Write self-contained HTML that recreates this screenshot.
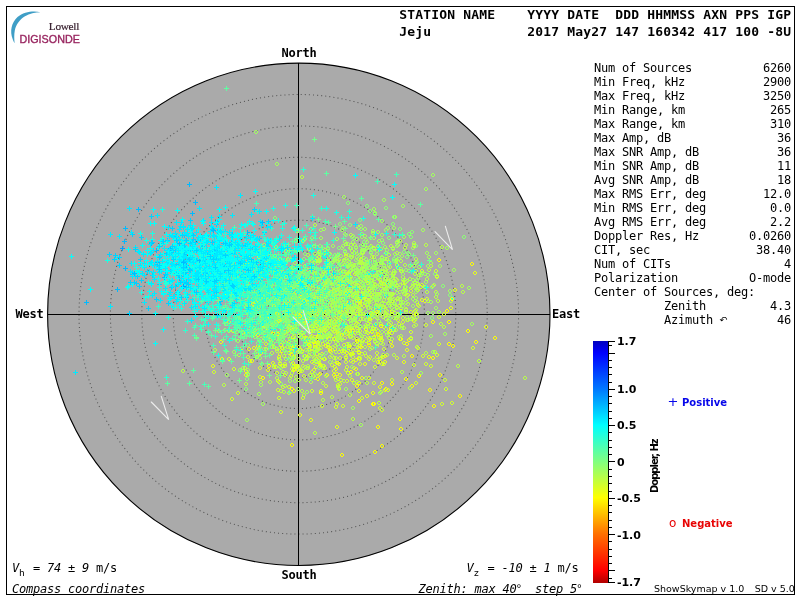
<!DOCTYPE html>
<html lang="en"><head><meta charset="utf-8"><title>Skymap - Jeju 2017 May27 160342</title>
<style>
html,body{margin:0;padding:0;background:#fff;}
body{width:800px;height:600px;position:relative;overflow:hidden;color:#000;
 font-family:"DejaVu Sans Mono","Liberation Mono",monospace;}
#g{position:absolute;left:0;top:0;}
.t{position:absolute;white-space:pre;margin:0;}
.hd{font-weight:bold;font-size:13px;letter-spacing:0.173px;line-height:16px;left:399.3px;}
.cp{font-weight:bold;font-size:12px;letter-spacing:-0.224px;line-height:14px;}
.m{font-size:12px;letter-spacing:-0.224px;line-height:14px;}
.m i,.m em{font-style:italic;}
.m sub{font-size:9.5px;vertical-align:baseline;position:relative;top:4px;display:inline-block;width:7px;letter-spacing:0;line-height:10px;}
.dg{font-family:"Liberation Sans",sans-serif;letter-spacing:0;display:inline-block;width:4.5px;font-style:normal;}
#tb{position:absolute;left:594px;top:61px;width:197px;font-size:12px;letter-spacing:-0.224px;line-height:14px;white-space:pre;}
#tb .r{position:relative;height:14px;}
#tb .v{position:absolute;right:0;top:0;}
#tb .az{font-style:normal;font-size:9.5px;position:absolute;top:-0.5px;left:125.6px;letter-spacing:0;line-height:14px;font-family:"DejaVu Sans",sans-serif;}
.sb{font-family:"DejaVu Sans","Liberation Sans",sans-serif;font-weight:bold;}
.sy{position:absolute;font-weight:normal;font-size:12px;line-height:14px;}
.lowell{font-family:"Liberation Serif",serif;font-size:11.3px;color:#38202f;left:48.8px;top:20.4px;line-height:13px;letter-spacing:-0.3px;-webkit-text-stroke:0.2px #38202f;}
.digi{font-family:"Liberation Sans",sans-serif;font-size:10.75px;color:#98245f;left:19.5px;top:33.2px;line-height:12px;-webkit-text-stroke:0.35px #98245f;}
</style></head><body>
<svg id="g" width="800" height="600" viewBox="0 0 800 600">
<defs><linearGradient id="cb" x1="0" y1="0" x2="0" y2="1"><stop offset="0.0000" stop-color="#0000be"/><stop offset="0.0486" stop-color="#0000ff"/><stop offset="0.1983" stop-color="#0078ff"/><stop offset="0.3481" stop-color="#00ffff"/><stop offset="0.4979" stop-color="#80ff80"/><stop offset="0.6477" stop-color="#ffff00"/><stop offset="0.7975" stop-color="#ff7000"/><stop offset="0.9473" stop-color="#ff0000"/><stop offset="1.0000" stop-color="#b00000"/></linearGradient></defs>
<rect x="6.5" y="6.5" width="788" height="588" fill="none" stroke="#000" stroke-width="1" shape-rendering="crispEdges"/>
<path d="M40.5 12.3C34 10.6 24 11.5 17.5 17C11.5 22.5 9.5 31 12.8 39.5C13.3 41 13.9 42.2 14.6 43.2C14.2 39 14 35 14.8 30.5C16 24.5 19.5 19.5 25 16.2C29.5 13.6 35 12.4 40.5 12.3Z" fill="#3f9ec6"/>
<circle cx="298.8" cy="314.3" r="251.2" fill="#aaaaaa" stroke="#000" stroke-width="1.1"/>
<g fill="none" stroke="#565656" stroke-width="1.05" stroke-dasharray="1.05 3.05">
<circle cx="298.8" cy="314.3" r="31.40"/>
<circle cx="298.8" cy="314.3" r="62.80"/>
<circle cx="298.8" cy="314.3" r="94.20"/>
<circle cx="298.8" cy="314.3" r="125.60"/>
<circle cx="298.8" cy="314.3" r="157.00"/>
<circle cx="298.8" cy="314.3" r="188.40"/>
<circle cx="298.8" cy="314.3" r="219.80"/>
</g>
<g stroke="#000" stroke-width="1" shape-rendering="crispEdges">
<path d="M298.5 63v502M48 314.5h502"/>
</g>
<g fill="none" stroke-width="1" stroke-linecap="square" shape-rendering="crispEdges" transform="translate(.5 .5)">
<path stroke="#fcff03" d="M418 374h1m1 1v1m-1 1h-1m-1-1v-1M439 373h1m1 1v1m-1 1h-1m-1-1v-1M438 258h1m1 1v1m-1 1h-1m-1-1v-1M459 394h1m1 1v1m-1 1h-1m-1-1v-1M360 345h1m1 1v1m-1 1h-1m-1-1v-1M350 370h1m1 1v1m-1 1h-1m-1-1v-1M380 324h1m1 1v1m-1 1h-1m-1-1v-1M283 330h1m1 1v1m-1 1h-1m-1-1v-1M257 344h1m1 1v1m-1 1h-1m-1-1v-1M406 342h1m1 1v1m-1 1h-1m-1-1v-1"/>
<path stroke="#e6ff1a" d="M363 295h1m1 1v1m-1 1h-1m-1-1v-1M428 355h1m1 1v1m-1 1h-1m-1-1v-1M310 418h1m1 1v1m-1 1h-1m-1-1v-1M258 347h1m1 1v1m-1 1h-1m-1-1v-1M311 315h1m1 1v1m-1 1h-1m-1-1v-1M294 338h1m1 1v1m-1 1h-1m-1-1v-1M317 334h1m1 1v1m-1 1h-1m-1-1v-1M313 311h1m1 1v1m-1 1h-1m-1-1v-1M302 308h1m1 1v1m-1 1h-1m-1-1v-1M353 366h1m1 1v1m-1 1h-1m-1-1v-1M358 381h1m1 1v1m-1 1h-1m-1-1v-1M291 347h1m1 1v1m-1 1h-1m-1-1v-1M432 284h1m1 1v1m-1 1h-1m-1-1v-1M341 349h1m1 1v1m-1 1h-1m-1-1v-1M268 336h1m1 1v1m-1 1h-1m-1-1v-1M321 352h1m1 1v1m-1 1h-1m-1-1v-1M355 358h1m1 1v1m-1 1h-1m-1-1v-1M406 348h1m1 1v1m-1 1h-1m-1-1v-1M245 369h1m1 1v1m-1 1h-1m-1-1v-1M399 337h1m1 1v1m-1 1h-1m-1-1v-1M326 335h1m1 1v1m-1 1h-1m-1-1v-1M212 364h1m1 1v1m-1 1h-1m-1-1v-1M281 349h1m1 1v1m-1 1h-1m-1-1v-1M272 332h1m1 1v1m-1 1h-1m-1-1v-1M220 340h1m1 1v1m-1 1h-1m-1-1v-1M318 356h1m1 1v1m-1 1h-1m-1-1v-1M251 359h1m1 1v1m-1 1h-1m-1-1v-1"/>
<path stroke="#cfff30" d="M359 357h1m1 1v1m-1 1h-1m-1-1v-1M310 276h1m1 1v1m-1 1h-1m-1-1v-1M281 327h1m1 1v1m-1 1h-1m-1-1v-1M347 371h1m1 1v1m-1 1h-1m-1-1v-1M355 291h1m1 1v1m-1 1h-1m-1-1v-1M313 339h1m1 1v1m-1 1h-1m-1-1v-1M309 348h1m1 1v1m-1 1h-1m-1-1v-1M342 404h1m1 1v1m-1 1h-1m-1-1v-1M326 326h1m1 1v1m-1 1h-1m-1-1v-1M379 406h1m1 1v1m-1 1h-1m-1-1v-1M327 343h1m1 1v1m-1 1h-1m-1-1v-1M289 345h1m1 1v1m-1 1h-1m-1-1v-1M237 391h1m1 1v1m-1 1h-1m-1-1v-1M318 361h1m1 1v1m-1 1h-1m-1-1v-1M372 307h1m1 1v1m-1 1h-1m-1-1v-1M289 346h1m1 1v1m-1 1h-1m-1-1v-1M303 334h1m1 1v1m-1 1h-1m-1-1v-1M350 335h1m1 1v1m-1 1h-1m-1-1v-1M345 355h1m1 1v1m-1 1h-1m-1-1v-1M339 382h1m1 1v1m-1 1h-1m-1-1v-1M232 329h1m1 1v1m-1 1h-1m-1-1v-1M359 312h1m1 1v1m-1 1h-1m-1-1v-1M350 327h1m1 1v1m-1 1h-1m-1-1v-1M288 385h1m1 1v1m-1 1h-1m-1-1v-1M241 346h1m1 1v1m-1 1h-1m-1-1v-1M280 410h1m1 1v1m-1 1h-1m-1-1v-1M337 377h1m1 1v1m-1 1h-1m-1-1v-1M259 366h1m1 1v1m-1 1h-1m-1-1v-1M291 347h1m1 1v1m-1 1h-1m-1-1v-1M317 322h1m1 1v1m-1 1h-1m-1-1v-1M347 327h1m1 1v1m-1 1h-1m-1-1v-1M300 368h1m1 1v1m-1 1h-1m-1-1v-1M345 326h1m1 1v1m-1 1h-1m-1-1v-1M377 333h1m1 1v1m-1 1h-1m-1-1v-1M259 325h1m1 1v1m-1 1h-1m-1-1v-1M357 372h1m1 1v1m-1 1h-1m-1-1v-1M290 374h1m1 1v1m-1 1h-1m-1-1v-1M400 269h1m1 1v1m-1 1h-1m-1-1v-1M354 272h1m1 1v1m-1 1h-1m-1-1v-1M340 378h1m1 1v1m-1 1h-1m-1-1v-1M315 365h1m1 1v1m-1 1h-1m-1-1v-1M309 345h1m1 1v1m-1 1h-1m-1-1v-1M366 272h1m1 1v1m-1 1h-1m-1-1v-1M260 351h1m1 1v1m-1 1h-1m-1-1v-1M352 295h1m1 1v1m-1 1h-1m-1-1v-1M317 341h1m1 1v1m-1 1h-1m-1-1v-1M314 335h1m1 1v1m-1 1h-1m-1-1v-1M373 381h1m1 1v1m-1 1h-1m-1-1v-1M333 330h1m1 1v1m-1 1h-1m-1-1v-1M354 318h1m1 1v1m-1 1h-1m-1-1v-1M345 356h1m1 1v1m-1 1h-1m-1-1v-1M297 302h1m1 1v1m-1 1h-1m-1-1v-1M318 290h1m1 1v1m-1 1h-1m-1-1v-1M358 344h1m1 1v1m-1 1h-1m-1-1v-1M295 310h1m1 1v1m-1 1h-1m-1-1v-1M279 352h1m1 1v1m-1 1h-1m-1-1v-1M298 370h1m1 1v1m-1 1h-1m-1-1v-1M284 364h1m1 1v1m-1 1h-1m-1-1v-1M293 354h1m1 1v1m-1 1h-1m-1-1v-1M402 316h1m1 1v1m-1 1h-1m-1-1v-1M355 280h1m1 1v1m-1 1h-1m-1-1v-1M375 327h1m1 1v1m-1 1h-1m-1-1v-1M355 348h1m1 1v1m-1 1h-1m-1-1v-1M314 376h1m1 1v1m-1 1h-1m-1-1v-1"/>
<path stroke="#b8ff47" d="M291 371h1m1 1v1m-1 1h-1m-1-1v-1M384 270h1m1 1v1m-1 1h-1m-1-1v-1M356 289h1m1 1v1m-1 1h-1m-1-1v-1M326 273h1m1 1v1m-1 1h-1m-1-1v-1M372 310h1m1 1v1m-1 1h-1m-1-1v-1M425 351h1m1 1v1m-1 1h-1m-1-1v-1M302 281h1m1 1v1m-1 1h-1m-1-1v-1M366 303h1m1 1v1m-1 1h-1m-1-1v-1M322 381h1m1 1v1m-1 1h-1m-1-1v-1M417 288h1m1 1v1m-1 1h-1m-1-1v-1M450 299h1m1 1v1m-1 1h-1m-1-1v-1M393 269h1m1 1v1m-1 1h-1m-1-1v-1M400 334h1m1 1v1m-1 1h-1m-1-1v-1M359 325h1m1 1v1m-1 1h-1m-1-1v-1M378 311h1m1 1v1m-1 1h-1m-1-1v-1M336 287h1m1 1v1m-1 1h-1m-1-1v-1M387 283h1m1 1v1m-1 1h-1m-1-1v-1M338 319h1m1 1v1m-1 1h-1m-1-1v-1M368 299h1m1 1v1m-1 1h-1m-1-1v-1M278 294h1m1 1v1m-1 1h-1m-1-1v-1M417 284h1m1 1v1m-1 1h-1m-1-1v-1M323 325h1m1 1v1m-1 1h-1m-1-1v-1M372 310h1m1 1v1m-1 1h-1m-1-1v-1M290 286h1m1 1v1m-1 1h-1m-1-1v-1M315 271h1m1 1v1m-1 1h-1m-1-1v-1M182 369h1m1 1v1m-1 1h-1m-1-1v-1M354 243h1m1 1v1m-1 1h-1m-1-1v-1M309 373h1m1 1v1m-1 1h-1m-1-1v-1M359 282h1m1 1v1m-1 1h-1m-1-1v-1M365 328h1m1 1v1m-1 1h-1m-1-1v-1M254 335h1m1 1v1m-1 1h-1m-1-1v-1M349 335h1m1 1v1m-1 1h-1m-1-1v-1M338 297h1m1 1v1m-1 1h-1m-1-1v-1M333 298h1m1 1v1m-1 1h-1m-1-1v-1M260 337h1m1 1v1m-1 1h-1m-1-1v-1M331 274h1m1 1v1m-1 1h-1m-1-1v-1M337 334h1m1 1v1m-1 1h-1m-1-1v-1M363 279h1m1 1v1m-1 1h-1m-1-1v-1M269 380h1m1 1v1m-1 1h-1m-1-1v-1M349 290h1m1 1v1m-1 1h-1m-1-1v-1M382 281h1m1 1v1m-1 1h-1m-1-1v-1M389 280h1m1 1v1m-1 1h-1m-1-1v-1M332 282h1m1 1v1m-1 1h-1m-1-1v-1M351 249h1m1 1v1m-1 1h-1m-1-1v-1M335 311h1m1 1v1m-1 1h-1m-1-1v-1M323 302h1m1 1v1m-1 1h-1m-1-1v-1M330 350h1m1 1v1m-1 1h-1m-1-1v-1M329 289h1m1 1v1m-1 1h-1m-1-1v-1M349 276h1m1 1v1m-1 1h-1m-1-1v-1M416 312h1m1 1v1m-1 1h-1m-1-1v-1M218 329h1m1 1v1m-1 1h-1m-1-1v-1M371 273h1m1 1v1m-1 1h-1m-1-1v-1M415 323h1m1 1v1m-1 1h-1m-1-1v-1M377 329h1m1 1v1m-1 1h-1m-1-1v-1M349 318h1m1 1v1m-1 1h-1m-1-1v-1M390 244h1m1 1v1m-1 1h-1m-1-1v-1M308 340h1m1 1v1m-1 1h-1m-1-1v-1M247 329h1m1 1v1m-1 1h-1m-1-1v-1M324 268h1m1 1v1m-1 1h-1m-1-1v-1M311 259h1m1 1v1m-1 1h-1m-1-1v-1M293 329h1m1 1v1m-1 1h-1m-1-1v-1M375 303h1m1 1v1m-1 1h-1m-1-1v-1M343 294h1m1 1v1m-1 1h-1m-1-1v-1M360 312h1m1 1v1m-1 1h-1m-1-1v-1M279 319h1m1 1v1m-1 1h-1m-1-1v-1M318 291h1m1 1v1m-1 1h-1m-1-1v-1M307 253h1m1 1v1m-1 1h-1m-1-1v-1M382 342h1m1 1v1m-1 1h-1m-1-1v-1M359 259h1m1 1v1m-1 1h-1m-1-1v-1M339 322h1m1 1v1m-1 1h-1m-1-1v-1M311 317h1m1 1v1m-1 1h-1m-1-1v-1M282 315h1m1 1v1m-1 1h-1m-1-1v-1M407 318h1m1 1v1m-1 1h-1m-1-1v-1M299 329h1m1 1v1m-1 1h-1m-1-1v-1M367 306h1m1 1v1m-1 1h-1m-1-1v-1M390 284h1m1 1v1m-1 1h-1m-1-1v-1M386 353h1m1 1v1m-1 1h-1m-1-1v-1M359 289h1m1 1v1m-1 1h-1m-1-1v-1M350 255h1m1 1v1m-1 1h-1m-1-1v-1M425 243h1m1 1v1m-1 1h-1m-1-1v-1M280 389h1m1 1v1m-1 1h-1m-1-1v-1M323 309h1m1 1v1m-1 1h-1m-1-1v-1M364 262h1m1 1v1m-1 1h-1m-1-1v-1M329 323h1m1 1v1m-1 1h-1m-1-1v-1M373 336h1m1 1v1m-1 1h-1m-1-1v-1M347 317h1m1 1v1m-1 1h-1m-1-1v-1M379 313h1m1 1v1m-1 1h-1m-1-1v-1M324 285h1m1 1v1m-1 1h-1m-1-1v-1M334 344h1m1 1v1m-1 1h-1m-1-1v-1M413 241h1m1 1v1m-1 1h-1m-1-1v-1M376 344h1m1 1v1m-1 1h-1m-1-1v-1M295 316h1m1 1v1m-1 1h-1m-1-1v-1M365 301h1m1 1v1m-1 1h-1m-1-1v-1M353 342h1m1 1v1m-1 1h-1m-1-1v-1M339 309h1m1 1v1m-1 1h-1m-1-1v-1M345 257h1m1 1v1m-1 1h-1m-1-1v-1M443 325h1m1 1v1m-1 1h-1m-1-1v-1M360 317h1m1 1v1m-1 1h-1m-1-1v-1M373 327h1m1 1v1m-1 1h-1m-1-1v-1M319 258h1m1 1v1m-1 1h-1m-1-1v-1M374 340h1m1 1v1m-1 1h-1m-1-1v-1M340 347h1m1 1v1m-1 1h-1m-1-1v-1M298 279h1m1 1v1m-1 1h-1m-1-1v-1M385 330h1m1 1v1m-1 1h-1m-1-1v-1M402 300h1m1 1v1m-1 1h-1m-1-1v-1M364 345h1m1 1v1m-1 1h-1m-1-1v-1M392 285h1m1 1v1m-1 1h-1m-1-1v-1M426 277h1m1 1v1m-1 1h-1m-1-1v-1M369 347h1m1 1v1m-1 1h-1m-1-1v-1M391 310h1m1 1v1m-1 1h-1m-1-1v-1M416 345h1m1 1v1m-1 1h-1m-1-1v-1M341 278h1m1 1v1m-1 1h-1m-1-1v-1M375 283h1m1 1v1m-1 1h-1m-1-1v-1M336 306h1m1 1v1m-1 1h-1m-1-1v-1M396 278h1m1 1v1m-1 1h-1m-1-1v-1M263 302h1m1 1v1m-1 1h-1m-1-1v-1M322 364h1m1 1v1m-1 1h-1m-1-1v-1M379 305h1m1 1v1m-1 1h-1m-1-1v-1M350 275h1m1 1v1m-1 1h-1m-1-1v-1M415 269h1m1 1v1m-1 1h-1m-1-1v-1M308 337h1m1 1v1m-1 1h-1m-1-1v-1M418 273h1m1 1v1m-1 1h-1m-1-1v-1M318 285h1m1 1v1m-1 1h-1m-1-1v-1M290 299h1m1 1v1m-1 1h-1m-1-1v-1M357 284h1m1 1v1m-1 1h-1m-1-1v-1M440 322h1m1 1v1m-1 1h-1m-1-1v-1M360 258h1m1 1v1m-1 1h-1m-1-1v-1M331 395h1m1 1v1m-1 1h-1m-1-1v-1"/>
<path stroke="#a2ff5e" d="M317 312h1m1 1v1m-1 1h-1m-1-1v-1M312 292h1m1 1v1m-1 1h-1m-1-1v-1M364 290h1m1 1v1m-1 1h-1m-1-1v-1M400 301h1m1 1v1m-1 1h-1m-1-1v-1M356 286h1m1 1v1m-1 1h-1m-1-1v-1M307 310h1m1 1v1m-1 1h-1m-1-1v-1M282 346h1m1 1v1m-1 1h-1m-1-1v-1M323 325h1m1 1v1m-1 1h-1m-1-1v-1M342 261h1m1 1v1m-1 1h-1m-1-1v-1M261 285h1m1 1v1m-1 1h-1m-1-1v-1M353 318h1m1 1v1m-1 1h-1m-1-1v-1M296 229h1m1 1v1m-1 1h-1m-1-1v-1M430 334h1m1 1v1m-1 1h-1m-1-1v-1M345 289h1m1 1v1m-1 1h-1m-1-1v-1M328 299h1m1 1v1m-1 1h-1m-1-1v-1M294 329h1m1 1v1m-1 1h-1m-1-1v-1M344 258h1m1 1v1m-1 1h-1m-1-1v-1M320 236h1m1 1v1m-1 1h-1m-1-1v-1M311 283h1m1 1v1m-1 1h-1m-1-1v-1M396 316h1m1 1v1m-1 1h-1m-1-1v-1M322 335h1m1 1v1m-1 1h-1m-1-1v-1M329 319h1m1 1v1m-1 1h-1m-1-1v-1M394 282h1m1 1v1m-1 1h-1m-1-1v-1M379 300h1m1 1v1m-1 1h-1m-1-1v-1M380 247h1m1 1v1m-1 1h-1m-1-1v-1M259 356h1m1 1v1m-1 1h-1m-1-1v-1M425 285h1m1 1v1m-1 1h-1m-1-1v-1M323 291h1m1 1v1m-1 1h-1m-1-1v-1M366 240h1m1 1v1m-1 1h-1m-1-1v-1M392 272h1m1 1v1m-1 1h-1m-1-1v-1M329 263h1m1 1v1m-1 1h-1m-1-1v-1M381 260h1m1 1v1m-1 1h-1m-1-1v-1M314 269h1m1 1v1m-1 1h-1m-1-1v-1M306 328h1m1 1v1m-1 1h-1m-1-1v-1M406 315h1m1 1v1m-1 1h-1m-1-1v-1M293 319h1m1 1v1m-1 1h-1m-1-1v-1M315 317h1m1 1v1m-1 1h-1m-1-1v-1M427 273h1m1 1v1m-1 1h-1m-1-1v-1M345 387h1m1 1v1m-1 1h-1m-1-1v-1M344 277h1m1 1v1m-1 1h-1m-1-1v-1M385 228h1m1 1v1m-1 1h-1m-1-1v-1M351 253h1m1 1v1m-1 1h-1m-1-1v-1M333 258h1m1 1v1m-1 1h-1m-1-1v-1M300 292h1m1 1v1m-1 1h-1m-1-1v-1M313 293h1m1 1v1m-1 1h-1m-1-1v-1M395 316h1m1 1v1m-1 1h-1m-1-1v-1M358 304h1m1 1v1m-1 1h-1m-1-1v-1M415 287h1m1 1v1m-1 1h-1m-1-1v-1M430 261h1m1 1v1m-1 1h-1m-1-1v-1M335 274h1m1 1v1m-1 1h-1m-1-1v-1M390 284h1m1 1v1m-1 1h-1m-1-1v-1M298 333h1m1 1v1m-1 1h-1m-1-1v-1M370 285h1m1 1v1m-1 1h-1m-1-1v-1M395 287h1m1 1v1m-1 1h-1m-1-1v-1M369 259h1m1 1v1m-1 1h-1m-1-1v-1M278 263h1m1 1v1m-1 1h-1m-1-1v-1M312 308h1m1 1v1m-1 1h-1m-1-1v-1M317 311h1m1 1v1m-1 1h-1m-1-1v-1M278 338h1m1 1v1m-1 1h-1m-1-1v-1M371 329h1m1 1v1m-1 1h-1m-1-1v-1M364 227h1m1 1v1m-1 1h-1m-1-1v-1M389 304h1m1 1v1m-1 1h-1m-1-1v-1M412 246h1m1 1v1m-1 1h-1m-1-1v-1M354 318h1m1 1v1m-1 1h-1m-1-1v-1M359 308h1m1 1v1m-1 1h-1m-1-1v-1M332 314h1m1 1v1m-1 1h-1m-1-1v-1M294 306h1m1 1v1m-1 1h-1m-1-1v-1M365 376h1m1 1v1m-1 1h-1m-1-1v-1M283 274h1m1 1v1m-1 1h-1m-1-1v-1M297 331h1m1 1v1m-1 1h-1m-1-1v-1M385 313h1m1 1v1m-1 1h-1m-1-1v-1M364 267h1m1 1v1m-1 1h-1m-1-1v-1M282 370h1m1 1v1m-1 1h-1m-1-1v-1M354 295h1m1 1v1m-1 1h-1m-1-1v-1M420 273h1m1 1v1m-1 1h-1m-1-1v-1M354 285h1m1 1v1m-1 1h-1m-1-1v-1M362 281h1m1 1v1m-1 1h-1m-1-1v-1M300 276h1m1 1v1m-1 1h-1m-1-1v-1M332 260h1m1 1v1m-1 1h-1m-1-1v-1M319 274h1m1 1v1m-1 1h-1m-1-1v-1M388 260h1m1 1v1m-1 1h-1m-1-1v-1M348 342h1m1 1v1m-1 1h-1m-1-1v-1M318 258h1m1 1v1m-1 1h-1m-1-1v-1M397 313h1m1 1v1m-1 1h-1m-1-1v-1M279 321h1m1 1v1m-1 1h-1m-1-1v-1M319 259h1m1 1v1m-1 1h-1m-1-1v-1M315 281h1m1 1v1m-1 1h-1m-1-1v-1M363 325h1m1 1v1m-1 1h-1m-1-1v-1M381 256h1m1 1v1m-1 1h-1m-1-1v-1M371 312h1m1 1v1m-1 1h-1m-1-1v-1M417 276h1m1 1v1m-1 1h-1m-1-1v-1M285 333h1m1 1v1m-1 1h-1m-1-1v-1M347 253h1m1 1v1m-1 1h-1m-1-1v-1M305 323h1m1 1v1m-1 1h-1m-1-1v-1M397 266h1m1 1v1m-1 1h-1m-1-1v-1M367 289h1m1 1v1m-1 1h-1m-1-1v-1M293 364h1m1 1v1m-1 1h-1m-1-1v-1M362 276h1m1 1v1m-1 1h-1m-1-1v-1M345 307h1m1 1v1m-1 1h-1m-1-1v-1M392 274h1m1 1v1m-1 1h-1m-1-1v-1M270 296h1m1 1v1m-1 1h-1m-1-1v-1M345 270h1m1 1v1m-1 1h-1m-1-1v-1M394 215h1m1 1v1m-1 1h-1m-1-1v-1M301 301h1m1 1v1m-1 1h-1m-1-1v-1M328 272h1m1 1v1m-1 1h-1m-1-1v-1M446 246h1m1 1v1m-1 1h-1m-1-1v-1M357 257h1m1 1v1m-1 1h-1m-1-1v-1M286 313h1m1 1v1m-1 1h-1m-1-1v-1M347 349h1m1 1v1m-1 1h-1m-1-1v-1M357 257h1m1 1v1m-1 1h-1m-1-1v-1M285 261h1m1 1v1m-1 1h-1m-1-1v-1M331 337h1m1 1v1m-1 1h-1m-1-1v-1M337 260h1m1 1v1m-1 1h-1m-1-1v-1M331 292h1m1 1v1m-1 1h-1m-1-1v-1M342 284h1m1 1v1m-1 1h-1m-1-1v-1M345 311h1m1 1v1m-1 1h-1m-1-1v-1M332 325h1m1 1v1m-1 1h-1m-1-1v-1M308 310h1m1 1v1m-1 1h-1m-1-1v-1M383 272h1m1 1v1m-1 1h-1m-1-1v-1M308 275h1m1 1v1m-1 1h-1m-1-1v-1M226 373h1m1 1v1m-1 1h-1m-1-1v-1M398 285h1m1 1v1m-1 1h-1m-1-1v-1M397 243h1m1 1v1m-1 1h-1m-1-1v-1M378 276h1m1 1v1m-1 1h-1m-1-1v-1M375 273h1m1 1v1m-1 1h-1m-1-1v-1M335 288h1m1 1v1m-1 1h-1m-1-1v-1M349 246h1m1 1v1m-1 1h-1m-1-1v-1M391 282h1m1 1v1m-1 1h-1m-1-1v-1M312 277h1m1 1v1m-1 1h-1m-1-1v-1M332 322h1m1 1v1m-1 1h-1m-1-1v-1M348 273h1m1 1v1m-1 1h-1m-1-1v-1M305 307h1m1 1v1m-1 1h-1m-1-1v-1M403 235h1m1 1v1m-1 1h-1m-1-1v-1M279 365h1m1 1v1m-1 1h-1m-1-1v-1M314 372h1m1 1v1m-1 1h-1m-1-1v-1M366 318h1m1 1v1m-1 1h-1m-1-1v-1M378 310h1m1 1v1m-1 1h-1m-1-1v-1M374 314h1m1 1v1m-1 1h-1m-1-1v-1M357 329h1m1 1v1m-1 1h-1m-1-1v-1M351 311h1m1 1v1m-1 1h-1m-1-1v-1M343 270h1m1 1v1m-1 1h-1m-1-1v-1"/>
<path stroke="#8bff75" d="M368 317h1m1 1v1m-1 1h-1m-1-1v-1M266 314h1m1 1v1m-1 1h-1m-1-1v-1M317 299h1m1 1v1m-1 1h-1m-1-1v-1M368 290h1m1 1v1m-1 1h-1m-1-1v-1M247 320h1m1 1v1m-1 1h-1m-1-1v-1M306 316h1m1 1v1m-1 1h-1m-1-1v-1M324 307h1m1 1v1m-1 1h-1m-1-1v-1M301 288h1m1 1v1m-1 1h-1m-1-1v-1M381 291h1m1 1v1m-1 1h-1m-1-1v-1M333 269h1m1 1v1m-1 1h-1m-1-1v-1M268 334h1m1 1v1m-1 1h-1m-1-1v-1M260 296h1m1 1v1m-1 1h-1m-1-1v-1M379 282h1m1 1v1m-1 1h-1m-1-1v-1M249 324h1m1 1v1m-1 1h-1m-1-1v-1M301 260h1m1 1v1m-1 1h-1m-1-1v-1M321 279h1m1 1v1m-1 1h-1m-1-1v-1M284 289h1m1 1v1m-1 1h-1m-1-1v-1M317 316h1m1 1v1m-1 1h-1m-1-1v-1M280 324h1m1 1v1m-1 1h-1m-1-1v-1M280 382h1m1 1v1m-1 1h-1m-1-1v-1M268 290h1m1 1v1m-1 1h-1m-1-1v-1M327 322h1m1 1v1m-1 1h-1m-1-1v-1M291 302h1m1 1v1m-1 1h-1m-1-1v-1M360 227h1m1 1v1m-1 1h-1m-1-1v-1M421 271h1m1 1v1m-1 1h-1m-1-1v-1M369 262h1m1 1v1m-1 1h-1m-1-1v-1M260 321h1m1 1v1m-1 1h-1m-1-1v-1M321 312h1m1 1v1m-1 1h-1m-1-1v-1M331 295h1m1 1v1m-1 1h-1m-1-1v-1M270 341h1m1 1v1m-1 1h-1m-1-1v-1M339 278h1m1 1v1m-1 1h-1m-1-1v-1M257 341h1m1 1v1m-1 1h-1m-1-1v-1M245 296h1m1 1v1m-1 1h-1m-1-1v-1M393 259h1m1 1v1m-1 1h-1m-1-1v-1M318 308h1m1 1v1m-1 1h-1m-1-1v-1M364 274h1m1 1v1m-1 1h-1m-1-1v-1M291 350h1m1 1v1m-1 1h-1m-1-1v-1M307 299h1m1 1v1m-1 1h-1m-1-1v-1M259 339h1m1 1v1m-1 1h-1m-1-1v-1M359 218h1m1 1v1m-1 1h-1m-1-1v-1M338 246h1m1 1v1m-1 1h-1m-1-1v-1M349 279h1m1 1v1m-1 1h-1m-1-1v-1M345 301h1m1 1v1m-1 1h-1m-1-1v-1M326 336h1m1 1v1m-1 1h-1m-1-1v-1M275 273h1m1 1v1m-1 1h-1m-1-1v-1M281 288h1m1 1v1m-1 1h-1m-1-1v-1M260 306h1m1 1v1m-1 1h-1m-1-1v-1M324 282h1m1 1v1m-1 1h-1m-1-1v-1M326 249h1m1 1v1m-1 1h-1m-1-1v-1M288 301h1m1 1v1m-1 1h-1m-1-1v-1M322 296h1m1 1v1m-1 1h-1m-1-1v-1M326 279h1m1 1v1m-1 1h-1m-1-1v-1M344 321h1m1 1v1m-1 1h-1m-1-1v-1M281 293h1m1 1v1m-1 1h-1m-1-1v-1M361 270h1m1 1v1m-1 1h-1m-1-1v-1M287 313h1m1 1v1m-1 1h-1m-1-1v-1M407 251h1m1 1v1m-1 1h-1m-1-1v-1M405 289h1m1 1v1m-1 1h-1m-1-1v-1M416 260h1m1 1v1m-1 1h-1m-1-1v-1M353 236h1m1 1v1m-1 1h-1m-1-1v-1M288 296h1m1 1v1m-1 1h-1m-1-1v-1M279 331h1m1 1v1m-1 1h-1m-1-1v-1M326 333h1m1 1v1m-1 1h-1m-1-1v-1M295 338h1m1 1v1m-1 1h-1m-1-1v-1M304 315h1m1 1v1m-1 1h-1m-1-1v-1M368 283h1m1 1v1m-1 1h-1m-1-1v-1M308 342h1m1 1v1m-1 1h-1m-1-1v-1M335 298h1m1 1v1m-1 1h-1m-1-1v-1M337 322h1m1 1v1m-1 1h-1m-1-1v-1M230 299h1m1 1v1m-1 1h-1m-1-1v-1M322 310h1m1 1v1m-1 1h-1m-1-1v-1M281 329h1m1 1v1m-1 1h-1m-1-1v-1M316 291h1m1 1v1m-1 1h-1m-1-1v-1M294 314h1m1 1v1m-1 1h-1m-1-1v-1M331 319h1m1 1v1m-1 1h-1m-1-1v-1M324 319h1m1 1v1m-1 1h-1m-1-1v-1M374 286h1m1 1v1m-1 1h-1m-1-1v-1M358 261h1m1 1v1m-1 1h-1m-1-1v-1M319 308h1m1 1v1m-1 1h-1m-1-1v-1M309 289h1m1 1v1m-1 1h-1m-1-1v-1M304 302h1m1 1v1m-1 1h-1m-1-1v-1M340 331h1m1 1v1m-1 1h-1m-1-1v-1M323 295h1m1 1v1m-1 1h-1m-1-1v-1M316 274h1m1 1v1m-1 1h-1m-1-1v-1M376 274h1m1 1v1m-1 1h-1m-1-1v-1M343 273h1m1 1v1m-1 1h-1m-1-1v-1M278 336h1m1 1v1m-1 1h-1m-1-1v-1M334 323h1m1 1v1m-1 1h-1m-1-1v-1M364 292h1m1 1v1m-1 1h-1m-1-1v-1"/>
<path stroke="#75ff8b" d="M245 274h4m-2-2v4M292 329h4m-2-2v4M238 337h4m-2-2v4M271 320h4m-2-2v4M224 351h4m-2-2v4M281 343h4m-2-2v4M328 264h4m-2-2v4M278 300h4m-2-2v4M308 319h4m-2-2v4M281 301h4m-2-2v4M270 325h4m-2-2v4M289 329h4m-2-2v4M273 312h4m-2-2v4M314 301h4m-2-2v4M312 306h4m-2-2v4M315 273h4m-2-2v4M303 331h4m-2-2v4M314 269h4m-2-2v4M296 230h4m-2-2v4M327 282h4m-2-2v4M273 311h4m-2-2v4M291 358h4m-2-2v4M237 316h4m-2-2v4M233 339h4m-2-2v4M268 335h4m-2-2v4M289 271h4m-2-2v4M271 339h4m-2-2v4M298 336h4m-2-2v4M252 303h4m-2-2v4M302 301h4m-2-2v4M288 331h4m-2-2v4M285 297h4m-2-2v4M261 334h4m-2-2v4M257 313h4m-2-2v4M292 329h4m-2-2v4M333 226h4m-2-2v4M274 309h4m-2-2v4M312 315h4m-2-2v4M267 281h4m-2-2v4M290 298h4m-2-2v4M256 300h4m-2-2v4M310 282h4m-2-2v4M332 298h4m-2-2v4M316 312h4m-2-2v4M309 315h4m-2-2v4M312 310h4m-2-2v4M270 324h4m-2-2v4M307 295h4m-2-2v4M220 361h4m-2-2v4M276 312h4m-2-2v4M248 268h4m-2-2v4M296 296h4m-2-2v4M321 298h4m-2-2v4M301 345h4m-2-2v4M286 290h4m-2-2v4M265 331h4m-2-2v4M255 296h4m-2-2v4M343 347h4m-2-2v4M293 317h4m-2-2v4M298 289h4m-2-2v4M237 380h4m-2-2v4M344 316h4m-2-2v4M290 345h4m-2-2v4M311 305h4m-2-2v4M273 308h4m-2-2v4M326 289h4m-2-2v4M271 264h4m-2-2v4M280 298h4m-2-2v4M312 279h4m-2-2v4M310 339h4m-2-2v4M316 270h4m-2-2v4"/>
<path stroke="#5effa2" d="M295 276h4m-2-2v4M324 173h4m-2-2v4M272 277h4m-2-2v4M297 297h4m-2-2v4M291 310h4m-2-2v4M272 336h4m-2-2v4M267 300h4m-2-2v4M316 301h4m-2-2v4M260 310h4m-2-2v4M278 288h4m-2-2v4M281 321h4m-2-2v4M273 308h4m-2-2v4M303 307h4m-2-2v4M298 323h4m-2-2v4M286 311h4m-2-2v4M274 289h4m-2-2v4M285 296h4m-2-2v4M275 272h4m-2-2v4M221 293h4m-2-2v4M282 304h4m-2-2v4M296 300h4m-2-2v4M246 309h4m-2-2v4M266 271h4m-2-2v4M307 272h4m-2-2v4M292 329h4m-2-2v4M335 274h4m-2-2v4M272 269h4m-2-2v4M276 318h4m-2-2v4M234 299h4m-2-2v4M308 298h4m-2-2v4M269 304h4m-2-2v4M226 295h4m-2-2v4M242 234h4m-2-2v4M256 332h4m-2-2v4M324 300h4m-2-2v4M338 265h4m-2-2v4M293 308h4m-2-2v4M278 289h4m-2-2v4M217 330h4m-2-2v4M267 303h4m-2-2v4M279 326h4m-2-2v4M263 353h4m-2-2v4M293 296h4m-2-2v4M311 313h4m-2-2v4M298 323h4m-2-2v4M284 291h4m-2-2v4M265 298h4m-2-2v4M251 313h4m-2-2v4M298 299h4m-2-2v4M275 308h4m-2-2v4M233 324h4m-2-2v4M234 307h4m-2-2v4M320 307h4m-2-2v4M269 315h4m-2-2v4M265 322h4m-2-2v4M263 304h4m-2-2v4M287 287h4m-2-2v4M284 283h4m-2-2v4M282 278h4m-2-2v4M222 323h4m-2-2v4M367 262h4m-2-2v4M281 330h4m-2-2v4M370 311h4m-2-2v4M298 308h4m-2-2v4M259 271h4m-2-2v4M272 346h4m-2-2v4M297 271h4m-2-2v4M271 269h4m-2-2v4M250 321h4m-2-2v4"/>
<path stroke="#47ffb8" d="M233 292h4m-2-2v4M240 278h4m-2-2v4M230 246h4m-2-2v4M299 293h4m-2-2v4M221 307h4m-2-2v4M252 305h4m-2-2v4M288 301h4m-2-2v4M251 299h4m-2-2v4M248 261h4m-2-2v4M236 315h4m-2-2v4M216 325h4m-2-2v4M285 293h4m-2-2v4M275 290h4m-2-2v4M297 307h4m-2-2v4M255 305h4m-2-2v4M273 275h4m-2-2v4M269 328h4m-2-2v4M238 310h4m-2-2v4M309 265h4m-2-2v4M283 300h4m-2-2v4M281 267h4m-2-2v4M301 318h4m-2-2v4M263 309h4m-2-2v4M226 316h4m-2-2v4M193 325h4m-2-2v4M295 290h4m-2-2v4M247 273h4m-2-2v4M261 289h4m-2-2v4M238 266h4m-2-2v4M304 225h4m-2-2v4M245 326h4m-2-2v4M254 334h4m-2-2v4M266 331h4m-2-2v4M233 311h4m-2-2v4M296 297h4m-2-2v4M252 297h4m-2-2v4M279 328h4m-2-2v4M235 306h4m-2-2v4M192 335h4m-2-2v4M338 295h4m-2-2v4M285 276h4m-2-2v4M270 256h4m-2-2v4M272 300h4m-2-2v4M282 260h4m-2-2v4M304 294h4m-2-2v4M256 303h4m-2-2v4M369 316h4m-2-2v4M252 278h4m-2-2v4M249 317h4m-2-2v4M247 306h4m-2-2v4M245 302h4m-2-2v4M223 291h4m-2-2v4M241 357h4m-2-2v4"/>
<path stroke="#30ffcf" d="M202 320h4m-2-2v4M209 271h4m-2-2v4M284 307h4m-2-2v4M246 296h4m-2-2v4M301 169h4m-2-2v4M263 269h4m-2-2v4M211 308h4m-2-2v4M310 256h4m-2-2v4M230 278h4m-2-2v4M211 300h4m-2-2v4M251 267h4m-2-2v4M224 275h4m-2-2v4M164 377h4m-2-2v4M216 289h4m-2-2v4M263 291h4m-2-2v4M156 306h4m-2-2v4M319 285h4m-2-2v4M321 286h4m-2-2v4M243 285h4m-2-2v4M386 283h4m-2-2v4M192 277h4m-2-2v4M191 292h4m-2-2v4M244 253h4m-2-2v4M208 258h4m-2-2v4M293 277h4m-2-2v4M262 318h4m-2-2v4M295 250h4m-2-2v4M267 252h4m-2-2v4M264 277h4m-2-2v4M254 302h4m-2-2v4M387 263h4m-2-2v4M338 323h4m-2-2v4M231 303h4m-2-2v4M222 268h4m-2-2v4M232 316h4m-2-2v4M301 239h4m-2-2v4M246 312h4m-2-2v4M260 249h4m-2-2v4M263 239h4m-2-2v4M197 284h4m-2-2v4M259 258h4m-2-2v4M230 312h4m-2-2v4M211 317h4m-2-2v4M242 254h4m-2-2v4M214 328h4m-2-2v4M216 269h4m-2-2v4M259 276h4m-2-2v4M242 274h4m-2-2v4M280 309h4m-2-2v4M207 285h4m-2-2v4M225 277h4m-2-2v4M269 302h4m-2-2v4M272 254h4m-2-2v4M366 278h4m-2-2v4M228 256h4m-2-2v4M249 335h4m-2-2v4M283 299h4m-2-2v4M290 281h4m-2-2v4M266 269h4m-2-2v4M263 267h4m-2-2v4M218 316h4m-2-2v4"/>
<path stroke="#1affe6" d="M224 288h4m-2-2v4M214 324h4m-2-2v4M261 314h4m-2-2v4M290 273h4m-2-2v4M244 331h4m-2-2v4M269 265h4m-2-2v4M209 264h4m-2-2v4M210 277h4m-2-2v4M204 305h4m-2-2v4M250 282h4m-2-2v4M232 278h4m-2-2v4M224 297h4m-2-2v4M201 251h4m-2-2v4M243 263h4m-2-2v4M214 252h4m-2-2v4M218 316h4m-2-2v4M216 275h4m-2-2v4M210 237h4m-2-2v4M266 284h4m-2-2v4M223 249h4m-2-2v4M235 251h4m-2-2v4M282 267h4m-2-2v4M214 255h4m-2-2v4M292 274h4m-2-2v4M318 333h4m-2-2v4M193 278h4m-2-2v4M299 280h4m-2-2v4M203 324h4m-2-2v4M245 284h4m-2-2v4M257 296h4m-2-2v4M230 264h4m-2-2v4M243 241h4m-2-2v4M310 250h4m-2-2v4M134 270h4m-2-2v4M253 322h4m-2-2v4M212 270h4m-2-2v4M247 263h4m-2-2v4M194 261h4m-2-2v4M217 271h4m-2-2v4M186 262h4m-2-2v4M204 290h4m-2-2v4M373 324h4m-2-2v4M229 302h4m-2-2v4M150 239h4m-2-2v4M253 303h4m-2-2v4M341 278h4m-2-2v4M274 273h4m-2-2v4M282 261h4m-2-2v4M219 284h4m-2-2v4M276 271h4m-2-2v4M289 260h4m-2-2v4M189 293h4m-2-2v4M252 291h4m-2-2v4M240 316h4m-2-2v4M208 278h4m-2-2v4M238 296h4m-2-2v4M256 293h4m-2-2v4M210 299h4m-2-2v4M254 276h4m-2-2v4M229 264h4m-2-2v4M247 266h4m-2-2v4M152 275h4m-2-2v4M379 272h4m-2-2v4M284 252h4m-2-2v4M300 241h4m-2-2v4M209 287h4m-2-2v4M222 269h4m-2-2v4M216 248h4m-2-2v4M274 248h4m-2-2v4M203 249h4m-2-2v4M250 254h4m-2-2v4M266 258h4m-2-2v4M282 223h4m-2-2v4M283 205h4m-2-2v4M253 293h4m-2-2v4M227 256h4m-2-2v4M272 261h4m-2-2v4M272 254h4m-2-2v4M226 286h4m-2-2v4M271 269h4m-2-2v4M146 296h4m-2-2v4M204 296h4m-2-2v4M193 257h4m-2-2v4M218 296h4m-2-2v4"/>
<path stroke="#03fffc" d="M195 274h4m-2-2v4M260 263h4m-2-2v4M193 248h4m-2-2v4M276 271h4m-2-2v4M161 329h4m-2-2v4M226 299h4m-2-2v4M208 297h4m-2-2v4M281 273h4m-2-2v4M178 234h4m-2-2v4M138 262h4m-2-2v4M189 241h4m-2-2v4M140 245h4m-2-2v4M206 274h4m-2-2v4M246 287h4m-2-2v4M193 305h4m-2-2v4M187 243h4m-2-2v4M238 244h4m-2-2v4M226 267h4m-2-2v4M213 241h4m-2-2v4M255 279h4m-2-2v4M232 260h4m-2-2v4M253 239h4m-2-2v4M253 253h4m-2-2v4M234 261h4m-2-2v4M251 293h4m-2-2v4M200 281h4m-2-2v4M189 281h4m-2-2v4M210 271h4m-2-2v4M130 284h4m-2-2v4M297 238h4m-2-2v4M204 281h4m-2-2v4M183 256h4m-2-2v4M192 269h4m-2-2v4M222 270h4m-2-2v4M245 270h4m-2-2v4M164 260h4m-2-2v4M215 257h4m-2-2v4M198 252h4m-2-2v4M221 255h4m-2-2v4M203 282h4m-2-2v4M203 235h4m-2-2v4M225 296h4m-2-2v4M198 273h4m-2-2v4M186 251h4m-2-2v4M183 252h4m-2-2v4M198 268h4m-2-2v4M192 255h4m-2-2v4M248 291h4m-2-2v4M205 275h4m-2-2v4M191 243h4m-2-2v4M176 268h4m-2-2v4M223 250h4m-2-2v4M291 260h4m-2-2v4M273 256h4m-2-2v4M179 256h4m-2-2v4M190 280h4m-2-2v4M216 279h4m-2-2v4M205 288h4m-2-2v4M229 296h4m-2-2v4M308 268h4m-2-2v4M267 254h4m-2-2v4M162 281h4m-2-2v4M220 312h4m-2-2v4M312 279h4m-2-2v4M219 250h4m-2-2v4M208 296h4m-2-2v4M200 307h4m-2-2v4M145 250h4m-2-2v4M220 254h4m-2-2v4M173 275h4m-2-2v4M373 234h4m-2-2v4M227 257h4m-2-2v4M246 292h4m-2-2v4M256 278h4m-2-2v4M214 249h4m-2-2v4M169 304h4m-2-2v4M231 293h4m-2-2v4M259 299h4m-2-2v4M222 270h4m-2-2v4M208 279h4m-2-2v4M265 271h4m-2-2v4M154 268h4m-2-2v4M298 260h4m-2-2v4M220 284h4m-2-2v4M241 259h4m-2-2v4M233 289h4m-2-2v4M255 278h4m-2-2v4M194 264h4m-2-2v4M261 287h4m-2-2v4M191 244h4m-2-2v4M184 251h4m-2-2v4M224 264h4m-2-2v4M182 250h4m-2-2v4M187 256h4m-2-2v4M245 278h4m-2-2v4M241 275h4m-2-2v4M233 289h4m-2-2v4M253 265h4m-2-2v4M182 246h4m-2-2v4M305 316h4m-2-2v4M208 281h4m-2-2v4M323 257h4m-2-2v4M244 281h4m-2-2v4M293 249h4m-2-2v4M249 320h4m-2-2v4M177 250h4m-2-2v4M266 242h4m-2-2v4M145 254h4m-2-2v4M192 302h4m-2-2v4M221 273h4m-2-2v4M210 285h4m-2-2v4M253 263h4m-2-2v4M218 279h4m-2-2v4M212 261h4m-2-2v4M213 266h4m-2-2v4M198 276h4m-2-2v4M205 255h4m-2-2v4M174 252h4m-2-2v4M153 343h4m-2-2v4M141 253h4m-2-2v4M184 250h4m-2-2v4M231 261h4m-2-2v4M182 262h4m-2-2v4M191 269h4m-2-2v4M137 274h4m-2-2v4M215 255h4m-2-2v4M179 282h4m-2-2v4"/>
<path stroke="#00eaff" d="M216 265h4m-2-2v4M215 259h4m-2-2v4M257 253h4m-2-2v4M230 243h4m-2-2v4M175 244h4m-2-2v4M209 226h4m-2-2v4M234 287h4m-2-2v4M216 275h4m-2-2v4M208 251h4m-2-2v4M163 264h4m-2-2v4M259 288h4m-2-2v4M213 281h4m-2-2v4M240 290h4m-2-2v4M201 254h4m-2-2v4M172 267h4m-2-2v4M155 215h4m-2-2v4M267 253h4m-2-2v4M206 282h4m-2-2v4M299 270h4m-2-2v4M232 303h4m-2-2v4M202 258h4m-2-2v4M208 244h4m-2-2v4M230 246h4m-2-2v4M212 241h4m-2-2v4M213 268h4m-2-2v4M214 187h4m-2-2v4M200 243h4m-2-2v4M238 195h4m-2-2v4M250 303h4m-2-2v4M216 262h4m-2-2v4M148 263h4m-2-2v4M165 270h4m-2-2v4M171 296h4m-2-2v4M230 250h4m-2-2v4M229 235h4m-2-2v4M240 259h4m-2-2v4M249 266h4m-2-2v4M150 295h4m-2-2v4M248 280h4m-2-2v4M213 272h4m-2-2v4M189 229h4m-2-2v4M234 288h4m-2-2v4M203 285h4m-2-2v4M215 248h4m-2-2v4M201 245h4m-2-2v4M197 208h4m-2-2v4M164 276h4m-2-2v4M130 272h4m-2-2v4M183 240h4m-2-2v4M209 268h4m-2-2v4M174 243h4m-2-2v4M182 234h4m-2-2v4M258 221h4m-2-2v4M254 276h4m-2-2v4M191 250h4m-2-2v4M209 278h4m-2-2v4M199 287h4m-2-2v4M224 288h4m-2-2v4M233 277h4m-2-2v4M171 250h4m-2-2v4M171 269h4m-2-2v4M169 254h4m-2-2v4M215 254h4m-2-2v4M238 250h4m-2-2v4M182 263h4m-2-2v4M190 258h4m-2-2v4M196 265h4m-2-2v4M157 272h4m-2-2v4M168 298h4m-2-2v4M223 239h4m-2-2v4M226 287h4m-2-2v4M203 287h4m-2-2v4M204 247h4m-2-2v4M280 282h4m-2-2v4M208 231h4m-2-2v4M160 241h4m-2-2v4M223 247h4m-2-2v4M214 253h4m-2-2v4M268 261h4m-2-2v4"/>
<path stroke="#00d2ff" d="M177 274h4m-2-2v4M168 271h4m-2-2v4M262 256h4m-2-2v4M230 303h4m-2-2v4M170 247h4m-2-2v4M258 276h4m-2-2v4M187 269h4m-2-2v4M185 260h4m-2-2v4M212 259h4m-2-2v4M182 235h4m-2-2v4M246 254h4m-2-2v4M221 277h4m-2-2v4M217 304h4m-2-2v4M184 297h4m-2-2v4M288 267h4m-2-2v4M233 291h4m-2-2v4M175 292h4m-2-2v4M180 259h4m-2-2v4M150 275h4m-2-2v4M247 278h4m-2-2v4M198 238h4m-2-2v4M242 267h4m-2-2v4M227 282h4m-2-2v4M250 247h4m-2-2v4M258 260h4m-2-2v4M216 272h4m-2-2v4M221 268h4m-2-2v4M172 255h4m-2-2v4"/>
<path stroke="#00baff" d="M171 237h4m-2-2v4M190 213h4m-2-2v4M286 276h4m-2-2v4"/>
<path stroke="#fcff03" d="M384 354h1m1 1v1m-1 1h-1m-1-1v-1M373 402h1m1 1v1m-1 1h-1m-1-1v-1M358 399h1m1 1v1m-1 1h-1m-1-1v-1M345 300h1m1 1v1m-1 1h-1m-1-1v-1M291 443h1m1 1v1m-1 1h-1m-1-1v-1M405 377h1m1 1v1m-1 1h-1m-1-1v-1M432 320h1m1 1v1m-1 1h-1m-1-1v-1M391 382h1m1 1v1m-1 1h-1m-1-1v-1"/>
<path stroke="#e6ff1a" d="M297 308h1m1 1v1m-1 1h-1m-1-1v-1M346 351h1m1 1v1m-1 1h-1m-1-1v-1M364 362h1m1 1v1m-1 1h-1m-1-1v-1M318 329h1m1 1v1m-1 1h-1m-1-1v-1M379 385h1m1 1v1m-1 1h-1m-1-1v-1M301 349h1m1 1v1m-1 1h-1m-1-1v-1M321 335h1m1 1v1m-1 1h-1m-1-1v-1M264 312h1m1 1v1m-1 1h-1m-1-1v-1M400 306h1m1 1v1m-1 1h-1m-1-1v-1M382 355h1m1 1v1m-1 1h-1m-1-1v-1M357 339h1m1 1v1m-1 1h-1m-1-1v-1M252 333h1m1 1v1m-1 1h-1m-1-1v-1M304 298h1m1 1v1m-1 1h-1m-1-1v-1M297 368h1m1 1v1m-1 1h-1m-1-1v-1M265 326h1m1 1v1m-1 1h-1m-1-1v-1M485 325h1m1 1v1m-1 1h-1m-1-1v-1M390 326h1m1 1v1m-1 1h-1m-1-1v-1M351 365h1m1 1v1m-1 1h-1m-1-1v-1M348 344h1m1 1v1m-1 1h-1m-1-1v-1M293 367h1m1 1v1m-1 1h-1m-1-1v-1M272 331h1m1 1v1m-1 1h-1m-1-1v-1M319 363h1m1 1v1m-1 1h-1m-1-1v-1M299 413h1m1 1v1m-1 1h-1m-1-1v-1M403 360h1m1 1v1m-1 1h-1m-1-1v-1M339 373h1m1 1v1m-1 1h-1m-1-1v-1M338 362h1m1 1v1m-1 1h-1m-1-1v-1"/>
<path stroke="#cfff30" d="M322 336h1m1 1v1m-1 1h-1m-1-1v-1M313 361h1m1 1v1m-1 1h-1m-1-1v-1M438 342h1m1 1v1m-1 1h-1m-1-1v-1M352 360h1m1 1v1m-1 1h-1m-1-1v-1M355 322h1m1 1v1m-1 1h-1m-1-1v-1M357 339h1m1 1v1m-1 1h-1m-1-1v-1M385 277h1m1 1v1m-1 1h-1m-1-1v-1M329 317h1m1 1v1m-1 1h-1m-1-1v-1M288 340h1m1 1v1m-1 1h-1m-1-1v-1M326 308h1m1 1v1m-1 1h-1m-1-1v-1M344 336h1m1 1v1m-1 1h-1m-1-1v-1M339 356h1m1 1v1m-1 1h-1m-1-1v-1M370 279h1m1 1v1m-1 1h-1m-1-1v-1M346 332h1m1 1v1m-1 1h-1m-1-1v-1M293 356h1m1 1v1m-1 1h-1m-1-1v-1M305 337h1m1 1v1m-1 1h-1m-1-1v-1M335 405h1m1 1v1m-1 1h-1m-1-1v-1M302 396h1m1 1v1m-1 1h-1m-1-1v-1M334 365h1m1 1v1m-1 1h-1m-1-1v-1M329 334h1m1 1v1m-1 1h-1m-1-1v-1M348 346h1m1 1v1m-1 1h-1m-1-1v-1M345 360h1m1 1v1m-1 1h-1m-1-1v-1M313 348h1m1 1v1m-1 1h-1m-1-1v-1M356 324h1m1 1v1m-1 1h-1m-1-1v-1M346 365h1m1 1v1m-1 1h-1m-1-1v-1M316 312h1m1 1v1m-1 1h-1m-1-1v-1M348 272h1m1 1v1m-1 1h-1m-1-1v-1M368 376h1m1 1v1m-1 1h-1m-1-1v-1M374 365h1m1 1v1m-1 1h-1m-1-1v-1M376 351h1m1 1v1m-1 1h-1m-1-1v-1M317 344h1m1 1v1m-1 1h-1m-1-1v-1M347 311h1m1 1v1m-1 1h-1m-1-1v-1M278 380h1m1 1v1m-1 1h-1m-1-1v-1M336 318h1m1 1v1m-1 1h-1m-1-1v-1M403 279h1m1 1v1m-1 1h-1m-1-1v-1M353 326h1m1 1v1m-1 1h-1m-1-1v-1M314 303h1m1 1v1m-1 1h-1m-1-1v-1M297 364h1m1 1v1m-1 1h-1m-1-1v-1M380 334h1m1 1v1m-1 1h-1m-1-1v-1M259 375h1m1 1v1m-1 1h-1m-1-1v-1M308 348h1m1 1v1m-1 1h-1m-1-1v-1M342 308h1m1 1v1m-1 1h-1m-1-1v-1M323 364h1m1 1v1m-1 1h-1m-1-1v-1M282 385h1m1 1v1m-1 1h-1m-1-1v-1M352 355h1m1 1v1m-1 1h-1m-1-1v-1M349 288h1m1 1v1m-1 1h-1m-1-1v-1M369 355h1m1 1v1m-1 1h-1m-1-1v-1M368 357h1m1 1v1m-1 1h-1m-1-1v-1M359 362h1m1 1v1m-1 1h-1m-1-1v-1M312 304h1m1 1v1m-1 1h-1m-1-1v-1M358 351h1m1 1v1m-1 1h-1m-1-1v-1M318 328h1m1 1v1m-1 1h-1m-1-1v-1M316 320h1m1 1v1m-1 1h-1m-1-1v-1M361 396h1m1 1v1m-1 1h-1m-1-1v-1M339 313h1m1 1v1m-1 1h-1m-1-1v-1M321 329h1m1 1v1m-1 1h-1m-1-1v-1M388 322h1m1 1v1m-1 1h-1m-1-1v-1M298 345h1m1 1v1m-1 1h-1m-1-1v-1M365 354h1m1 1v1m-1 1h-1m-1-1v-1M302 364h1m1 1v1m-1 1h-1m-1-1v-1M380 356h1m1 1v1m-1 1h-1m-1-1v-1"/>
<path stroke="#b8ff47" d="M388 279h1m1 1v1m-1 1h-1m-1-1v-1M362 291h1m1 1v1m-1 1h-1m-1-1v-1M296 328h1m1 1v1m-1 1h-1m-1-1v-1M325 281h1m1 1v1m-1 1h-1m-1-1v-1M404 278h1m1 1v1m-1 1h-1m-1-1v-1M350 243h1m1 1v1m-1 1h-1m-1-1v-1M335 334h1m1 1v1m-1 1h-1m-1-1v-1M276 376h1m1 1v1m-1 1h-1m-1-1v-1M331 282h1m1 1v1m-1 1h-1m-1-1v-1M343 379h1m1 1v1m-1 1h-1m-1-1v-1M396 305h1m1 1v1m-1 1h-1m-1-1v-1M370 244h1m1 1v1m-1 1h-1m-1-1v-1M389 271h1m1 1v1m-1 1h-1m-1-1v-1M311 325h1m1 1v1m-1 1h-1m-1-1v-1M360 254h1m1 1v1m-1 1h-1m-1-1v-1M387 277h1m1 1v1m-1 1h-1m-1-1v-1M352 417h1m1 1v1m-1 1h-1m-1-1v-1M305 320h1m1 1v1m-1 1h-1m-1-1v-1M356 295h1m1 1v1m-1 1h-1m-1-1v-1M353 381h1m1 1v1m-1 1h-1m-1-1v-1M347 295h1m1 1v1m-1 1h-1m-1-1v-1M298 334h1m1 1v1m-1 1h-1m-1-1v-1M357 331h1m1 1v1m-1 1h-1m-1-1v-1M287 257h1m1 1v1m-1 1h-1m-1-1v-1M324 279h1m1 1v1m-1 1h-1m-1-1v-1M312 308h1m1 1v1m-1 1h-1m-1-1v-1M392 279h1m1 1v1m-1 1h-1m-1-1v-1M381 301h1m1 1v1m-1 1h-1m-1-1v-1M350 286h1m1 1v1m-1 1h-1m-1-1v-1M369 314h1m1 1v1m-1 1h-1m-1-1v-1M368 300h1m1 1v1m-1 1h-1m-1-1v-1M393 328h1m1 1v1m-1 1h-1m-1-1v-1M319 357h1m1 1v1m-1 1h-1m-1-1v-1M390 321h1m1 1v1m-1 1h-1m-1-1v-1M389 300h1m1 1v1m-1 1h-1m-1-1v-1M319 353h1m1 1v1m-1 1h-1m-1-1v-1M304 315h1m1 1v1m-1 1h-1m-1-1v-1M302 337h1m1 1v1m-1 1h-1m-1-1v-1M365 272h1m1 1v1m-1 1h-1m-1-1v-1M321 339h1m1 1v1m-1 1h-1m-1-1v-1M409 277h1m1 1v1m-1 1h-1m-1-1v-1M358 278h1m1 1v1m-1 1h-1m-1-1v-1M365 275h1m1 1v1m-1 1h-1m-1-1v-1M322 275h1m1 1v1m-1 1h-1m-1-1v-1M273 345h1m1 1v1m-1 1h-1m-1-1v-1M359 356h1m1 1v1m-1 1h-1m-1-1v-1M434 350h1m1 1v1m-1 1h-1m-1-1v-1M305 378h1m1 1v1m-1 1h-1m-1-1v-1M320 286h1m1 1v1m-1 1h-1m-1-1v-1M361 334h1m1 1v1m-1 1h-1m-1-1v-1M354 303h1m1 1v1m-1 1h-1m-1-1v-1M349 275h1m1 1v1m-1 1h-1m-1-1v-1M322 314h1m1 1v1m-1 1h-1m-1-1v-1M405 243h1m1 1v1m-1 1h-1m-1-1v-1M307 366h1m1 1v1m-1 1h-1m-1-1v-1M349 280h1m1 1v1m-1 1h-1m-1-1v-1M295 375h1m1 1v1m-1 1h-1m-1-1v-1M371 288h1m1 1v1m-1 1h-1m-1-1v-1M371 255h1m1 1v1m-1 1h-1m-1-1v-1M301 389h1m1 1v1m-1 1h-1m-1-1v-1M405 280h1m1 1v1m-1 1h-1m-1-1v-1M315 305h1m1 1v1m-1 1h-1m-1-1v-1M397 297h1m1 1v1m-1 1h-1m-1-1v-1M351 315h1m1 1v1m-1 1h-1m-1-1v-1M310 309h1m1 1v1m-1 1h-1m-1-1v-1M307 268h1m1 1v1m-1 1h-1m-1-1v-1M321 332h1m1 1v1m-1 1h-1m-1-1v-1M260 299h1m1 1v1m-1 1h-1m-1-1v-1M383 298h1m1 1v1m-1 1h-1m-1-1v-1M357 295h1m1 1v1m-1 1h-1m-1-1v-1M356 224h1m1 1v1m-1 1h-1m-1-1v-1M321 286h1m1 1v1m-1 1h-1m-1-1v-1M260 380h1m1 1v1m-1 1h-1m-1-1v-1M386 257h1m1 1v1m-1 1h-1m-1-1v-1M399 290h1m1 1v1m-1 1h-1m-1-1v-1M314 431h1m1 1v1m-1 1h-1m-1-1v-1M349 306h1m1 1v1m-1 1h-1m-1-1v-1M272 341h1m1 1v1m-1 1h-1m-1-1v-1M335 378h1m1 1v1m-1 1h-1m-1-1v-1M350 353h1m1 1v1m-1 1h-1m-1-1v-1M393 271h1m1 1v1m-1 1h-1m-1-1v-1M329 252h1m1 1v1m-1 1h-1m-1-1v-1M369 290h1m1 1v1m-1 1h-1m-1-1v-1M391 277h1m1 1v1m-1 1h-1m-1-1v-1M315 287h1m1 1v1m-1 1h-1m-1-1v-1M264 334h1m1 1v1m-1 1h-1m-1-1v-1M371 316h1m1 1v1m-1 1h-1m-1-1v-1M375 332h1m1 1v1m-1 1h-1m-1-1v-1M354 316h1m1 1v1m-1 1h-1m-1-1v-1M355 295h1m1 1v1m-1 1h-1m-1-1v-1M334 294h1m1 1v1m-1 1h-1m-1-1v-1M337 294h1m1 1v1m-1 1h-1m-1-1v-1M327 291h1m1 1v1m-1 1h-1m-1-1v-1M318 359h1m1 1v1m-1 1h-1m-1-1v-1M418 304h1m1 1v1m-1 1h-1m-1-1v-1M354 304h1m1 1v1m-1 1h-1m-1-1v-1M362 292h1m1 1v1m-1 1h-1m-1-1v-1M258 302h1m1 1v1m-1 1h-1m-1-1v-1M336 335h1m1 1v1m-1 1h-1m-1-1v-1M426 290h1m1 1v1m-1 1h-1m-1-1v-1M368 315h1m1 1v1m-1 1h-1m-1-1v-1M355 285h1m1 1v1m-1 1h-1m-1-1v-1M342 351h1m1 1v1m-1 1h-1m-1-1v-1M294 308h1m1 1v1m-1 1h-1m-1-1v-1M404 263h1m1 1v1m-1 1h-1m-1-1v-1M311 352h1m1 1v1m-1 1h-1m-1-1v-1M379 357h1m1 1v1m-1 1h-1m-1-1v-1M410 286h1m1 1v1m-1 1h-1m-1-1v-1M307 308h1m1 1v1m-1 1h-1m-1-1v-1M283 339h1m1 1v1m-1 1h-1m-1-1v-1M344 305h1m1 1v1m-1 1h-1m-1-1v-1M314 347h1m1 1v1m-1 1h-1m-1-1v-1M361 376h1m1 1v1m-1 1h-1m-1-1v-1M356 292h1m1 1v1m-1 1h-1m-1-1v-1M349 393h1m1 1v1m-1 1h-1m-1-1v-1M372 282h1m1 1v1m-1 1h-1m-1-1v-1M326 321h1m1 1v1m-1 1h-1m-1-1v-1M376 295h1m1 1v1m-1 1h-1m-1-1v-1M416 300h1m1 1v1m-1 1h-1m-1-1v-1M364 291h1m1 1v1m-1 1h-1m-1-1v-1M385 308h1m1 1v1m-1 1h-1m-1-1v-1M364 296h1m1 1v1m-1 1h-1m-1-1v-1M402 275h1m1 1v1m-1 1h-1m-1-1v-1M393 316h1m1 1v1m-1 1h-1m-1-1v-1M369 277h1m1 1v1m-1 1h-1m-1-1v-1M383 305h1m1 1v1m-1 1h-1m-1-1v-1M394 299h1m1 1v1m-1 1h-1m-1-1v-1M364 351h1m1 1v1m-1 1h-1m-1-1v-1M299 317h1m1 1v1m-1 1h-1m-1-1v-1M337 330h1m1 1v1m-1 1h-1m-1-1v-1M303 308h1m1 1v1m-1 1h-1m-1-1v-1M370 278h1m1 1v1m-1 1h-1m-1-1v-1M374 339h1m1 1v1m-1 1h-1m-1-1v-1M343 258h1m1 1v1m-1 1h-1m-1-1v-1M370 323h1m1 1v1m-1 1h-1m-1-1v-1M385 313h1m1 1v1m-1 1h-1m-1-1v-1M364 330h1m1 1v1m-1 1h-1m-1-1v-1M338 276h1m1 1v1m-1 1h-1m-1-1v-1"/>
<path stroke="#a2ff5e" d="M280 366h1m1 1v1m-1 1h-1m-1-1v-1M262 402h1m1 1v1m-1 1h-1m-1-1v-1M294 379h1m1 1v1m-1 1h-1m-1-1v-1M334 292h1m1 1v1m-1 1h-1m-1-1v-1M342 275h1m1 1v1m-1 1h-1m-1-1v-1M389 292h1m1 1v1m-1 1h-1m-1-1v-1M319 250h1m1 1v1m-1 1h-1m-1-1v-1M328 292h1m1 1v1m-1 1h-1m-1-1v-1M400 307h1m1 1v1m-1 1h-1m-1-1v-1M349 281h1m1 1v1m-1 1h-1m-1-1v-1M365 310h1m1 1v1m-1 1h-1m-1-1v-1M271 345h1m1 1v1m-1 1h-1m-1-1v-1M370 284h1m1 1v1m-1 1h-1m-1-1v-1M364 301h1m1 1v1m-1 1h-1m-1-1v-1M289 379h1m1 1v1m-1 1h-1m-1-1v-1M336 307h1m1 1v1m-1 1h-1m-1-1v-1M399 295h1m1 1v1m-1 1h-1m-1-1v-1M323 252h1m1 1v1m-1 1h-1m-1-1v-1M468 286h1m1 1v1m-1 1h-1m-1-1v-1M394 252h1m1 1v1m-1 1h-1m-1-1v-1M371 282h1m1 1v1m-1 1h-1m-1-1v-1M433 283h1m1 1v1m-1 1h-1m-1-1v-1M306 287h1m1 1v1m-1 1h-1m-1-1v-1M338 386h1m1 1v1m-1 1h-1m-1-1v-1M264 322h1m1 1v1m-1 1h-1m-1-1v-1M275 295h1m1 1v1m-1 1h-1m-1-1v-1M255 247h1m1 1v1m-1 1h-1m-1-1v-1M399 252h1m1 1v1m-1 1h-1m-1-1v-1M319 252h1m1 1v1m-1 1h-1m-1-1v-1M371 295h1m1 1v1m-1 1h-1m-1-1v-1M323 269h1m1 1v1m-1 1h-1m-1-1v-1M343 304h1m1 1v1m-1 1h-1m-1-1v-1M364 293h1m1 1v1m-1 1h-1m-1-1v-1M371 281h1m1 1v1m-1 1h-1m-1-1v-1M293 342h1m1 1v1m-1 1h-1m-1-1v-1M325 283h1m1 1v1m-1 1h-1m-1-1v-1M418 265h1m1 1v1m-1 1h-1m-1-1v-1M381 233h1m1 1v1m-1 1h-1m-1-1v-1M339 318h1m1 1v1m-1 1h-1m-1-1v-1M276 314h1m1 1v1m-1 1h-1m-1-1v-1M350 263h1m1 1v1m-1 1h-1m-1-1v-1M394 281h1m1 1v1m-1 1h-1m-1-1v-1M359 301h1m1 1v1m-1 1h-1m-1-1v-1M338 334h1m1 1v1m-1 1h-1m-1-1v-1M342 315h1m1 1v1m-1 1h-1m-1-1v-1M331 304h1m1 1v1m-1 1h-1m-1-1v-1M375 262h1m1 1v1m-1 1h-1m-1-1v-1M291 338h1m1 1v1m-1 1h-1m-1-1v-1M300 317h1m1 1v1m-1 1h-1m-1-1v-1M368 266h1m1 1v1m-1 1h-1m-1-1v-1M326 330h1m1 1v1m-1 1h-1m-1-1v-1M352 324h1m1 1v1m-1 1h-1m-1-1v-1M375 297h1m1 1v1m-1 1h-1m-1-1v-1M412 282h1m1 1v1m-1 1h-1m-1-1v-1M424 285h1m1 1v1m-1 1h-1m-1-1v-1M338 283h1m1 1v1m-1 1h-1m-1-1v-1M367 288h1m1 1v1m-1 1h-1m-1-1v-1M321 316h1m1 1v1m-1 1h-1m-1-1v-1M327 295h1m1 1v1m-1 1h-1m-1-1v-1M364 290h1m1 1v1m-1 1h-1m-1-1v-1M328 328h1m1 1v1m-1 1h-1m-1-1v-1M322 334h1m1 1v1m-1 1h-1m-1-1v-1M325 325h1m1 1v1m-1 1h-1m-1-1v-1M298 318h1m1 1v1m-1 1h-1m-1-1v-1M371 278h1m1 1v1m-1 1h-1m-1-1v-1M377 338h1m1 1v1m-1 1h-1m-1-1v-1M274 291h1m1 1v1m-1 1h-1m-1-1v-1M340 294h1m1 1v1m-1 1h-1m-1-1v-1M312 318h1m1 1v1m-1 1h-1m-1-1v-1M343 277h1m1 1v1m-1 1h-1m-1-1v-1M362 248h1m1 1v1m-1 1h-1m-1-1v-1M323 227h1m1 1v1m-1 1h-1m-1-1v-1M303 309h1m1 1v1m-1 1h-1m-1-1v-1M377 270h1m1 1v1m-1 1h-1m-1-1v-1M373 236h1m1 1v1m-1 1h-1m-1-1v-1M342 313h1m1 1v1m-1 1h-1m-1-1v-1M310 310h1m1 1v1m-1 1h-1m-1-1v-1M249 253h1m1 1v1m-1 1h-1m-1-1v-1M280 315h1m1 1v1m-1 1h-1m-1-1v-1M381 269h1m1 1v1m-1 1h-1m-1-1v-1M267 336h1m1 1v1m-1 1h-1m-1-1v-1M395 277h1m1 1v1m-1 1h-1m-1-1v-1M399 325h1m1 1v1m-1 1h-1m-1-1v-1M377 268h1m1 1v1m-1 1h-1m-1-1v-1M435 251h1m1 1v1m-1 1h-1m-1-1v-1M355 245h1m1 1v1m-1 1h-1m-1-1v-1M374 277h1m1 1v1m-1 1h-1m-1-1v-1M336 237h1m1 1v1m-1 1h-1m-1-1v-1M402 304h1m1 1v1m-1 1h-1m-1-1v-1M318 307h1m1 1v1m-1 1h-1m-1-1v-1M449 289h1m1 1v1m-1 1h-1m-1-1v-1M292 320h1m1 1v1m-1 1h-1m-1-1v-1M309 326h1m1 1v1m-1 1h-1m-1-1v-1M335 311h1m1 1v1m-1 1h-1m-1-1v-1M322 328h1m1 1v1m-1 1h-1m-1-1v-1M255 130h1m1 1v1m-1 1h-1m-1-1v-1M350 319h1m1 1v1m-1 1h-1m-1-1v-1M372 266h1m1 1v1m-1 1h-1m-1-1v-1M355 268h1m1 1v1m-1 1h-1m-1-1v-1M307 329h1m1 1v1m-1 1h-1m-1-1v-1M304 237h1m1 1v1m-1 1h-1m-1-1v-1M246 418h1m1 1v1m-1 1h-1m-1-1v-1M380 260h1m1 1v1m-1 1h-1m-1-1v-1M314 358h1m1 1v1m-1 1h-1m-1-1v-1M360 423h1m1 1v1m-1 1h-1m-1-1v-1M341 305h1m1 1v1m-1 1h-1m-1-1v-1M320 310h1m1 1v1m-1 1h-1m-1-1v-1M312 283h1m1 1v1m-1 1h-1m-1-1v-1M337 297h1m1 1v1m-1 1h-1m-1-1v-1M312 262h1m1 1v1m-1 1h-1m-1-1v-1M387 266h1m1 1v1m-1 1h-1m-1-1v-1M268 321h1m1 1v1m-1 1h-1m-1-1v-1M404 288h1m1 1v1m-1 1h-1m-1-1v-1M279 336h1m1 1v1m-1 1h-1m-1-1v-1M325 318h1m1 1v1m-1 1h-1m-1-1v-1M306 390h1m1 1v1m-1 1h-1m-1-1v-1M432 173h1m1 1v1m-1 1h-1m-1-1v-1M426 251h1m1 1v1m-1 1h-1m-1-1v-1M422 228h1m1 1v1m-1 1h-1m-1-1v-1M362 299h1m1 1v1m-1 1h-1m-1-1v-1M331 331h1m1 1v1m-1 1h-1m-1-1v-1M324 319h1m1 1v1m-1 1h-1m-1-1v-1M336 307h1m1 1v1m-1 1h-1m-1-1v-1M376 298h1m1 1v1m-1 1h-1m-1-1v-1M289 287h1m1 1v1m-1 1h-1m-1-1v-1M230 298h1m1 1v1m-1 1h-1m-1-1v-1M310 318h1m1 1v1m-1 1h-1m-1-1v-1M383 284h1m1 1v1m-1 1h-1m-1-1v-1M307 291h1m1 1v1m-1 1h-1m-1-1v-1M346 264h1m1 1v1m-1 1h-1m-1-1v-1"/>
<path stroke="#8bff75" d="M354 293h1m1 1v1m-1 1h-1m-1-1v-1M302 239h1m1 1v1m-1 1h-1m-1-1v-1M360 244h1m1 1v1m-1 1h-1m-1-1v-1M301 297h1m1 1v1m-1 1h-1m-1-1v-1M335 340h1m1 1v1m-1 1h-1m-1-1v-1M318 290h1m1 1v1m-1 1h-1m-1-1v-1M287 304h1m1 1v1m-1 1h-1m-1-1v-1M296 299h1m1 1v1m-1 1h-1m-1-1v-1M311 297h1m1 1v1m-1 1h-1m-1-1v-1M298 276h1m1 1v1m-1 1h-1m-1-1v-1M391 296h1m1 1v1m-1 1h-1m-1-1v-1M282 333h1m1 1v1m-1 1h-1m-1-1v-1M325 287h1m1 1v1m-1 1h-1m-1-1v-1M316 256h1m1 1v1m-1 1h-1m-1-1v-1M296 319h1m1 1v1m-1 1h-1m-1-1v-1M329 311h1m1 1v1m-1 1h-1m-1-1v-1M293 301h1m1 1v1m-1 1h-1m-1-1v-1M334 302h1m1 1v1m-1 1h-1m-1-1v-1M303 278h1m1 1v1m-1 1h-1m-1-1v-1M395 260h1m1 1v1m-1 1h-1m-1-1v-1M299 320h1m1 1v1m-1 1h-1m-1-1v-1M282 306h1m1 1v1m-1 1h-1m-1-1v-1M370 247h1m1 1v1m-1 1h-1m-1-1v-1M283 348h1m1 1v1m-1 1h-1m-1-1v-1M408 269h1m1 1v1m-1 1h-1m-1-1v-1M364 260h1m1 1v1m-1 1h-1m-1-1v-1M247 343h1m1 1v1m-1 1h-1m-1-1v-1M371 275h1m1 1v1m-1 1h-1m-1-1v-1M327 332h1m1 1v1m-1 1h-1m-1-1v-1M268 326h1m1 1v1m-1 1h-1m-1-1v-1M340 281h1m1 1v1m-1 1h-1m-1-1v-1M371 311h1m1 1v1m-1 1h-1m-1-1v-1M411 230h1m1 1v1m-1 1h-1m-1-1v-1M338 350h1m1 1v1m-1 1h-1m-1-1v-1M340 321h1m1 1v1m-1 1h-1m-1-1v-1M308 290h1m1 1v1m-1 1h-1m-1-1v-1M293 282h1m1 1v1m-1 1h-1m-1-1v-1M278 311h1m1 1v1m-1 1h-1m-1-1v-1M321 300h1m1 1v1m-1 1h-1m-1-1v-1M264 310h1m1 1v1m-1 1h-1m-1-1v-1M272 335h1m1 1v1m-1 1h-1m-1-1v-1M331 320h1m1 1v1m-1 1h-1m-1-1v-1M281 335h1m1 1v1m-1 1h-1m-1-1v-1M296 310h1m1 1v1m-1 1h-1m-1-1v-1M287 326h1m1 1v1m-1 1h-1m-1-1v-1M313 272h1m1 1v1m-1 1h-1m-1-1v-1M277 310h1m1 1v1m-1 1h-1m-1-1v-1M281 331h1m1 1v1m-1 1h-1m-1-1v-1M294 337h1m1 1v1m-1 1h-1m-1-1v-1M308 306h1m1 1v1m-1 1h-1m-1-1v-1M321 310h1m1 1v1m-1 1h-1m-1-1v-1M283 309h1m1 1v1m-1 1h-1m-1-1v-1M310 326h1m1 1v1m-1 1h-1m-1-1v-1M313 292h1m1 1v1m-1 1h-1m-1-1v-1M345 274h1m1 1v1m-1 1h-1m-1-1v-1M307 319h1m1 1v1m-1 1h-1m-1-1v-1M270 280h1m1 1v1m-1 1h-1m-1-1v-1M434 272h1m1 1v1m-1 1h-1m-1-1v-1M265 310h1m1 1v1m-1 1h-1m-1-1v-1M367 271h1m1 1v1m-1 1h-1m-1-1v-1M289 314h1m1 1v1m-1 1h-1m-1-1v-1M250 333h1m1 1v1m-1 1h-1m-1-1v-1M350 296h1m1 1v1m-1 1h-1m-1-1v-1M245 322h1m1 1v1m-1 1h-1m-1-1v-1M347 292h1m1 1v1m-1 1h-1m-1-1v-1M301 322h1m1 1v1m-1 1h-1m-1-1v-1M288 316h1m1 1v1m-1 1h-1m-1-1v-1M365 247h1m1 1v1m-1 1h-1m-1-1v-1M288 319h1m1 1v1m-1 1h-1m-1-1v-1M304 293h1m1 1v1m-1 1h-1m-1-1v-1M293 316h1m1 1v1m-1 1h-1m-1-1v-1M319 306h1m1 1v1m-1 1h-1m-1-1v-1M284 302h1m1 1v1m-1 1h-1m-1-1v-1M316 253h1m1 1v1m-1 1h-1m-1-1v-1M326 288h1m1 1v1m-1 1h-1m-1-1v-1M397 239h1m1 1v1m-1 1h-1m-1-1v-1M325 318h1m1 1v1m-1 1h-1m-1-1v-1M321 319h1m1 1v1m-1 1h-1m-1-1v-1M333 309h1m1 1v1m-1 1h-1m-1-1v-1M290 267h1m1 1v1m-1 1h-1m-1-1v-1M295 316h1m1 1v1m-1 1h-1m-1-1v-1M315 300h1m1 1v1m-1 1h-1m-1-1v-1M341 313h1m1 1v1m-1 1h-1m-1-1v-1M336 256h1m1 1v1m-1 1h-1m-1-1v-1M242 330h1m1 1v1m-1 1h-1m-1-1v-1M319 320h1m1 1v1m-1 1h-1m-1-1v-1M351 235h1m1 1v1m-1 1h-1m-1-1v-1"/>
<path stroke="#75ff8b" d="M285 305h4m-2-2v4M238 336h4m-2-2v4M252 310h4m-2-2v4M265 363h4m-2-2v4M274 322h4m-2-2v4M306 308h4m-2-2v4M241 291h4m-2-2v4M267 337h4m-2-2v4M276 296h4m-2-2v4M307 301h4m-2-2v4M427 260h4m-2-2v4M318 268h4m-2-2v4M266 279h4m-2-2v4M246 321h4m-2-2v4M268 343h4m-2-2v4M296 313h4m-2-2v4M329 265h4m-2-2v4M335 254h4m-2-2v4M253 357h4m-2-2v4M324 261h4m-2-2v4M326 294h4m-2-2v4M350 295h4m-2-2v4M255 307h4m-2-2v4M288 344h4m-2-2v4M411 255h4m-2-2v4M268 309h4m-2-2v4M288 298h4m-2-2v4M320 298h4m-2-2v4M306 321h4m-2-2v4M247 288h4m-2-2v4M250 319h4m-2-2v4M293 304h4m-2-2v4M309 294h4m-2-2v4M285 330h4m-2-2v4M256 356h4m-2-2v4M227 329h4m-2-2v4M255 338h4m-2-2v4M283 275h4m-2-2v4M281 286h4m-2-2v4M295 248h4m-2-2v4M291 316h4m-2-2v4M292 314h4m-2-2v4M283 320h4m-2-2v4M263 356h4m-2-2v4M316 298h4m-2-2v4M345 280h4m-2-2v4M300 319h4m-2-2v4M293 327h4m-2-2v4M256 328h4m-2-2v4M297 305h4m-2-2v4M332 303h4m-2-2v4M235 327h4m-2-2v4M317 306h4m-2-2v4M275 291h4m-2-2v4M310 324h4m-2-2v4M368 237h4m-2-2v4M278 293h4m-2-2v4M258 304h4m-2-2v4M304 283h4m-2-2v4M270 305h4m-2-2v4M302 304h4m-2-2v4M286 274h4m-2-2v4"/>
<path stroke="#5effa2" d="M329 327h4m-2-2v4M280 310h4m-2-2v4M264 297h4m-2-2v4M229 361h4m-2-2v4M301 273h4m-2-2v4M289 286h4m-2-2v4M296 290h4m-2-2v4M238 371h4m-2-2v4M280 326h4m-2-2v4M297 272h4m-2-2v4M326 308h4m-2-2v4M293 322h4m-2-2v4M260 269h4m-2-2v4M211 316h4m-2-2v4M276 254h4m-2-2v4M278 334h4m-2-2v4M232 331h4m-2-2v4M274 288h4m-2-2v4M233 327h4m-2-2v4M283 292h4m-2-2v4M252 332h4m-2-2v4M202 288h4m-2-2v4M274 305h4m-2-2v4M297 309h4m-2-2v4M269 258h4m-2-2v4M315 293h4m-2-2v4M290 327h4m-2-2v4M276 342h4m-2-2v4M286 254h4m-2-2v4M249 325h4m-2-2v4M274 298h4m-2-2v4M284 283h4m-2-2v4M305 281h4m-2-2v4M303 340h4m-2-2v4M267 355h4m-2-2v4M295 308h4m-2-2v4M243 279h4m-2-2v4M302 306h4m-2-2v4M223 322h4m-2-2v4M307 304h4m-2-2v4M246 295h4m-2-2v4M313 359h4m-2-2v4M254 313h4m-2-2v4M245 322h4m-2-2v4M303 343h4m-2-2v4M262 312h4m-2-2v4M282 299h4m-2-2v4M278 276h4m-2-2v4M263 322h4m-2-2v4M288 305h4m-2-2v4M276 335h4m-2-2v4M268 303h4m-2-2v4M300 285h4m-2-2v4M291 308h4m-2-2v4M278 310h4m-2-2v4M296 286h4m-2-2v4M282 262h4m-2-2v4M246 292h4m-2-2v4M301 275h4m-2-2v4M288 327h4m-2-2v4M278 326h4m-2-2v4M259 285h4m-2-2v4M284 293h4m-2-2v4M210 318h4m-2-2v4M261 326h4m-2-2v4M256 297h4m-2-2v4M233 307h4m-2-2v4M282 305h4m-2-2v4M297 250h4m-2-2v4M301 311h4m-2-2v4M276 278h4m-2-2v4M237 309h4m-2-2v4M300 302h4m-2-2v4M307 263h4m-2-2v4M246 305h4m-2-2v4M268 321h4m-2-2v4M294 324h4m-2-2v4M269 340h4m-2-2v4M282 277h4m-2-2v4M252 314h4m-2-2v4M292 287h4m-2-2v4"/>
<path stroke="#47ffb8" d="M282 280h4m-2-2v4M242 302h4m-2-2v4M408 264h4m-2-2v4M295 270h4m-2-2v4M301 303h4m-2-2v4M273 299h4m-2-2v4M301 312h4m-2-2v4M282 254h4m-2-2v4M314 271h4m-2-2v4M262 307h4m-2-2v4M217 275h4m-2-2v4M253 299h4m-2-2v4M246 271h4m-2-2v4M230 338h4m-2-2v4M299 301h4m-2-2v4M271 274h4m-2-2v4M261 315h4m-2-2v4M244 319h4m-2-2v4M300 309h4m-2-2v4M336 321h4m-2-2v4M243 312h4m-2-2v4M256 268h4m-2-2v4M373 347h4m-2-2v4M296 280h4m-2-2v4M288 316h4m-2-2v4M313 273h4m-2-2v4M289 267h4m-2-2v4M235 321h4m-2-2v4M287 310h4m-2-2v4M292 315h4m-2-2v4M270 313h4m-2-2v4M247 259h4m-2-2v4M250 264h4m-2-2v4M227 325h4m-2-2v4M266 279h4m-2-2v4M233 307h4m-2-2v4M215 304h4m-2-2v4M283 318h4m-2-2v4M308 292h4m-2-2v4M292 352h4m-2-2v4M277 286h4m-2-2v4M209 310h4m-2-2v4M225 277h4m-2-2v4M271 256h4m-2-2v4M400 234h4m-2-2v4M248 313h4m-2-2v4M181 303h4m-2-2v4M266 334h4m-2-2v4M273 302h4m-2-2v4M253 278h4m-2-2v4M362 276h4m-2-2v4M242 263h4m-2-2v4M254 307h4m-2-2v4"/>
<path stroke="#30ffcf" d="M253 270h4m-2-2v4M280 224h4m-2-2v4M292 289h4m-2-2v4M292 241h4m-2-2v4M419 264h4m-2-2v4M265 288h4m-2-2v4M267 299h4m-2-2v4M242 288h4m-2-2v4M252 328h4m-2-2v4M247 293h4m-2-2v4M216 294h4m-2-2v4M286 305h4m-2-2v4M276 288h4m-2-2v4M275 286h4m-2-2v4M273 265h4m-2-2v4M243 306h4m-2-2v4M263 305h4m-2-2v4M185 321h4m-2-2v4M200 311h4m-2-2v4M201 277h4m-2-2v4M319 208h4m-2-2v4M270 288h4m-2-2v4M254 266h4m-2-2v4M312 235h4m-2-2v4M294 312h4m-2-2v4M223 287h4m-2-2v4M255 248h4m-2-2v4M232 286h4m-2-2v4M288 249h4m-2-2v4M314 285h4m-2-2v4M245 284h4m-2-2v4M277 281h4m-2-2v4M347 211h4m-2-2v4M240 282h4m-2-2v4M258 313h4m-2-2v4M213 336h4m-2-2v4M251 307h4m-2-2v4M163 281h4m-2-2v4M272 240h4m-2-2v4M298 289h4m-2-2v4M257 280h4m-2-2v4M358 234h4m-2-2v4M227 314h4m-2-2v4M293 230h4m-2-2v4M264 247h4m-2-2v4M279 296h4m-2-2v4M266 309h4m-2-2v4M343 294h4m-2-2v4"/>
<path stroke="#1affe6" d="M246 253h4m-2-2v4M266 281h4m-2-2v4M164 284h4m-2-2v4M295 281h4m-2-2v4M251 253h4m-2-2v4M196 264h4m-2-2v4M262 284h4m-2-2v4M214 298h4m-2-2v4M266 316h4m-2-2v4M266 240h4m-2-2v4M182 272h4m-2-2v4M179 269h4m-2-2v4M280 228h4m-2-2v4M280 287h4m-2-2v4M215 291h4m-2-2v4M246 291h4m-2-2v4M334 212h4m-2-2v4M231 282h4m-2-2v4M245 224h4m-2-2v4M206 272h4m-2-2v4M253 265h4m-2-2v4M321 256h4m-2-2v4M277 261h4m-2-2v4M216 268h4m-2-2v4M250 239h4m-2-2v4M266 313h4m-2-2v4M269 273h4m-2-2v4M202 243h4m-2-2v4M225 315h4m-2-2v4M260 251h4m-2-2v4M236 271h4m-2-2v4M244 278h4m-2-2v4M268 288h4m-2-2v4M227 340h4m-2-2v4M161 253h4m-2-2v4M166 278h4m-2-2v4M293 348h4m-2-2v4M185 266h4m-2-2v4M287 237h4m-2-2v4M125 287h4m-2-2v4M289 253h4m-2-2v4M161 259h4m-2-2v4M210 249h4m-2-2v4M194 293h4m-2-2v4M269 263h4m-2-2v4M196 263h4m-2-2v4M293 279h4m-2-2v4M241 268h4m-2-2v4M247 291h4m-2-2v4M233 282h4m-2-2v4M153 262h4m-2-2v4M206 270h4m-2-2v4M192 311h4m-2-2v4M243 282h4m-2-2v4M175 272h4m-2-2v4M223 307h4m-2-2v4M178 265h4m-2-2v4M224 239h4m-2-2v4M308 246h4m-2-2v4M205 273h4m-2-2v4M220 286h4m-2-2v4M191 278h4m-2-2v4M203 318h4m-2-2v4M212 247h4m-2-2v4M212 267h4m-2-2v4M185 267h4m-2-2v4M233 267h4m-2-2v4M191 278h4m-2-2v4M227 263h4m-2-2v4M329 303h4m-2-2v4M261 235h4m-2-2v4M233 317h4m-2-2v4M162 265h4m-2-2v4M261 249h4m-2-2v4M244 277h4m-2-2v4M395 266h4m-2-2v4M207 261h4m-2-2v4M219 228h4m-2-2v4M202 265h4m-2-2v4M350 293h4m-2-2v4M261 291h4m-2-2v4M283 300h4m-2-2v4M175 266h4m-2-2v4M207 262h4m-2-2v4M346 217h4m-2-2v4M232 278h4m-2-2v4M303 236h4m-2-2v4M356 300h4m-2-2v4M298 305h4m-2-2v4M217 287h4m-2-2v4M223 245h4m-2-2v4M208 309h4m-2-2v4M150 265h4m-2-2v4M272 278h4m-2-2v4"/>
<path stroke="#03fffc" d="M246 254h4m-2-2v4M172 269h4m-2-2v4M278 275h4m-2-2v4M219 249h4m-2-2v4M193 282h4m-2-2v4M209 271h4m-2-2v4M189 267h4m-2-2v4M248 285h4m-2-2v4M268 249h4m-2-2v4M168 282h4m-2-2v4M218 262h4m-2-2v4M265 239h4m-2-2v4M179 254h4m-2-2v4M203 289h4m-2-2v4M163 283h4m-2-2v4M272 247h4m-2-2v4M168 234h4m-2-2v4M195 309h4m-2-2v4M248 251h4m-2-2v4M88 289h4m-2-2v4M236 262h4m-2-2v4M207 269h4m-2-2v4M244 267h4m-2-2v4M156 247h4m-2-2v4M217 266h4m-2-2v4M216 251h4m-2-2v4M227 271h4m-2-2v4M208 292h4m-2-2v4M236 247h4m-2-2v4M180 251h4m-2-2v4M210 279h4m-2-2v4M215 305h4m-2-2v4M225 242h4m-2-2v4M209 276h4m-2-2v4M252 238h4m-2-2v4M185 248h4m-2-2v4M221 296h4m-2-2v4M390 197h4m-2-2v4M126 286h4m-2-2v4M353 175h4m-2-2v4M249 237h4m-2-2v4M163 255h4m-2-2v4M212 297h4m-2-2v4M162 226h4m-2-2v4M332 232h4m-2-2v4M268 284h4m-2-2v4M217 209h4m-2-2v4M232 285h4m-2-2v4M176 273h4m-2-2v4M186 228h4m-2-2v4M225 268h4m-2-2v4M200 244h4m-2-2v4M225 248h4m-2-2v4M238 273h4m-2-2v4M201 241h4m-2-2v4M183 282h4m-2-2v4M184 275h4m-2-2v4M180 219h4m-2-2v4M274 287h4m-2-2v4M278 300h4m-2-2v4M273 260h4m-2-2v4M195 259h4m-2-2v4M207 264h4m-2-2v4M188 266h4m-2-2v4M246 258h4m-2-2v4M225 260h4m-2-2v4M172 255h4m-2-2v4M222 260h4m-2-2v4M197 267h4m-2-2v4M175 210h4m-2-2v4M246 289h4m-2-2v4M223 320h4m-2-2v4M283 304h4m-2-2v4M229 265h4m-2-2v4M219 239h4m-2-2v4M192 250h4m-2-2v4M259 283h4m-2-2v4M176 273h4m-2-2v4M197 303h4m-2-2v4M257 291h4m-2-2v4M193 245h4m-2-2v4M200 282h4m-2-2v4M250 302h4m-2-2v4M250 267h4m-2-2v4M159 291h4m-2-2v4M158 240h4m-2-2v4M247 275h4m-2-2v4M165 271h4m-2-2v4M215 295h4m-2-2v4M297 283h4m-2-2v4M126 249h4m-2-2v4M178 253h4m-2-2v4M192 292h4m-2-2v4M181 243h4m-2-2v4M218 276h4m-2-2v4M210 296h4m-2-2v4M259 265h4m-2-2v4M259 302h4m-2-2v4M146 264h4m-2-2v4M180 242h4m-2-2v4M246 257h4m-2-2v4M214 281h4m-2-2v4M204 239h4m-2-2v4M232 270h4m-2-2v4M230 286h4m-2-2v4M156 278h4m-2-2v4M213 311h4m-2-2v4M220 282h4m-2-2v4M171 258h4m-2-2v4M257 289h4m-2-2v4M251 253h4m-2-2v4M233 242h4m-2-2v4M216 240h4m-2-2v4M221 225h4m-2-2v4M218 272h4m-2-2v4M236 291h4m-2-2v4M208 254h4m-2-2v4M215 277h4m-2-2v4M198 254h4m-2-2v4M233 294h4m-2-2v4M255 260h4m-2-2v4M178 251h4m-2-2v4M187 253h4m-2-2v4M247 274h4m-2-2v4M206 287h4m-2-2v4M169 281h4m-2-2v4M242 245h4m-2-2v4M229 283h4m-2-2v4M197 300h4m-2-2v4M272 272h4m-2-2v4M254 262h4m-2-2v4M257 270h4m-2-2v4M214 267h4m-2-2v4M230 259h4m-2-2v4M209 263h4m-2-2v4M259 286h4m-2-2v4M212 249h4m-2-2v4M306 297h4m-2-2v4M198 290h4m-2-2v4"/>
<path stroke="#00eaff" d="M199 264h4m-2-2v4M141 254h4m-2-2v4M209 298h4m-2-2v4M201 220h4m-2-2v4M157 256h4m-2-2v4M198 268h4m-2-2v4M214 256h4m-2-2v4M194 232h4m-2-2v4M215 258h4m-2-2v4M200 252h4m-2-2v4M156 266h4m-2-2v4M185 258h4m-2-2v4M198 243h4m-2-2v4M224 244h4m-2-2v4M188 288h4m-2-2v4M214 249h4m-2-2v4M148 253h4m-2-2v4M227 247h4m-2-2v4M290 288h4m-2-2v4M178 226h4m-2-2v4M282 264h4m-2-2v4M266 269h4m-2-2v4M244 290h4m-2-2v4M222 245h4m-2-2v4M233 268h4m-2-2v4M167 236h4m-2-2v4M217 245h4m-2-2v4M165 250h4m-2-2v4M287 249h4m-2-2v4M190 234h4m-2-2v4M214 236h4m-2-2v4M175 299h4m-2-2v4M190 270h4m-2-2v4M151 275h4m-2-2v4M208 269h4m-2-2v4M176 264h4m-2-2v4M208 235h4m-2-2v4M209 222h4m-2-2v4M194 274h4m-2-2v4M192 249h4m-2-2v4M255 288h4m-2-2v4M277 278h4m-2-2v4M196 276h4m-2-2v4M158 300h4m-2-2v4M225 249h4m-2-2v4M189 260h4m-2-2v4M219 266h4m-2-2v4M217 279h4m-2-2v4M182 245h4m-2-2v4M181 248h4m-2-2v4M169 248h4m-2-2v4M268 240h4m-2-2v4M210 259h4m-2-2v4M222 271h4m-2-2v4M241 281h4m-2-2v4M222 279h4m-2-2v4M211 289h4m-2-2v4M216 245h4m-2-2v4M184 267h4m-2-2v4M241 263h4m-2-2v4M228 267h4m-2-2v4M214 265h4m-2-2v4M194 264h4m-2-2v4M181 268h4m-2-2v4M165 274h4m-2-2v4M150 265h4m-2-2v4M190 276h4m-2-2v4M251 280h4m-2-2v4M187 272h4m-2-2v4M296 246h4m-2-2v4M186 287h4m-2-2v4M304 287h4m-2-2v4M171 237h4m-2-2v4M194 251h4m-2-2v4"/>
<path stroke="#00d2ff" d="M194 260h4m-2-2v4M207 280h4m-2-2v4M174 236h4m-2-2v4M174 264h4m-2-2v4M257 238h4m-2-2v4M215 231h4m-2-2v4M165 240h4m-2-2v4M257 256h4m-2-2v4M174 258h4m-2-2v4M173 286h4m-2-2v4M230 275h4m-2-2v4M134 283h4m-2-2v4M139 237h4m-2-2v4M155 264h4m-2-2v4M241 255h4m-2-2v4M166 263h4m-2-2v4M178 282h4m-2-2v4M130 274h4m-2-2v4M231 250h4m-2-2v4M157 284h4m-2-2v4M214 224h4m-2-2v4M204 236h4m-2-2v4M218 301h4m-2-2v4M172 264h4m-2-2v4M235 293h4m-2-2v4M215 221h4m-2-2v4M204 261h4m-2-2v4M221 243h4m-2-2v4"/>
<path stroke="#00baff" d="M186 257h4m-2-2v4M260 222h4m-2-2v4M115 289h4m-2-2v4M84 302h4m-2-2v4M154 250h4m-2-2v4"/>
<path stroke="#ffe900" d="M377 332h1m1 1v1m-1 1h-1m-1-1v-1"/>
<path stroke="#fcff03" d="M341 453h1m1 1v1m-1 1h-1m-1-1v-1M381 444h1m1 1v1m-1 1h-1m-1-1v-1M452 344h1m1 1v1m-1 1h-1m-1-1v-1M356 384h1m1 1v1m-1 1h-1m-1-1v-1M446 309h1m1 1v1m-1 1h-1m-1-1v-1M408 338h1m1 1v1m-1 1h-1m-1-1v-1"/>
<path stroke="#e6ff1a" d="M333 373h1m1 1v1m-1 1h-1m-1-1v-1M317 377h1m1 1v1m-1 1h-1m-1-1v-1M336 361h1m1 1v1m-1 1h-1m-1-1v-1M415 312h1m1 1v1m-1 1h-1m-1-1v-1M283 330h1m1 1v1m-1 1h-1m-1-1v-1M221 357h1m1 1v1m-1 1h-1m-1-1v-1M336 330h1m1 1v1m-1 1h-1m-1-1v-1M366 394h1m1 1v1m-1 1h-1m-1-1v-1M349 329h1m1 1v1m-1 1h-1m-1-1v-1M421 298h1m1 1v1m-1 1h-1m-1-1v-1M293 389h1m1 1v1m-1 1h-1m-1-1v-1M245 373h1m1 1v1m-1 1h-1m-1-1v-1M296 324h1m1 1v1m-1 1h-1m-1-1v-1M313 368h1m1 1v1m-1 1h-1m-1-1v-1M278 355h1m1 1v1m-1 1h-1m-1-1v-1M454 288h1m1 1v1m-1 1h-1m-1-1v-1M400 337h1m1 1v1m-1 1h-1m-1-1v-1M318 336h1m1 1v1m-1 1h-1m-1-1v-1M390 340h1m1 1v1m-1 1h-1m-1-1v-1M413 319h1m1 1v1m-1 1h-1m-1-1v-1M379 360h1m1 1v1m-1 1h-1m-1-1v-1M352 328h1m1 1v1m-1 1h-1m-1-1v-1M336 372h1m1 1v1m-1 1h-1m-1-1v-1M260 313h1m1 1v1m-1 1h-1m-1-1v-1M367 331h1m1 1v1m-1 1h-1m-1-1v-1M361 376h1m1 1v1m-1 1h-1m-1-1v-1M359 299h1m1 1v1m-1 1h-1m-1-1v-1"/>
<path stroke="#cfff30" d="M260 327h1m1 1v1m-1 1h-1m-1-1v-1M345 368h1m1 1v1m-1 1h-1m-1-1v-1M291 349h1m1 1v1m-1 1h-1m-1-1v-1M284 373h1m1 1v1m-1 1h-1m-1-1v-1M278 311h1m1 1v1m-1 1h-1m-1-1v-1M314 320h1m1 1v1m-1 1h-1m-1-1v-1M304 339h1m1 1v1m-1 1h-1m-1-1v-1M414 309h1m1 1v1m-1 1h-1m-1-1v-1M333 369h1m1 1v1m-1 1h-1m-1-1v-1M384 388h1m1 1v1m-1 1h-1m-1-1v-1M311 370h1m1 1v1m-1 1h-1m-1-1v-1M356 321h1m1 1v1m-1 1h-1m-1-1v-1M410 310h1m1 1v1m-1 1h-1m-1-1v-1M376 355h1m1 1v1m-1 1h-1m-1-1v-1M388 332h1m1 1v1m-1 1h-1m-1-1v-1M425 362h1m1 1v1m-1 1h-1m-1-1v-1M322 342h1m1 1v1m-1 1h-1m-1-1v-1M213 370h1m1 1v1m-1 1h-1m-1-1v-1M228 357h1m1 1v1m-1 1h-1m-1-1v-1M277 388h1m1 1v1m-1 1h-1m-1-1v-1M415 381h1m1 1v1m-1 1h-1m-1-1v-1M383 347h1m1 1v1m-1 1h-1m-1-1v-1M305 357h1m1 1v1m-1 1h-1m-1-1v-1M380 336h1m1 1v1m-1 1h-1m-1-1v-1M327 315h1m1 1v1m-1 1h-1m-1-1v-1M300 282h1m1 1v1m-1 1h-1m-1-1v-1M391 331h1m1 1v1m-1 1h-1m-1-1v-1M403 341h1m1 1v1m-1 1h-1m-1-1v-1M413 363h1m1 1v1m-1 1h-1m-1-1v-1M443 312h1m1 1v1m-1 1h-1m-1-1v-1M321 404h1m1 1v1m-1 1h-1m-1-1v-1M323 331h1m1 1v1m-1 1h-1m-1-1v-1M421 283h1m1 1v1m-1 1h-1m-1-1v-1M349 344h1m1 1v1m-1 1h-1m-1-1v-1M316 348h1m1 1v1m-1 1h-1m-1-1v-1M337 327h1m1 1v1m-1 1h-1m-1-1v-1M364 295h1m1 1v1m-1 1h-1m-1-1v-1M396 356h1m1 1v1m-1 1h-1m-1-1v-1M331 363h1m1 1v1m-1 1h-1m-1-1v-1M430 364h1m1 1v1m-1 1h-1m-1-1v-1M451 401h1m1 1v1m-1 1h-1m-1-1v-1M325 384h1m1 1v1m-1 1h-1m-1-1v-1M305 299h1m1 1v1m-1 1h-1m-1-1v-1M298 321h1m1 1v1m-1 1h-1m-1-1v-1M367 299h1m1 1v1m-1 1h-1m-1-1v-1M308 353h1m1 1v1m-1 1h-1m-1-1v-1M311 338h1m1 1v1m-1 1h-1m-1-1v-1M367 281h1m1 1v1m-1 1h-1m-1-1v-1M318 344h1m1 1v1m-1 1h-1m-1-1v-1M346 365h1m1 1v1m-1 1h-1m-1-1v-1M379 278h1m1 1v1m-1 1h-1m-1-1v-1M336 325h1m1 1v1m-1 1h-1m-1-1v-1M410 289h1m1 1v1m-1 1h-1m-1-1v-1M360 257h1m1 1v1m-1 1h-1m-1-1v-1M332 306h1m1 1v1m-1 1h-1m-1-1v-1M398 304h1m1 1v1m-1 1h-1m-1-1v-1M391 325h1m1 1v1m-1 1h-1m-1-1v-1M340 312h1m1 1v1m-1 1h-1m-1-1v-1M370 293h1m1 1v1m-1 1h-1m-1-1v-1"/>
<path stroke="#b8ff47" d="M377 292h1m1 1v1m-1 1h-1m-1-1v-1M333 287h1m1 1v1m-1 1h-1m-1-1v-1M358 274h1m1 1v1m-1 1h-1m-1-1v-1M294 331h1m1 1v1m-1 1h-1m-1-1v-1M379 274h1m1 1v1m-1 1h-1m-1-1v-1M321 273h1m1 1v1m-1 1h-1m-1-1v-1M382 315h1m1 1v1m-1 1h-1m-1-1v-1M357 309h1m1 1v1m-1 1h-1m-1-1v-1M299 285h1m1 1v1m-1 1h-1m-1-1v-1M279 358h1m1 1v1m-1 1h-1m-1-1v-1M330 295h1m1 1v1m-1 1h-1m-1-1v-1M368 291h1m1 1v1m-1 1h-1m-1-1v-1M391 296h1m1 1v1m-1 1h-1m-1-1v-1M441 245h1m1 1v1m-1 1h-1m-1-1v-1M314 355h1m1 1v1m-1 1h-1m-1-1v-1M386 275h1m1 1v1m-1 1h-1m-1-1v-1M374 260h1m1 1v1m-1 1h-1m-1-1v-1M347 276h1m1 1v1m-1 1h-1m-1-1v-1M304 298h1m1 1v1m-1 1h-1m-1-1v-1M308 307h1m1 1v1m-1 1h-1m-1-1v-1M360 269h1m1 1v1m-1 1h-1m-1-1v-1M332 300h1m1 1v1m-1 1h-1m-1-1v-1M404 285h1m1 1v1m-1 1h-1m-1-1v-1M310 339h1m1 1v1m-1 1h-1m-1-1v-1M410 337h1m1 1v1m-1 1h-1m-1-1v-1M256 355h1m1 1v1m-1 1h-1m-1-1v-1M270 307h1m1 1v1m-1 1h-1m-1-1v-1M300 316h1m1 1v1m-1 1h-1m-1-1v-1M328 323h1m1 1v1m-1 1h-1m-1-1v-1M372 266h1m1 1v1m-1 1h-1m-1-1v-1M380 322h1m1 1v1m-1 1h-1m-1-1v-1M292 317h1m1 1v1m-1 1h-1m-1-1v-1M304 365h1m1 1v1m-1 1h-1m-1-1v-1M244 366h1m1 1v1m-1 1h-1m-1-1v-1M329 355h1m1 1v1m-1 1h-1m-1-1v-1M284 331h1m1 1v1m-1 1h-1m-1-1v-1M262 325h1m1 1v1m-1 1h-1m-1-1v-1M388 253h1m1 1v1m-1 1h-1m-1-1v-1M400 259h1m1 1v1m-1 1h-1m-1-1v-1M354 291h1m1 1v1m-1 1h-1m-1-1v-1M435 295h1m1 1v1m-1 1h-1m-1-1v-1M348 303h1m1 1v1m-1 1h-1m-1-1v-1M412 293h1m1 1v1m-1 1h-1m-1-1v-1M366 302h1m1 1v1m-1 1h-1m-1-1v-1M298 357h1m1 1v1m-1 1h-1m-1-1v-1M393 297h1m1 1v1m-1 1h-1m-1-1v-1M416 315h1m1 1v1m-1 1h-1m-1-1v-1M312 340h1m1 1v1m-1 1h-1m-1-1v-1M366 330h1m1 1v1m-1 1h-1m-1-1v-1M356 270h1m1 1v1m-1 1h-1m-1-1v-1M364 268h1m1 1v1m-1 1h-1m-1-1v-1M386 289h1m1 1v1m-1 1h-1m-1-1v-1M288 286h1m1 1v1m-1 1h-1m-1-1v-1M324 322h1m1 1v1m-1 1h-1m-1-1v-1M283 390h1m1 1v1m-1 1h-1m-1-1v-1M339 291h1m1 1v1m-1 1h-1m-1-1v-1M337 383h1m1 1v1m-1 1h-1m-1-1v-1M391 292h1m1 1v1m-1 1h-1m-1-1v-1M328 310h1m1 1v1m-1 1h-1m-1-1v-1M414 318h1m1 1v1m-1 1h-1m-1-1v-1M397 296h1m1 1v1m-1 1h-1m-1-1v-1M349 334h1m1 1v1m-1 1h-1m-1-1v-1M369 273h1m1 1v1m-1 1h-1m-1-1v-1M339 317h1m1 1v1m-1 1h-1m-1-1v-1M356 324h1m1 1v1m-1 1h-1m-1-1v-1M368 298h1m1 1v1m-1 1h-1m-1-1v-1M340 333h1m1 1v1m-1 1h-1m-1-1v-1M385 311h1m1 1v1m-1 1h-1m-1-1v-1M351 264h1m1 1v1m-1 1h-1m-1-1v-1M307 314h1m1 1v1m-1 1h-1m-1-1v-1M338 338h1m1 1v1m-1 1h-1m-1-1v-1M342 319h1m1 1v1m-1 1h-1m-1-1v-1M285 357h1m1 1v1m-1 1h-1m-1-1v-1M371 297h1m1 1v1m-1 1h-1m-1-1v-1M256 349h1m1 1v1m-1 1h-1m-1-1v-1M301 175h1m1 1v1m-1 1h-1m-1-1v-1M348 325h1m1 1v1m-1 1h-1m-1-1v-1M349 374h1m1 1v1m-1 1h-1m-1-1v-1M378 401h1m1 1v1m-1 1h-1m-1-1v-1M436 274h1m1 1v1m-1 1h-1m-1-1v-1M286 345h1m1 1v1m-1 1h-1m-1-1v-1M348 273h1m1 1v1m-1 1h-1m-1-1v-1M292 291h1m1 1v1m-1 1h-1m-1-1v-1M338 335h1m1 1v1m-1 1h-1m-1-1v-1M524 376h1m1 1v1m-1 1h-1m-1-1v-1M353 267h1m1 1v1m-1 1h-1m-1-1v-1M358 313h1m1 1v1m-1 1h-1m-1-1v-1M377 312h1m1 1v1m-1 1h-1m-1-1v-1M338 280h1m1 1v1m-1 1h-1m-1-1v-1M380 341h1m1 1v1m-1 1h-1m-1-1v-1M416 282h1m1 1v1m-1 1h-1m-1-1v-1M462 290h1m1 1v1m-1 1h-1m-1-1v-1M351 303h1m1 1v1m-1 1h-1m-1-1v-1M349 313h1m1 1v1m-1 1h-1m-1-1v-1M391 312h1m1 1v1m-1 1h-1m-1-1v-1M271 306h1m1 1v1m-1 1h-1m-1-1v-1M323 307h1m1 1v1m-1 1h-1m-1-1v-1M343 294h1m1 1v1m-1 1h-1m-1-1v-1M396 263h1m1 1v1m-1 1h-1m-1-1v-1M394 311h1m1 1v1m-1 1h-1m-1-1v-1M283 354h1m1 1v1m-1 1h-1m-1-1v-1M358 306h1m1 1v1m-1 1h-1m-1-1v-1M374 282h1m1 1v1m-1 1h-1m-1-1v-1M359 307h1m1 1v1m-1 1h-1m-1-1v-1M361 251h1m1 1v1m-1 1h-1m-1-1v-1M294 320h1m1 1v1m-1 1h-1m-1-1v-1M303 393h1m1 1v1m-1 1h-1m-1-1v-1M403 326h1m1 1v1m-1 1h-1m-1-1v-1M417 282h1m1 1v1m-1 1h-1m-1-1v-1M399 283h1m1 1v1m-1 1h-1m-1-1v-1M381 304h1m1 1v1m-1 1h-1m-1-1v-1M320 324h1m1 1v1m-1 1h-1m-1-1v-1M333 277h1m1 1v1m-1 1h-1m-1-1v-1M353 306h1m1 1v1m-1 1h-1m-1-1v-1M371 313h1m1 1v1m-1 1h-1m-1-1v-1M338 331h1m1 1v1m-1 1h-1m-1-1v-1M328 265h1m1 1v1m-1 1h-1m-1-1v-1M309 285h1m1 1v1m-1 1h-1m-1-1v-1M317 342h1m1 1v1m-1 1h-1m-1-1v-1M333 299h1m1 1v1m-1 1h-1m-1-1v-1M328 262h1m1 1v1m-1 1h-1m-1-1v-1M320 319h1m1 1v1m-1 1h-1m-1-1v-1M347 286h1m1 1v1m-1 1h-1m-1-1v-1M341 301h1m1 1v1m-1 1h-1m-1-1v-1M374 311h1m1 1v1m-1 1h-1m-1-1v-1M314 223h1m1 1v1m-1 1h-1m-1-1v-1M330 281h1m1 1v1m-1 1h-1m-1-1v-1M333 312h1m1 1v1m-1 1h-1m-1-1v-1M324 335h1m1 1v1m-1 1h-1m-1-1v-1M299 367h1m1 1v1m-1 1h-1m-1-1v-1M344 263h1m1 1v1m-1 1h-1m-1-1v-1"/>
<path stroke="#a2ff5e" d="M386 248h1m1 1v1m-1 1h-1m-1-1v-1M453 268h1m1 1v1m-1 1h-1m-1-1v-1M337 303h1m1 1v1m-1 1h-1m-1-1v-1M381 255h1m1 1v1m-1 1h-1m-1-1v-1M361 273h1m1 1v1m-1 1h-1m-1-1v-1M324 313h1m1 1v1m-1 1h-1m-1-1v-1M332 325h1m1 1v1m-1 1h-1m-1-1v-1M337 295h1m1 1v1m-1 1h-1m-1-1v-1M335 292h1m1 1v1m-1 1h-1m-1-1v-1M377 273h1m1 1v1m-1 1h-1m-1-1v-1M288 305h1m1 1v1m-1 1h-1m-1-1v-1M315 308h1m1 1v1m-1 1h-1m-1-1v-1M304 340h1m1 1v1m-1 1h-1m-1-1v-1M304 264h1m1 1v1m-1 1h-1m-1-1v-1M410 317h1m1 1v1m-1 1h-1m-1-1v-1M342 300h1m1 1v1m-1 1h-1m-1-1v-1M376 307h1m1 1v1m-1 1h-1m-1-1v-1M375 315h1m1 1v1m-1 1h-1m-1-1v-1M415 261h1m1 1v1m-1 1h-1m-1-1v-1M325 294h1m1 1v1m-1 1h-1m-1-1v-1M352 311h1m1 1v1m-1 1h-1m-1-1v-1M359 341h1m1 1v1m-1 1h-1m-1-1v-1M336 306h1m1 1v1m-1 1h-1m-1-1v-1M382 292h1m1 1v1m-1 1h-1m-1-1v-1M400 267h1m1 1v1m-1 1h-1m-1-1v-1M296 315h1m1 1v1m-1 1h-1m-1-1v-1M312 316h1m1 1v1m-1 1h-1m-1-1v-1M338 299h1m1 1v1m-1 1h-1m-1-1v-1M322 283h1m1 1v1m-1 1h-1m-1-1v-1M352 293h1m1 1v1m-1 1h-1m-1-1v-1M364 263h1m1 1v1m-1 1h-1m-1-1v-1M405 268h1m1 1v1m-1 1h-1m-1-1v-1M344 313h1m1 1v1m-1 1h-1m-1-1v-1M270 312h1m1 1v1m-1 1h-1m-1-1v-1M373 207h1m1 1v1m-1 1h-1m-1-1v-1M341 275h1m1 1v1m-1 1h-1m-1-1v-1M309 343h1m1 1v1m-1 1h-1m-1-1v-1M325 268h1m1 1v1m-1 1h-1m-1-1v-1M369 287h1m1 1v1m-1 1h-1m-1-1v-1M309 332h1m1 1v1m-1 1h-1m-1-1v-1M305 302h1m1 1v1m-1 1h-1m-1-1v-1M325 292h1m1 1v1m-1 1h-1m-1-1v-1M345 260h1m1 1v1m-1 1h-1m-1-1v-1M316 296h1m1 1v1m-1 1h-1m-1-1v-1M324 327h1m1 1v1m-1 1h-1m-1-1v-1M303 298h1m1 1v1m-1 1h-1m-1-1v-1M425 280h1m1 1v1m-1 1h-1m-1-1v-1M413 264h1m1 1v1m-1 1h-1m-1-1v-1M369 281h1m1 1v1m-1 1h-1m-1-1v-1M318 299h1m1 1v1m-1 1h-1m-1-1v-1M295 354h1m1 1v1m-1 1h-1m-1-1v-1M314 313h1m1 1v1m-1 1h-1m-1-1v-1M292 331h1m1 1v1m-1 1h-1m-1-1v-1M337 259h1m1 1v1m-1 1h-1m-1-1v-1M355 263h1m1 1v1m-1 1h-1m-1-1v-1M314 269h1m1 1v1m-1 1h-1m-1-1v-1M336 302h1m1 1v1m-1 1h-1m-1-1v-1M341 282h1m1 1v1m-1 1h-1m-1-1v-1M319 323h1m1 1v1m-1 1h-1m-1-1v-1M402 290h1m1 1v1m-1 1h-1m-1-1v-1M307 276h1m1 1v1m-1 1h-1m-1-1v-1M304 313h1m1 1v1m-1 1h-1m-1-1v-1M346 275h1m1 1v1m-1 1h-1m-1-1v-1M432 350h1m1 1v1m-1 1h-1m-1-1v-1M344 250h1m1 1v1m-1 1h-1m-1-1v-1M254 307h1m1 1v1m-1 1h-1m-1-1v-1M368 306h1m1 1v1m-1 1h-1m-1-1v-1M333 259h1m1 1v1m-1 1h-1m-1-1v-1M322 272h1m1 1v1m-1 1h-1m-1-1v-1M302 323h1m1 1v1m-1 1h-1m-1-1v-1M375 304h1m1 1v1m-1 1h-1m-1-1v-1M374 265h1m1 1v1m-1 1h-1m-1-1v-1M341 301h1m1 1v1m-1 1h-1m-1-1v-1M379 296h1m1 1v1m-1 1h-1m-1-1v-1M301 270h1m1 1v1m-1 1h-1m-1-1v-1M271 283h1m1 1v1m-1 1h-1m-1-1v-1M384 276h1m1 1v1m-1 1h-1m-1-1v-1M361 266h1m1 1v1m-1 1h-1m-1-1v-1M323 322h1m1 1v1m-1 1h-1m-1-1v-1M350 334h1m1 1v1m-1 1h-1m-1-1v-1M350 321h1m1 1v1m-1 1h-1m-1-1v-1M286 288h1m1 1v1m-1 1h-1m-1-1v-1M350 269h1m1 1v1m-1 1h-1m-1-1v-1M286 304h1m1 1v1m-1 1h-1m-1-1v-1M321 306h1m1 1v1m-1 1h-1m-1-1v-1M325 280h1m1 1v1m-1 1h-1m-1-1v-1M314 252h1m1 1v1m-1 1h-1m-1-1v-1M355 286h1m1 1v1m-1 1h-1m-1-1v-1M387 292h1m1 1v1m-1 1h-1m-1-1v-1M414 299h1m1 1v1m-1 1h-1m-1-1v-1M296 297h1m1 1v1m-1 1h-1m-1-1v-1M341 228h1m1 1v1m-1 1h-1m-1-1v-1M337 342h1m1 1v1m-1 1h-1m-1-1v-1M363 248h1m1 1v1m-1 1h-1m-1-1v-1M373 310h1m1 1v1m-1 1h-1m-1-1v-1M383 280h1m1 1v1m-1 1h-1m-1-1v-1M280 318h1m1 1v1m-1 1h-1m-1-1v-1M350 287h1m1 1v1m-1 1h-1m-1-1v-1M383 263h1m1 1v1m-1 1h-1m-1-1v-1M359 308h1m1 1v1m-1 1h-1m-1-1v-1M362 266h1m1 1v1m-1 1h-1m-1-1v-1M412 297h1m1 1v1m-1 1h-1m-1-1v-1M325 289h1m1 1v1m-1 1h-1m-1-1v-1M334 281h1m1 1v1m-1 1h-1m-1-1v-1M349 280h1m1 1v1m-1 1h-1m-1-1v-1M378 296h1m1 1v1m-1 1h-1m-1-1v-1M379 295h1m1 1v1m-1 1h-1m-1-1v-1M373 265h1m1 1v1m-1 1h-1m-1-1v-1M326 283h1m1 1v1m-1 1h-1m-1-1v-1M296 300h1m1 1v1m-1 1h-1m-1-1v-1M327 342h1m1 1v1m-1 1h-1m-1-1v-1M384 267h1m1 1v1m-1 1h-1m-1-1v-1M350 289h1m1 1v1m-1 1h-1m-1-1v-1M356 294h1m1 1v1m-1 1h-1m-1-1v-1M348 280h1m1 1v1m-1 1h-1m-1-1v-1M362 286h1m1 1v1m-1 1h-1m-1-1v-1M336 254h1m1 1v1m-1 1h-1m-1-1v-1M334 303h1m1 1v1m-1 1h-1m-1-1v-1M376 252h1m1 1v1m-1 1h-1m-1-1v-1M308 288h1m1 1v1m-1 1h-1m-1-1v-1M386 274h1m1 1v1m-1 1h-1m-1-1v-1M395 259h1m1 1v1m-1 1h-1m-1-1v-1M405 301h1m1 1v1m-1 1h-1m-1-1v-1M263 328h1m1 1v1m-1 1h-1m-1-1v-1M293 323h1m1 1v1m-1 1h-1m-1-1v-1"/>
<path stroke="#8bff75" d="M316 328h1m1 1v1m-1 1h-1m-1-1v-1M274 339h1m1 1v1m-1 1h-1m-1-1v-1M365 286h1m1 1v1m-1 1h-1m-1-1v-1M381 259h1m1 1v1m-1 1h-1m-1-1v-1M280 277h1m1 1v1m-1 1h-1m-1-1v-1M278 325h1m1 1v1m-1 1h-1m-1-1v-1M326 298h1m1 1v1m-1 1h-1m-1-1v-1M315 324h1m1 1v1m-1 1h-1m-1-1v-1M296 309h1m1 1v1m-1 1h-1m-1-1v-1M302 289h1m1 1v1m-1 1h-1m-1-1v-1M301 303h1m1 1v1m-1 1h-1m-1-1v-1M288 309h1m1 1v1m-1 1h-1m-1-1v-1M257 320h1m1 1v1m-1 1h-1m-1-1v-1M333 306h1m1 1v1m-1 1h-1m-1-1v-1M394 284h1m1 1v1m-1 1h-1m-1-1v-1M312 316h1m1 1v1m-1 1h-1m-1-1v-1M381 260h1m1 1v1m-1 1h-1m-1-1v-1M302 331h1m1 1v1m-1 1h-1m-1-1v-1M323 303h1m1 1v1m-1 1h-1m-1-1v-1M288 331h1m1 1v1m-1 1h-1m-1-1v-1M308 284h1m1 1v1m-1 1h-1m-1-1v-1M304 279h1m1 1v1m-1 1h-1m-1-1v-1M273 315h1m1 1v1m-1 1h-1m-1-1v-1M286 319h1m1 1v1m-1 1h-1m-1-1v-1M301 314h1m1 1v1m-1 1h-1m-1-1v-1M310 227h1m1 1v1m-1 1h-1m-1-1v-1M266 302h1m1 1v1m-1 1h-1m-1-1v-1M268 329h1m1 1v1m-1 1h-1m-1-1v-1M399 227h1m1 1v1m-1 1h-1m-1-1v-1M296 303h1m1 1v1m-1 1h-1m-1-1v-1M319 295h1m1 1v1m-1 1h-1m-1-1v-1M278 298h1m1 1v1m-1 1h-1m-1-1v-1M375 295h1m1 1v1m-1 1h-1m-1-1v-1M295 313h1m1 1v1m-1 1h-1m-1-1v-1M305 299h1m1 1v1m-1 1h-1m-1-1v-1M289 304h1m1 1v1m-1 1h-1m-1-1v-1M320 288h1m1 1v1m-1 1h-1m-1-1v-1M339 303h1m1 1v1m-1 1h-1m-1-1v-1M395 255h1m1 1v1m-1 1h-1m-1-1v-1M345 295h1m1 1v1m-1 1h-1m-1-1v-1M261 316h1m1 1v1m-1 1h-1m-1-1v-1M294 291h1m1 1v1m-1 1h-1m-1-1v-1M290 270h1m1 1v1m-1 1h-1m-1-1v-1M303 278h1m1 1v1m-1 1h-1m-1-1v-1M306 290h1m1 1v1m-1 1h-1m-1-1v-1M284 305h1m1 1v1m-1 1h-1m-1-1v-1M269 337h1m1 1v1m-1 1h-1m-1-1v-1M345 281h1m1 1v1m-1 1h-1m-1-1v-1M343 317h1m1 1v1m-1 1h-1m-1-1v-1M279 339h1m1 1v1m-1 1h-1m-1-1v-1M293 284h1m1 1v1m-1 1h-1m-1-1v-1M330 292h1m1 1v1m-1 1h-1m-1-1v-1M339 222h1m1 1v1m-1 1h-1m-1-1v-1M403 250h1m1 1v1m-1 1h-1m-1-1v-1M376 273h1m1 1v1m-1 1h-1m-1-1v-1M307 313h1m1 1v1m-1 1h-1m-1-1v-1M415 244h1m1 1v1m-1 1h-1m-1-1v-1M259 318h1m1 1v1m-1 1h-1m-1-1v-1M311 328h1m1 1v1m-1 1h-1m-1-1v-1M288 342h1m1 1v1m-1 1h-1m-1-1v-1M245 387h1m1 1v1m-1 1h-1m-1-1v-1M267 272h1m1 1v1m-1 1h-1m-1-1v-1M328 280h1m1 1v1m-1 1h-1m-1-1v-1M287 334h1m1 1v1m-1 1h-1m-1-1v-1M287 310h1m1 1v1m-1 1h-1m-1-1v-1M308 295h1m1 1v1m-1 1h-1m-1-1v-1M312 290h1m1 1v1m-1 1h-1m-1-1v-1M347 300h1m1 1v1m-1 1h-1m-1-1v-1M313 280h1m1 1v1m-1 1h-1m-1-1v-1M365 301h1m1 1v1m-1 1h-1m-1-1v-1M225 322h1m1 1v1m-1 1h-1m-1-1v-1M288 316h1m1 1v1m-1 1h-1m-1-1v-1M311 304h1m1 1v1m-1 1h-1m-1-1v-1M408 252h1m1 1v1m-1 1h-1m-1-1v-1M276 289h1m1 1v1m-1 1h-1m-1-1v-1M312 327h1m1 1v1m-1 1h-1m-1-1v-1M289 267h1m1 1v1m-1 1h-1m-1-1v-1M311 270h1m1 1v1m-1 1h-1m-1-1v-1M273 363h1m1 1v1m-1 1h-1m-1-1v-1M300 322h1m1 1v1m-1 1h-1m-1-1v-1"/>
<path stroke="#75ff8b" d="M302 269h4m-2-2v4M290 322h4m-2-2v4M325 259h4m-2-2v4M318 339h4m-2-2v4M256 347h4m-2-2v4M295 307h4m-2-2v4M314 299h4m-2-2v4M312 310h4m-2-2v4M312 139h4m-2-2v4M287 351h4m-2-2v4M305 245h4m-2-2v4M285 293h4m-2-2v4M309 321h4m-2-2v4M300 271h4m-2-2v4M257 331h4m-2-2v4M293 314h4m-2-2v4M260 332h4m-2-2v4M238 325h4m-2-2v4M325 296h4m-2-2v4M290 306h4m-2-2v4M258 311h4m-2-2v4M269 299h4m-2-2v4M295 319h4m-2-2v4M329 299h4m-2-2v4M284 296h4m-2-2v4M289 301h4m-2-2v4M253 329h4m-2-2v4M319 287h4m-2-2v4M321 288h4m-2-2v4M301 297h4m-2-2v4M266 293h4m-2-2v4M295 320h4m-2-2v4M278 315h4m-2-2v4M288 327h4m-2-2v4M309 292h4m-2-2v4M312 352h4m-2-2v4M308 293h4m-2-2v4M300 295h4m-2-2v4M244 311h4m-2-2v4M268 317h4m-2-2v4M282 320h4m-2-2v4M221 339h4m-2-2v4M246 302h4m-2-2v4M340 293h4m-2-2v4M303 279h4m-2-2v4M233 355h4m-2-2v4M279 338h4m-2-2v4M310 281h4m-2-2v4M276 274h4m-2-2v4M285 271h4m-2-2v4M282 274h4m-2-2v4M344 293h4m-2-2v4M288 274h4m-2-2v4M285 307h4m-2-2v4M285 308h4m-2-2v4M312 284h4m-2-2v4M282 297h4m-2-2v4M248 329h4m-2-2v4M287 272h4m-2-2v4M255 296h4m-2-2v4M335 270h4m-2-2v4M259 305h4m-2-2v4M271 310h4m-2-2v4M289 317h4m-2-2v4M290 318h4m-2-2v4M244 336h4m-2-2v4M312 278h4m-2-2v4"/>
<path stroke="#5effa2" d="M329 295h4m-2-2v4M288 283h4m-2-2v4M227 291h4m-2-2v4M319 299h4m-2-2v4M244 303h4m-2-2v4M224 88h4m-2-2v4M269 337h4m-2-2v4M282 246h4m-2-2v4M303 272h4m-2-2v4M258 273h4m-2-2v4M281 261h4m-2-2v4M282 316h4m-2-2v4M263 330h4m-2-2v4M227 272h4m-2-2v4M299 291h4m-2-2v4M265 302h4m-2-2v4M289 303h4m-2-2v4M268 300h4m-2-2v4M259 320h4m-2-2v4M263 285h4m-2-2v4M283 307h4m-2-2v4M304 312h4m-2-2v4M269 305h4m-2-2v4M222 315h4m-2-2v4M290 326h4m-2-2v4M299 289h4m-2-2v4M267 344h4m-2-2v4M291 332h4m-2-2v4M240 314h4m-2-2v4M209 335h4m-2-2v4M290 282h4m-2-2v4M255 271h4m-2-2v4M293 319h4m-2-2v4M266 348h4m-2-2v4M255 321h4m-2-2v4M238 301h4m-2-2v4M273 310h4m-2-2v4M306 292h4m-2-2v4M258 349h4m-2-2v4M236 310h4m-2-2v4M206 386h4m-2-2v4M240 300h4m-2-2v4M236 298h4m-2-2v4M267 323h4m-2-2v4M255 299h4m-2-2v4M286 315h4m-2-2v4M323 276h4m-2-2v4M243 311h4m-2-2v4M285 290h4m-2-2v4M322 276h4m-2-2v4M251 311h4m-2-2v4M312 280h4m-2-2v4M327 291h4m-2-2v4M274 296h4m-2-2v4M288 285h4m-2-2v4M305 295h4m-2-2v4M269 311h4m-2-2v4M305 275h4m-2-2v4M254 267h4m-2-2v4M307 259h4m-2-2v4M258 311h4m-2-2v4M306 276h4m-2-2v4M284 254h4m-2-2v4M246 311h4m-2-2v4M293 312h4m-2-2v4M259 363h4m-2-2v4M289 312h4m-2-2v4M316 289h4m-2-2v4M234 319h4m-2-2v4M330 314h4m-2-2v4M261 304h4m-2-2v4M313 309h4m-2-2v4M249 262h4m-2-2v4M277 310h4m-2-2v4M271 312h4m-2-2v4M273 314h4m-2-2v4M279 325h4m-2-2v4M274 296h4m-2-2v4M261 309h4m-2-2v4"/>
<path stroke="#47ffb8" d="M268 283h4m-2-2v4M226 308h4m-2-2v4M319 249h4m-2-2v4M266 291h4m-2-2v4M253 299h4m-2-2v4M246 325h4m-2-2v4M285 282h4m-2-2v4M232 308h4m-2-2v4M260 291h4m-2-2v4M234 323h4m-2-2v4M280 289h4m-2-2v4M231 319h4m-2-2v4M297 274h4m-2-2v4M287 287h4m-2-2v4M236 292h4m-2-2v4M285 272h4m-2-2v4M271 338h4m-2-2v4M278 308h4m-2-2v4M267 290h4m-2-2v4M324 304h4m-2-2v4M263 320h4m-2-2v4M289 305h4m-2-2v4M232 329h4m-2-2v4M276 326h4m-2-2v4M237 328h4m-2-2v4M267 287h4m-2-2v4M216 290h4m-2-2v4M298 302h4m-2-2v4M321 325h4m-2-2v4M261 255h4m-2-2v4M270 282h4m-2-2v4M265 288h4m-2-2v4M297 286h4m-2-2v4M254 203h4m-2-2v4M217 312h4m-2-2v4M343 266h4m-2-2v4M250 297h4m-2-2v4M307 300h4m-2-2v4M272 249h4m-2-2v4M310 216h4m-2-2v4M238 315h4m-2-2v4M250 326h4m-2-2v4M264 326h4m-2-2v4M237 321h4m-2-2v4M317 317h4m-2-2v4M199 329h4m-2-2v4M241 302h4m-2-2v4M279 327h4m-2-2v4M263 274h4m-2-2v4M247 310h4m-2-2v4M274 317h4m-2-2v4M260 286h4m-2-2v4M390 288h4m-2-2v4"/>
<path stroke="#30ffcf" d="M251 311h4m-2-2v4M242 363h4m-2-2v4M309 296h4m-2-2v4M265 295h4m-2-2v4M270 304h4m-2-2v4M209 286h4m-2-2v4M203 315h4m-2-2v4M242 273h4m-2-2v4M331 240h4m-2-2v4M295 299h4m-2-2v4M256 276h4m-2-2v4M276 291h4m-2-2v4M390 328h4m-2-2v4M296 293h4m-2-2v4M276 258h4m-2-2v4M281 243h4m-2-2v4M200 300h4m-2-2v4M183 330h4m-2-2v4M280 260h4m-2-2v4M284 300h4m-2-2v4M293 270h4m-2-2v4M179 242h4m-2-2v4M301 302h4m-2-2v4M256 299h4m-2-2v4M279 258h4m-2-2v4M371 271h4m-2-2v4M296 282h4m-2-2v4M241 259h4m-2-2v4M266 277h4m-2-2v4M254 326h4m-2-2v4M262 249h4m-2-2v4M248 286h4m-2-2v4M262 239h4m-2-2v4M253 310h4m-2-2v4M307 294h4m-2-2v4M221 291h4m-2-2v4M250 285h4m-2-2v4M215 290h4m-2-2v4M227 293h4m-2-2v4M279 315h4m-2-2v4M279 262h4m-2-2v4M251 299h4m-2-2v4M288 270h4m-2-2v4M244 324h4m-2-2v4M304 275h4m-2-2v4M227 323h4m-2-2v4M263 275h4m-2-2v4M260 301h4m-2-2v4M268 262h4m-2-2v4M225 274h4m-2-2v4M206 270h4m-2-2v4M194 279h4m-2-2v4M249 341h4m-2-2v4M253 282h4m-2-2v4M266 273h4m-2-2v4M368 273h4m-2-2v4M221 247h4m-2-2v4M246 291h4m-2-2v4M243 280h4m-2-2v4M272 302h4m-2-2v4M316 276h4m-2-2v4M264 259h4m-2-2v4M203 287h4m-2-2v4M450 298h4m-2-2v4M186 276h4m-2-2v4M222 256h4m-2-2v4M259 285h4m-2-2v4M235 299h4m-2-2v4M300 278h4m-2-2v4"/>
<path stroke="#1affe6" d="M232 264h4m-2-2v4M300 308h4m-2-2v4M202 278h4m-2-2v4M276 297h4m-2-2v4M257 302h4m-2-2v4M216 308h4m-2-2v4M105 260h4m-2-2v4M166 317h4m-2-2v4M263 270h4m-2-2v4M227 265h4m-2-2v4M240 273h4m-2-2v4M202 307h4m-2-2v4M225 262h4m-2-2v4M298 279h4m-2-2v4M200 251h4m-2-2v4M274 250h4m-2-2v4M243 289h4m-2-2v4M271 296h4m-2-2v4M225 296h4m-2-2v4M248 289h4m-2-2v4M233 288h4m-2-2v4M299 283h4m-2-2v4M202 281h4m-2-2v4M218 269h4m-2-2v4M216 290h4m-2-2v4M188 231h4m-2-2v4M294 293h4m-2-2v4M208 263h4m-2-2v4M172 244h4m-2-2v4M249 261h4m-2-2v4M265 323h4m-2-2v4M199 269h4m-2-2v4M228 273h4m-2-2v4M250 274h4m-2-2v4M282 317h4m-2-2v4M238 294h4m-2-2v4M173 255h4m-2-2v4M255 263h4m-2-2v4M224 287h4m-2-2v4M188 280h4m-2-2v4M258 248h4m-2-2v4M279 235h4m-2-2v4M169 274h4m-2-2v4M205 278h4m-2-2v4M282 277h4m-2-2v4M201 272h4m-2-2v4M253 266h4m-2-2v4M204 237h4m-2-2v4M306 279h4m-2-2v4M226 310h4m-2-2v4M299 247h4m-2-2v4M175 248h4m-2-2v4M150 233h4m-2-2v4M209 284h4m-2-2v4M216 290h4m-2-2v4M204 262h4m-2-2v4M203 299h4m-2-2v4M217 258h4m-2-2v4M232 260h4m-2-2v4M247 316h4m-2-2v4M220 295h4m-2-2v4M266 262h4m-2-2v4M259 314h4m-2-2v4M205 272h4m-2-2v4M306 298h4m-2-2v4M185 288h4m-2-2v4M280 309h4m-2-2v4M273 291h4m-2-2v4M229 260h4m-2-2v4M249 255h4m-2-2v4M411 270h4m-2-2v4M212 271h4m-2-2v4M317 325h4m-2-2v4M216 277h4m-2-2v4M276 313h4m-2-2v4M313 259h4m-2-2v4M216 234h4m-2-2v4M263 335h4m-2-2v4M276 264h4m-2-2v4M376 246h4m-2-2v4M312 280h4m-2-2v4M259 254h4m-2-2v4M191 259h4m-2-2v4M277 260h4m-2-2v4"/>
<path stroke="#03fffc" d="M237 282h4m-2-2v4M242 255h4m-2-2v4M228 258h4m-2-2v4M238 261h4m-2-2v4M208 242h4m-2-2v4M115 257h4m-2-2v4M294 306h4m-2-2v4M220 252h4m-2-2v4M193 288h4m-2-2v4M290 345h4m-2-2v4M198 250h4m-2-2v4M277 307h4m-2-2v4M206 324h4m-2-2v4M239 277h4m-2-2v4M249 270h4m-2-2v4M69 256h4m-2-2v4M276 298h4m-2-2v4M251 254h4m-2-2v4M192 260h4m-2-2v4M233 275h4m-2-2v4M265 223h4m-2-2v4M249 245h4m-2-2v4M191 307h4m-2-2v4M200 259h4m-2-2v4M278 272h4m-2-2v4M218 286h4m-2-2v4M244 294h4m-2-2v4M173 255h4m-2-2v4M248 284h4m-2-2v4M221 231h4m-2-2v4M238 289h4m-2-2v4M267 291h4m-2-2v4M243 264h4m-2-2v4M207 262h4m-2-2v4M221 268h4m-2-2v4M214 264h4m-2-2v4M234 266h4m-2-2v4M207 292h4m-2-2v4M216 241h4m-2-2v4M244 288h4m-2-2v4M182 286h4m-2-2v4M152 223h4m-2-2v4M220 262h4m-2-2v4M160 238h4m-2-2v4M248 278h4m-2-2v4M178 266h4m-2-2v4M206 298h4m-2-2v4M290 306h4m-2-2v4M271 220h4m-2-2v4M250 239h4m-2-2v4M274 264h4m-2-2v4M180 272h4m-2-2v4M199 238h4m-2-2v4M192 290h4m-2-2v4M221 273h4m-2-2v4M218 274h4m-2-2v4M159 267h4m-2-2v4M302 302h4m-2-2v4M245 311h4m-2-2v4M238 233h4m-2-2v4M229 245h4m-2-2v4M230 251h4m-2-2v4M297 270h4m-2-2v4M216 257h4m-2-2v4M232 236h4m-2-2v4M148 248h4m-2-2v4M149 284h4m-2-2v4M239 265h4m-2-2v4M242 268h4m-2-2v4M265 257h4m-2-2v4M210 227h4m-2-2v4M274 239h4m-2-2v4M392 184h4m-2-2v4M227 253h4m-2-2v4M215 289h4m-2-2v4M241 264h4m-2-2v4M165 264h4m-2-2v4M191 225h4m-2-2v4M252 250h4m-2-2v4M236 314h4m-2-2v4M241 261h4m-2-2v4M185 277h4m-2-2v4M271 282h4m-2-2v4M291 228h4m-2-2v4M235 279h4m-2-2v4M217 219h4m-2-2v4M235 237h4m-2-2v4M189 285h4m-2-2v4M180 264h4m-2-2v4M206 278h4m-2-2v4M260 276h4m-2-2v4M240 234h4m-2-2v4M199 287h4m-2-2v4M160 263h4m-2-2v4M197 259h4m-2-2v4M265 254h4m-2-2v4M172 271h4m-2-2v4M235 259h4m-2-2v4M233 234h4m-2-2v4M308 283h4m-2-2v4M262 276h4m-2-2v4M174 246h4m-2-2v4M193 266h4m-2-2v4M208 293h4m-2-2v4M208 276h4m-2-2v4M244 278h4m-2-2v4M197 277h4m-2-2v4M218 238h4m-2-2v4M236 278h4m-2-2v4M281 273h4m-2-2v4M274 271h4m-2-2v4M286 276h4m-2-2v4M176 274h4m-2-2v4M163 264h4m-2-2v4M169 266h4m-2-2v4M188 274h4m-2-2v4M191 236h4m-2-2v4M311 266h4m-2-2v4M234 279h4m-2-2v4M210 248h4m-2-2v4M232 273h4m-2-2v4M198 260h4m-2-2v4"/>
<path stroke="#00eaff" d="M159 271h4m-2-2v4M198 265h4m-2-2v4M173 233h4m-2-2v4M198 261h4m-2-2v4M222 282h4m-2-2v4M288 283h4m-2-2v4M218 263h4m-2-2v4M186 279h4m-2-2v4M182 232h4m-2-2v4M234 286h4m-2-2v4M198 260h4m-2-2v4M178 265h4m-2-2v4M166 227h4m-2-2v4M170 255h4m-2-2v4M162 248h4m-2-2v4M173 248h4m-2-2v4M205 241h4m-2-2v4M203 252h4m-2-2v4M232 287h4m-2-2v4M184 260h4m-2-2v4M230 237h4m-2-2v4M241 277h4m-2-2v4M192 252h4m-2-2v4M160 244h4m-2-2v4M158 265h4m-2-2v4M216 284h4m-2-2v4M240 252h4m-2-2v4M177 262h4m-2-2v4M207 269h4m-2-2v4M206 302h4m-2-2v4M232 273h4m-2-2v4M181 227h4m-2-2v4M239 261h4m-2-2v4M263 247h4m-2-2v4M208 251h4m-2-2v4M185 294h4m-2-2v4M157 257h4m-2-2v4M168 292h4m-2-2v4M217 273h4m-2-2v4M217 232h4m-2-2v4M246 243h4m-2-2v4M244 289h4m-2-2v4M290 291h4m-2-2v4M238 238h4m-2-2v4M209 226h4m-2-2v4M260 289h4m-2-2v4M310 218h4m-2-2v4M165 262h4m-2-2v4M195 260h4m-2-2v4M217 261h4m-2-2v4M218 261h4m-2-2v4M220 266h4m-2-2v4M212 265h4m-2-2v4M260 270h4m-2-2v4M227 262h4m-2-2v4M184 250h4m-2-2v4M264 286h4m-2-2v4M133 276h4m-2-2v4M240 245h4m-2-2v4M127 208h4m-2-2v4M199 276h4m-2-2v4M224 270h4m-2-2v4M251 279h4m-2-2v4M201 270h4m-2-2v4M255 266h4m-2-2v4M171 266h4m-2-2v4M197 269h4m-2-2v4M264 244h4m-2-2v4M206 292h4m-2-2v4M195 268h4m-2-2v4M178 259h4m-2-2v4M189 307h4m-2-2v4M238 248h4m-2-2v4M185 229h4m-2-2v4M216 232h4m-2-2v4M167 254h4m-2-2v4M186 276h4m-2-2v4M261 259h4m-2-2v4M227 275h4m-2-2v4M163 288h4m-2-2v4M133 247h4m-2-2v4M165 241h4m-2-2v4M218 252h4m-2-2v4M182 303h4m-2-2v4M179 278h4m-2-2v4M245 261h4m-2-2v4M224 261h4m-2-2v4M216 280h4m-2-2v4M223 231h4m-2-2v4M179 240h4m-2-2v4M215 249h4m-2-2v4M142 267h4m-2-2v4M210 274h4m-2-2v4"/>
<path stroke="#00d2ff" d="M230 234h4m-2-2v4M182 254h4m-2-2v4M245 277h4m-2-2v4M182 279h4m-2-2v4M217 249h4m-2-2v4M221 261h4m-2-2v4M145 271h4m-2-2v4M266 221h4m-2-2v4M219 260h4m-2-2v4M191 239h4m-2-2v4M112 259h4m-2-2v4M254 252h4m-2-2v4M222 252h4m-2-2v4M222 284h4m-2-2v4M176 294h4m-2-2v4M201 279h4m-2-2v4M188 220h4m-2-2v4M231 253h4m-2-2v4M117 265h4m-2-2v4M154 299h4m-2-2v4M186 284h4m-2-2v4M182 273h4m-2-2v4M160 243h4m-2-2v4M264 296h4m-2-2v4M135 276h4m-2-2v4M172 272h4m-2-2v4M175 239h4m-2-2v4M200 246h4m-2-2v4M113 255h4m-2-2v4M128 282h4m-2-2v4M205 254h4m-2-2v4M164 253h4m-2-2v4M150 242h4m-2-2v4"/>
<path stroke="#00baff" d="M191 250h4m-2-2v4M193 202h4m-2-2v4M136 209h4m-2-2v4M245 232h4m-2-2v4M122 241h4m-2-2v4"/>
<path stroke="#ffe900" d="M368 343h1m1 1v1m-1 1h-1m-1-1v-1"/>
<path stroke="#fcff03" d="M319 372h1m1 1v1m-1 1h-1m-1-1v-1M432 356h1m1 1v1m-1 1h-1m-1-1v-1M471 262h1m1 1v1m-1 1h-1m-1-1v-1M436 292h1m1 1v1m-1 1h-1m-1-1v-1M411 384h1m1 1v1m-1 1h-1m-1-1v-1M291 387h1m1 1v1m-1 1h-1m-1-1v-1M377 425h1m1 1v1m-1 1h-1m-1-1v-1M451 297h1m1 1v1m-1 1h-1m-1-1v-1M400 427h1m1 1v1m-1 1h-1m-1-1v-1M293 368h1m1 1v1m-1 1h-1m-1-1v-1M399 417h1m1 1v1m-1 1h-1m-1-1v-1M448 320h1m1 1v1m-1 1h-1m-1-1v-1"/>
<path stroke="#e6ff1a" d="M371 330h1m1 1v1m-1 1h-1m-1-1v-1M248 347h1m1 1v1m-1 1h-1m-1-1v-1M424 299h1m1 1v1m-1 1h-1m-1-1v-1M303 319h1m1 1v1m-1 1h-1m-1-1v-1M384 360h1m1 1v1m-1 1h-1m-1-1v-1M334 347h1m1 1v1m-1 1h-1m-1-1v-1M253 346h1m1 1v1m-1 1h-1m-1-1v-1M474 271h1m1 1v1m-1 1h-1m-1-1v-1M359 356h1m1 1v1m-1 1h-1m-1-1v-1M280 343h1m1 1v1m-1 1h-1m-1-1v-1M323 312h1m1 1v1m-1 1h-1m-1-1v-1M279 362h1m1 1v1m-1 1h-1m-1-1v-1M336 425h1m1 1v1m-1 1h-1m-1-1v-1M391 309h1m1 1v1m-1 1h-1m-1-1v-1M317 335h1m1 1v1m-1 1h-1m-1-1v-1M314 342h1m1 1v1m-1 1h-1m-1-1v-1M335 367h1m1 1v1m-1 1h-1m-1-1v-1M372 391h1m1 1v1m-1 1h-1m-1-1v-1M383 325h1m1 1v1m-1 1h-1m-1-1v-1M376 310h1m1 1v1m-1 1h-1m-1-1v-1M355 367h1m1 1v1m-1 1h-1m-1-1v-1M341 333h1m1 1v1m-1 1h-1m-1-1v-1"/>
<path stroke="#cfff30" d="M278 396h1m1 1v1m-1 1h-1m-1-1v-1M324 281h1m1 1v1m-1 1h-1m-1-1v-1M352 348h1m1 1v1m-1 1h-1m-1-1v-1M323 364h1m1 1v1m-1 1h-1m-1-1v-1M365 297h1m1 1v1m-1 1h-1m-1-1v-1M390 283h1m1 1v1m-1 1h-1m-1-1v-1M265 342h1m1 1v1m-1 1h-1m-1-1v-1M380 287h1m1 1v1m-1 1h-1m-1-1v-1M364 294h1m1 1v1m-1 1h-1m-1-1v-1M332 328h1m1 1v1m-1 1h-1m-1-1v-1M367 322h1m1 1v1m-1 1h-1m-1-1v-1M387 388h1m1 1v1m-1 1h-1m-1-1v-1M358 284h1m1 1v1m-1 1h-1m-1-1v-1M314 343h1m1 1v1m-1 1h-1m-1-1v-1M265 347h1m1 1v1m-1 1h-1m-1-1v-1M284 362h1m1 1v1m-1 1h-1m-1-1v-1M328 345h1m1 1v1m-1 1h-1m-1-1v-1M338 350h1m1 1v1m-1 1h-1m-1-1v-1M379 305h1m1 1v1m-1 1h-1m-1-1v-1M253 303h1m1 1v1m-1 1h-1m-1-1v-1M325 311h1m1 1v1m-1 1h-1m-1-1v-1M420 285h1m1 1v1m-1 1h-1m-1-1v-1M345 274h1m1 1v1m-1 1h-1m-1-1v-1M291 367h1m1 1v1m-1 1h-1m-1-1v-1M357 345h1m1 1v1m-1 1h-1m-1-1v-1M303 374h1m1 1v1m-1 1h-1m-1-1v-1M436 353h1m1 1v1m-1 1h-1m-1-1v-1M337 383h1m1 1v1m-1 1h-1m-1-1v-1M289 337h1m1 1v1m-1 1h-1m-1-1v-1M339 289h1m1 1v1m-1 1h-1m-1-1v-1M390 302h1m1 1v1m-1 1h-1m-1-1v-1M306 356h1m1 1v1m-1 1h-1m-1-1v-1M373 246h1m1 1v1m-1 1h-1m-1-1v-1M426 297h1m1 1v1m-1 1h-1m-1-1v-1M231 397h1m1 1v1m-1 1h-1m-1-1v-1M380 281h1m1 1v1m-1 1h-1m-1-1v-1M273 365h1m1 1v1m-1 1h-1m-1-1v-1M356 314h1m1 1v1m-1 1h-1m-1-1v-1M346 379h1m1 1v1m-1 1h-1m-1-1v-1M331 348h1m1 1v1m-1 1h-1m-1-1v-1M354 331h1m1 1v1m-1 1h-1m-1-1v-1M324 325h1m1 1v1m-1 1h-1m-1-1v-1M316 324h1m1 1v1m-1 1h-1m-1-1v-1M412 314h1m1 1v1m-1 1h-1m-1-1v-1M391 378h1m1 1v1m-1 1h-1m-1-1v-1M327 345h1m1 1v1m-1 1h-1m-1-1v-1M262 323h1m1 1v1m-1 1h-1m-1-1v-1M356 312h1m1 1v1m-1 1h-1m-1-1v-1M356 307h1m1 1v1m-1 1h-1m-1-1v-1M305 324h1m1 1v1m-1 1h-1m-1-1v-1M277 379h1m1 1v1m-1 1h-1m-1-1v-1M303 336h1m1 1v1m-1 1h-1m-1-1v-1M308 347h1m1 1v1m-1 1h-1m-1-1v-1M306 336h1m1 1v1m-1 1h-1m-1-1v-1M359 301h1m1 1v1m-1 1h-1m-1-1v-1M242 331h1m1 1v1m-1 1h-1m-1-1v-1M333 323h1m1 1v1m-1 1h-1m-1-1v-1M438 315h1m1 1v1m-1 1h-1m-1-1v-1M225 291h1m1 1v1m-1 1h-1m-1-1v-1M417 303h1m1 1v1m-1 1h-1m-1-1v-1M318 373h1m1 1v1m-1 1h-1m-1-1v-1"/>
<path stroke="#b8ff47" d="M300 319h1m1 1v1m-1 1h-1m-1-1v-1M335 356h1m1 1v1m-1 1h-1m-1-1v-1M337 385h1m1 1v1m-1 1h-1m-1-1v-1M362 293h1m1 1v1m-1 1h-1m-1-1v-1M372 281h1m1 1v1m-1 1h-1m-1-1v-1M332 327h1m1 1v1m-1 1h-1m-1-1v-1M296 328h1m1 1v1m-1 1h-1m-1-1v-1M388 314h1m1 1v1m-1 1h-1m-1-1v-1M393 302h1m1 1v1m-1 1h-1m-1-1v-1M389 265h1m1 1v1m-1 1h-1m-1-1v-1M315 296h1m1 1v1m-1 1h-1m-1-1v-1M347 293h1m1 1v1m-1 1h-1m-1-1v-1M435 290h1m1 1v1m-1 1h-1m-1-1v-1M376 300h1m1 1v1m-1 1h-1m-1-1v-1M345 242h1m1 1v1m-1 1h-1m-1-1v-1M322 366h1m1 1v1m-1 1h-1m-1-1v-1M352 336h1m1 1v1m-1 1h-1m-1-1v-1M335 317h1m1 1v1m-1 1h-1m-1-1v-1M478 359h1m1 1v1m-1 1h-1m-1-1v-1M334 320h1m1 1v1m-1 1h-1m-1-1v-1M298 303h1m1 1v1m-1 1h-1m-1-1v-1M285 261h1m1 1v1m-1 1h-1m-1-1v-1M283 313h1m1 1v1m-1 1h-1m-1-1v-1M344 316h1m1 1v1m-1 1h-1m-1-1v-1M380 390h1m1 1v1m-1 1h-1m-1-1v-1M307 300h1m1 1v1m-1 1h-1m-1-1v-1M405 310h1m1 1v1m-1 1h-1m-1-1v-1M324 357h1m1 1v1m-1 1h-1m-1-1v-1M352 307h1m1 1v1m-1 1h-1m-1-1v-1M341 311h1m1 1v1m-1 1h-1m-1-1v-1M322 398h1m1 1v1m-1 1h-1m-1-1v-1M334 275h1m1 1v1m-1 1h-1m-1-1v-1M350 275h1m1 1v1m-1 1h-1m-1-1v-1M363 262h1m1 1v1m-1 1h-1m-1-1v-1M403 292h1m1 1v1m-1 1h-1m-1-1v-1M373 255h1m1 1v1m-1 1h-1m-1-1v-1M361 341h1m1 1v1m-1 1h-1m-1-1v-1M313 374h1m1 1v1m-1 1h-1m-1-1v-1M381 270h1m1 1v1m-1 1h-1m-1-1v-1M393 272h1m1 1v1m-1 1h-1m-1-1v-1M326 312h1m1 1v1m-1 1h-1m-1-1v-1M397 315h1m1 1v1m-1 1h-1m-1-1v-1M388 336h1m1 1v1m-1 1h-1m-1-1v-1M296 329h1m1 1v1m-1 1h-1m-1-1v-1M328 289h1m1 1v1m-1 1h-1m-1-1v-1M344 331h1m1 1v1m-1 1h-1m-1-1v-1M379 283h1m1 1v1m-1 1h-1m-1-1v-1M362 314h1m1 1v1m-1 1h-1m-1-1v-1M346 310h1m1 1v1m-1 1h-1m-1-1v-1M384 289h1m1 1v1m-1 1h-1m-1-1v-1M332 345h1m1 1v1m-1 1h-1m-1-1v-1M360 283h1m1 1v1m-1 1h-1m-1-1v-1M404 246h1m1 1v1m-1 1h-1m-1-1v-1M271 351h1m1 1v1m-1 1h-1m-1-1v-1M357 280h1m1 1v1m-1 1h-1m-1-1v-1M321 319h1m1 1v1m-1 1h-1m-1-1v-1M320 346h1m1 1v1m-1 1h-1m-1-1v-1M349 269h1m1 1v1m-1 1h-1m-1-1v-1M341 281h1m1 1v1m-1 1h-1m-1-1v-1M359 285h1m1 1v1m-1 1h-1m-1-1v-1M328 272h1m1 1v1m-1 1h-1m-1-1v-1M339 277h1m1 1v1m-1 1h-1m-1-1v-1M411 285h1m1 1v1m-1 1h-1m-1-1v-1M382 305h1m1 1v1m-1 1h-1m-1-1v-1M351 300h1m1 1v1m-1 1h-1m-1-1v-1M309 337h1m1 1v1m-1 1h-1m-1-1v-1M388 297h1m1 1v1m-1 1h-1m-1-1v-1M356 380h1m1 1v1m-1 1h-1m-1-1v-1M392 292h1m1 1v1m-1 1h-1m-1-1v-1M384 302h1m1 1v1m-1 1h-1m-1-1v-1M311 313h1m1 1v1m-1 1h-1m-1-1v-1M378 292h1m1 1v1m-1 1h-1m-1-1v-1M406 318h1m1 1v1m-1 1h-1m-1-1v-1M388 284h1m1 1v1m-1 1h-1m-1-1v-1M314 337h1m1 1v1m-1 1h-1m-1-1v-1M318 335h1m1 1v1m-1 1h-1m-1-1v-1M409 386h1m1 1v1m-1 1h-1m-1-1v-1M269 338h1m1 1v1m-1 1h-1m-1-1v-1M369 319h1m1 1v1m-1 1h-1m-1-1v-1M350 306h1m1 1v1m-1 1h-1m-1-1v-1M360 337h1m1 1v1m-1 1h-1m-1-1v-1M364 301h1m1 1v1m-1 1h-1m-1-1v-1M346 326h1m1 1v1m-1 1h-1m-1-1v-1M313 356h1m1 1v1m-1 1h-1m-1-1v-1M309 344h1m1 1v1m-1 1h-1m-1-1v-1M313 309h1m1 1v1m-1 1h-1m-1-1v-1M386 304h1m1 1v1m-1 1h-1m-1-1v-1M353 300h1m1 1v1m-1 1h-1m-1-1v-1M353 263h1m1 1v1m-1 1h-1m-1-1v-1M326 339h1m1 1v1m-1 1h-1m-1-1v-1M416 288h1m1 1v1m-1 1h-1m-1-1v-1M276 311h1m1 1v1m-1 1h-1m-1-1v-1M341 336h1m1 1v1m-1 1h-1m-1-1v-1M329 340h1m1 1v1m-1 1h-1m-1-1v-1M392 246h1m1 1v1m-1 1h-1m-1-1v-1M388 319h1m1 1v1m-1 1h-1m-1-1v-1M317 348h1m1 1v1m-1 1h-1m-1-1v-1M315 298h1m1 1v1m-1 1h-1m-1-1v-1M270 260h1m1 1v1m-1 1h-1m-1-1v-1M336 328h1m1 1v1m-1 1h-1m-1-1v-1M346 324h1m1 1v1m-1 1h-1m-1-1v-1M332 285h1m1 1v1m-1 1h-1m-1-1v-1M339 306h1m1 1v1m-1 1h-1m-1-1v-1M337 285h1m1 1v1m-1 1h-1m-1-1v-1M304 284h1m1 1v1m-1 1h-1m-1-1v-1M330 326h1m1 1v1m-1 1h-1m-1-1v-1M362 292h1m1 1v1m-1 1h-1m-1-1v-1M329 303h1m1 1v1m-1 1h-1m-1-1v-1M380 308h1m1 1v1m-1 1h-1m-1-1v-1M287 299h1m1 1v1m-1 1h-1m-1-1v-1M415 308h1m1 1v1m-1 1h-1m-1-1v-1M310 308h1m1 1v1m-1 1h-1m-1-1v-1M238 353h1m1 1v1m-1 1h-1m-1-1v-1M295 314h1m1 1v1m-1 1h-1m-1-1v-1M358 320h1m1 1v1m-1 1h-1m-1-1v-1M348 305h1m1 1v1m-1 1h-1m-1-1v-1M286 283h1m1 1v1m-1 1h-1m-1-1v-1M289 376h1m1 1v1m-1 1h-1m-1-1v-1M407 302h1m1 1v1m-1 1h-1m-1-1v-1"/>
<path stroke="#a2ff5e" d="M384 245h1m1 1v1m-1 1h-1m-1-1v-1M352 240h1m1 1v1m-1 1h-1m-1-1v-1M374 266h1m1 1v1m-1 1h-1m-1-1v-1M298 286h1m1 1v1m-1 1h-1m-1-1v-1M391 277h1m1 1v1m-1 1h-1m-1-1v-1M334 302h1m1 1v1m-1 1h-1m-1-1v-1M361 261h1m1 1v1m-1 1h-1m-1-1v-1M350 246h1m1 1v1m-1 1h-1m-1-1v-1M335 267h1m1 1v1m-1 1h-1m-1-1v-1M354 268h1m1 1v1m-1 1h-1m-1-1v-1M325 374h1m1 1v1m-1 1h-1m-1-1v-1M314 319h1m1 1v1m-1 1h-1m-1-1v-1M306 317h1m1 1v1m-1 1h-1m-1-1v-1M314 301h1m1 1v1m-1 1h-1m-1-1v-1M303 270h1m1 1v1m-1 1h-1m-1-1v-1M273 316h1m1 1v1m-1 1h-1m-1-1v-1M341 281h1m1 1v1m-1 1h-1m-1-1v-1M357 271h1m1 1v1m-1 1h-1m-1-1v-1M337 334h1m1 1v1m-1 1h-1m-1-1v-1M372 229h1m1 1v1m-1 1h-1m-1-1v-1M362 263h1m1 1v1m-1 1h-1m-1-1v-1M368 293h1m1 1v1m-1 1h-1m-1-1v-1M406 297h1m1 1v1m-1 1h-1m-1-1v-1M383 264h1m1 1v1m-1 1h-1m-1-1v-1M350 325h1m1 1v1m-1 1h-1m-1-1v-1M439 264h1m1 1v1m-1 1h-1m-1-1v-1M378 319h1m1 1v1m-1 1h-1m-1-1v-1M387 280h1m1 1v1m-1 1h-1m-1-1v-1M300 311h1m1 1v1m-1 1h-1m-1-1v-1M428 255h1m1 1v1m-1 1h-1m-1-1v-1M322 289h1m1 1v1m-1 1h-1m-1-1v-1M329 332h1m1 1v1m-1 1h-1m-1-1v-1M389 293h1m1 1v1m-1 1h-1m-1-1v-1M305 306h1m1 1v1m-1 1h-1m-1-1v-1M344 289h1m1 1v1m-1 1h-1m-1-1v-1M399 312h1m1 1v1m-1 1h-1m-1-1v-1M372 231h1m1 1v1m-1 1h-1m-1-1v-1M347 262h1m1 1v1m-1 1h-1m-1-1v-1M271 323h1m1 1v1m-1 1h-1m-1-1v-1M293 285h1m1 1v1m-1 1h-1m-1-1v-1M311 293h1m1 1v1m-1 1h-1m-1-1v-1M242 366h1m1 1v1m-1 1h-1m-1-1v-1M376 249h1m1 1v1m-1 1h-1m-1-1v-1M349 292h1m1 1v1m-1 1h-1m-1-1v-1M276 162h1m1 1v1m-1 1h-1m-1-1v-1M376 293h1m1 1v1m-1 1h-1m-1-1v-1M430 300h1m1 1v1m-1 1h-1m-1-1v-1M309 316h1m1 1v1m-1 1h-1m-1-1v-1M350 268h1m1 1v1m-1 1h-1m-1-1v-1M262 324h1m1 1v1m-1 1h-1m-1-1v-1M352 234h1m1 1v1m-1 1h-1m-1-1v-1M258 392h1m1 1v1m-1 1h-1m-1-1v-1M308 247h1m1 1v1m-1 1h-1m-1-1v-1M379 277h1m1 1v1m-1 1h-1m-1-1v-1M259 345h1m1 1v1m-1 1h-1m-1-1v-1M386 309h1m1 1v1m-1 1h-1m-1-1v-1M342 348h1m1 1v1m-1 1h-1m-1-1v-1M389 303h1m1 1v1m-1 1h-1m-1-1v-1M332 307h1m1 1v1m-1 1h-1m-1-1v-1M345 290h1m1 1v1m-1 1h-1m-1-1v-1M298 349h1m1 1v1m-1 1h-1m-1-1v-1M348 309h1m1 1v1m-1 1h-1m-1-1v-1M246 261h1m1 1v1m-1 1h-1m-1-1v-1M366 260h1m1 1v1m-1 1h-1m-1-1v-1M351 280h1m1 1v1m-1 1h-1m-1-1v-1M267 260h1m1 1v1m-1 1h-1m-1-1v-1M379 277h1m1 1v1m-1 1h-1m-1-1v-1M371 248h1m1 1v1m-1 1h-1m-1-1v-1M336 300h1m1 1v1m-1 1h-1m-1-1v-1M327 310h1m1 1v1m-1 1h-1m-1-1v-1M341 291h1m1 1v1m-1 1h-1m-1-1v-1M363 256h1m1 1v1m-1 1h-1m-1-1v-1M356 372h1m1 1v1m-1 1h-1m-1-1v-1M363 286h1m1 1v1m-1 1h-1m-1-1v-1M302 239h1m1 1v1m-1 1h-1m-1-1v-1M310 267h1m1 1v1m-1 1h-1m-1-1v-1M427 264h1m1 1v1m-1 1h-1m-1-1v-1M273 312h1m1 1v1m-1 1h-1m-1-1v-1M306 357h1m1 1v1m-1 1h-1m-1-1v-1M444 332h1m1 1v1m-1 1h-1m-1-1v-1M336 338h1m1 1v1m-1 1h-1m-1-1v-1M329 264h1m1 1v1m-1 1h-1m-1-1v-1M301 309h1m1 1v1m-1 1h-1m-1-1v-1M296 299h1m1 1v1m-1 1h-1m-1-1v-1M333 322h1m1 1v1m-1 1h-1m-1-1v-1M394 282h1m1 1v1m-1 1h-1m-1-1v-1M412 304h1m1 1v1m-1 1h-1m-1-1v-1M360 296h1m1 1v1m-1 1h-1m-1-1v-1M360 333h1m1 1v1m-1 1h-1m-1-1v-1M379 258h1m1 1v1m-1 1h-1m-1-1v-1M435 306h1m1 1v1m-1 1h-1m-1-1v-1M276 312h1m1 1v1m-1 1h-1m-1-1v-1M364 275h1m1 1v1m-1 1h-1m-1-1v-1M352 298h1m1 1v1m-1 1h-1m-1-1v-1M372 299h1m1 1v1m-1 1h-1m-1-1v-1M402 272h1m1 1v1m-1 1h-1m-1-1v-1M340 306h1m1 1v1m-1 1h-1m-1-1v-1M392 285h1m1 1v1m-1 1h-1m-1-1v-1M377 230h1m1 1v1m-1 1h-1m-1-1v-1M387 301h1m1 1v1m-1 1h-1m-1-1v-1M364 282h1m1 1v1m-1 1h-1m-1-1v-1M393 226h1m1 1v1m-1 1h-1m-1-1v-1M380 338h1m1 1v1m-1 1h-1m-1-1v-1M340 288h1m1 1v1m-1 1h-1m-1-1v-1M291 363h1m1 1v1m-1 1h-1m-1-1v-1M393 301h1m1 1v1m-1 1h-1m-1-1v-1M319 277h1m1 1v1m-1 1h-1m-1-1v-1M340 263h1m1 1v1m-1 1h-1m-1-1v-1M365 257h1m1 1v1m-1 1h-1m-1-1v-1M285 296h1m1 1v1m-1 1h-1m-1-1v-1M355 246h1m1 1v1m-1 1h-1m-1-1v-1M384 270h1m1 1v1m-1 1h-1m-1-1v-1M371 282h1m1 1v1m-1 1h-1m-1-1v-1M239 368h1m1 1v1m-1 1h-1m-1-1v-1M291 330h1m1 1v1m-1 1h-1m-1-1v-1M356 255h1m1 1v1m-1 1h-1m-1-1v-1M359 279h1m1 1v1m-1 1h-1m-1-1v-1M386 274h1m1 1v1m-1 1h-1m-1-1v-1M415 290h1m1 1v1m-1 1h-1m-1-1v-1M295 341h1m1 1v1m-1 1h-1m-1-1v-1M362 275h1m1 1v1m-1 1h-1m-1-1v-1"/>
<path stroke="#8bff75" d="M364 243h1m1 1v1m-1 1h-1m-1-1v-1M259 330h1m1 1v1m-1 1h-1m-1-1v-1M341 284h1m1 1v1m-1 1h-1m-1-1v-1M274 306h1m1 1v1m-1 1h-1m-1-1v-1M287 319h1m1 1v1m-1 1h-1m-1-1v-1M349 223h1m1 1v1m-1 1h-1m-1-1v-1M294 324h1m1 1v1m-1 1h-1m-1-1v-1M386 251h1m1 1v1m-1 1h-1m-1-1v-1M463 235h1m1 1v1m-1 1h-1m-1-1v-1M371 267h1m1 1v1m-1 1h-1m-1-1v-1M317 309h1m1 1v1m-1 1h-1m-1-1v-1M307 319h1m1 1v1m-1 1h-1m-1-1v-1M350 279h1m1 1v1m-1 1h-1m-1-1v-1M334 288h1m1 1v1m-1 1h-1m-1-1v-1M352 302h1m1 1v1m-1 1h-1m-1-1v-1M327 315h1m1 1v1m-1 1h-1m-1-1v-1M371 284h1m1 1v1m-1 1h-1m-1-1v-1M302 279h1m1 1v1m-1 1h-1m-1-1v-1M387 318h1m1 1v1m-1 1h-1m-1-1v-1M314 329h1m1 1v1m-1 1h-1m-1-1v-1M449 293h1m1 1v1m-1 1h-1m-1-1v-1M292 295h1m1 1v1m-1 1h-1m-1-1v-1M282 331h1m1 1v1m-1 1h-1m-1-1v-1M344 300h1m1 1v1m-1 1h-1m-1-1v-1M311 301h1m1 1v1m-1 1h-1m-1-1v-1M345 292h1m1 1v1m-1 1h-1m-1-1v-1M300 320h1m1 1v1m-1 1h-1m-1-1v-1M287 320h1m1 1v1m-1 1h-1m-1-1v-1M292 309h1m1 1v1m-1 1h-1m-1-1v-1M296 296h1m1 1v1m-1 1h-1m-1-1v-1M252 289h1m1 1v1m-1 1h-1m-1-1v-1M295 290h1m1 1v1m-1 1h-1m-1-1v-1M282 270h1m1 1v1m-1 1h-1m-1-1v-1M223 307h1m1 1v1m-1 1h-1m-1-1v-1M246 377h1m1 1v1m-1 1h-1m-1-1v-1M324 338h1m1 1v1m-1 1h-1m-1-1v-1M267 301h1m1 1v1m-1 1h-1m-1-1v-1M314 320h1m1 1v1m-1 1h-1m-1-1v-1M340 268h1m1 1v1m-1 1h-1m-1-1v-1M404 288h1m1 1v1m-1 1h-1m-1-1v-1M338 288h1m1 1v1m-1 1h-1m-1-1v-1M332 298h1m1 1v1m-1 1h-1m-1-1v-1M316 257h1m1 1v1m-1 1h-1m-1-1v-1M327 247h1m1 1v1m-1 1h-1m-1-1v-1M294 293h1m1 1v1m-1 1h-1m-1-1v-1M263 290h1m1 1v1m-1 1h-1m-1-1v-1M294 328h1m1 1v1m-1 1h-1m-1-1v-1M295 340h1m1 1v1m-1 1h-1m-1-1v-1M332 279h1m1 1v1m-1 1h-1m-1-1v-1M319 319h1m1 1v1m-1 1h-1m-1-1v-1M354 305h1m1 1v1m-1 1h-1m-1-1v-1M370 283h1m1 1v1m-1 1h-1m-1-1v-1M320 303h1m1 1v1m-1 1h-1m-1-1v-1M353 293h1m1 1v1m-1 1h-1m-1-1v-1M292 314h1m1 1v1m-1 1h-1m-1-1v-1M393 215h1m1 1v1m-1 1h-1m-1-1v-1M369 245h1m1 1v1m-1 1h-1m-1-1v-1M277 277h1m1 1v1m-1 1h-1m-1-1v-1M334 305h1m1 1v1m-1 1h-1m-1-1v-1M377 287h1m1 1v1m-1 1h-1m-1-1v-1M291 301h1m1 1v1m-1 1h-1m-1-1v-1M306 277h1m1 1v1m-1 1h-1m-1-1v-1M249 323h1m1 1v1m-1 1h-1m-1-1v-1M321 297h1m1 1v1m-1 1h-1m-1-1v-1M374 260h1m1 1v1m-1 1h-1m-1-1v-1M274 216h1m1 1v1m-1 1h-1m-1-1v-1M392 222h1m1 1v1m-1 1h-1m-1-1v-1M370 236h1m1 1v1m-1 1h-1m-1-1v-1M284 295h1m1 1v1m-1 1h-1m-1-1v-1M261 362h1m1 1v1m-1 1h-1m-1-1v-1M338 297h1m1 1v1m-1 1h-1m-1-1v-1M315 301h1m1 1v1m-1 1h-1m-1-1v-1M257 305h1m1 1v1m-1 1h-1m-1-1v-1M374 264h1m1 1v1m-1 1h-1m-1-1v-1"/>
<path stroke="#75ff8b" d="M269 289h4m-2-2v4M307 312h4m-2-2v4M292 296h4m-2-2v4M268 293h4m-2-2v4M320 247h4m-2-2v4M338 277h4m-2-2v4M257 296h4m-2-2v4M254 301h4m-2-2v4M257 315h4m-2-2v4M336 293h4m-2-2v4M248 291h4m-2-2v4M322 306h4m-2-2v4M344 298h4m-2-2v4M309 336h4m-2-2v4M309 332h4m-2-2v4M340 295h4m-2-2v4M288 326h4m-2-2v4M264 324h4m-2-2v4M247 312h4m-2-2v4M304 327h4m-2-2v4M290 308h4m-2-2v4M341 288h4m-2-2v4M266 311h4m-2-2v4M355 280h4m-2-2v4M269 284h4m-2-2v4M273 336h4m-2-2v4M337 328h4m-2-2v4M330 257h4m-2-2v4M259 322h4m-2-2v4M316 219h4m-2-2v4M288 308h4m-2-2v4M264 320h4m-2-2v4M255 303h4m-2-2v4M308 301h4m-2-2v4M284 324h4m-2-2v4M260 322h4m-2-2v4M265 281h4m-2-2v4M271 300h4m-2-2v4M288 339h4m-2-2v4M298 286h4m-2-2v4M270 292h4m-2-2v4M288 281h4m-2-2v4M326 287h4m-2-2v4M246 309h4m-2-2v4M326 285h4m-2-2v4M297 316h4m-2-2v4M314 268h4m-2-2v4M314 267h4m-2-2v4M305 310h4m-2-2v4M278 304h4m-2-2v4M256 350h4m-2-2v4M342 332h4m-2-2v4M298 273h4m-2-2v4M285 317h4m-2-2v4M268 322h4m-2-2v4M288 291h4m-2-2v4M268 309h4m-2-2v4M278 266h4m-2-2v4M284 343h4m-2-2v4M312 287h4m-2-2v4M272 298h4m-2-2v4M281 337h4m-2-2v4M344 310h4m-2-2v4M277 301h4m-2-2v4M274 322h4m-2-2v4M335 278h4m-2-2v4M294 309h4m-2-2v4M276 302h4m-2-2v4M293 301h4m-2-2v4M302 316h4m-2-2v4M290 304h4m-2-2v4M305 305h4m-2-2v4M337 263h4m-2-2v4M273 319h4m-2-2v4M275 313h4m-2-2v4M216 300h4m-2-2v4M281 283h4m-2-2v4M284 316h4m-2-2v4M289 282h4m-2-2v4M271 308h4m-2-2v4M296 296h4m-2-2v4M271 297h4m-2-2v4M259 281h4m-2-2v4M288 258h4m-2-2v4M261 317h4m-2-2v4M273 320h4m-2-2v4M344 265h4m-2-2v4"/>
<path stroke="#5effa2" d="M297 306h4m-2-2v4M257 298h4m-2-2v4M245 330h4m-2-2v4M283 254h4m-2-2v4M253 286h4m-2-2v4M281 292h4m-2-2v4M222 330h4m-2-2v4M262 294h4m-2-2v4M376 219h4m-2-2v4M327 273h4m-2-2v4M274 313h4m-2-2v4M273 303h4m-2-2v4M269 308h4m-2-2v4M253 309h4m-2-2v4M294 264h4m-2-2v4M221 289h4m-2-2v4M278 322h4m-2-2v4M230 299h4m-2-2v4M337 254h4m-2-2v4M199 301h4m-2-2v4M300 314h4m-2-2v4M305 307h4m-2-2v4M324 252h4m-2-2v4M232 324h4m-2-2v4M274 282h4m-2-2v4M263 312h4m-2-2v4M257 331h4m-2-2v4M314 312h4m-2-2v4M282 286h4m-2-2v4M295 298h4m-2-2v4M271 311h4m-2-2v4M275 306h4m-2-2v4M240 320h4m-2-2v4M289 309h4m-2-2v4M281 331h4m-2-2v4M285 288h4m-2-2v4M295 310h4m-2-2v4M264 339h4m-2-2v4M294 286h4m-2-2v4M285 296h4m-2-2v4M263 296h4m-2-2v4M289 311h4m-2-2v4M225 319h4m-2-2v4M282 319h4m-2-2v4M312 279h4m-2-2v4M264 289h4m-2-2v4M207 308h4m-2-2v4M236 320h4m-2-2v4M326 222h4m-2-2v4M260 301h4m-2-2v4M250 308h4m-2-2v4M238 319h4m-2-2v4M334 286h4m-2-2v4M239 336h4m-2-2v4M303 288h4m-2-2v4M309 258h4m-2-2v4M336 314h4m-2-2v4M272 300h4m-2-2v4M242 301h4m-2-2v4M273 265h4m-2-2v4M273 308h4m-2-2v4M286 358h4m-2-2v4M233 335h4m-2-2v4M252 316h4m-2-2v4M237 330h4m-2-2v4M287 295h4m-2-2v4M322 279h4m-2-2v4M351 294h4m-2-2v4M247 333h4m-2-2v4M294 238h4m-2-2v4M325 244h4m-2-2v4M275 278h4m-2-2v4M265 287h4m-2-2v4M250 295h4m-2-2v4M324 263h4m-2-2v4"/>
<path stroke="#47ffb8" d="M270 243h4m-2-2v4M232 323h4m-2-2v4M232 227h4m-2-2v4M202 384h4m-2-2v4M290 321h4m-2-2v4M238 332h4m-2-2v4M236 324h4m-2-2v4M264 294h4m-2-2v4M260 278h4m-2-2v4M255 319h4m-2-2v4M271 321h4m-2-2v4M258 344h4m-2-2v4M263 255h4m-2-2v4M224 336h4m-2-2v4M244 275h4m-2-2v4M272 310h4m-2-2v4M267 264h4m-2-2v4M375 181h4m-2-2v4M270 281h4m-2-2v4M293 306h4m-2-2v4M280 276h4m-2-2v4M289 268h4m-2-2v4M231 276h4m-2-2v4M252 308h4m-2-2v4M258 325h4m-2-2v4M289 297h4m-2-2v4M268 289h4m-2-2v4M297 299h4m-2-2v4M294 205h4m-2-2v4M219 332h4m-2-2v4M211 345h4m-2-2v4M243 306h4m-2-2v4M294 276h4m-2-2v4M254 293h4m-2-2v4M267 318h4m-2-2v4M279 297h4m-2-2v4M276 297h4m-2-2v4M302 292h4m-2-2v4M258 284h4m-2-2v4M333 298h4m-2-2v4M281 295h4m-2-2v4M256 318h4m-2-2v4M313 238h4m-2-2v4M323 265h4m-2-2v4M296 329h4m-2-2v4M261 303h4m-2-2v4M293 306h4m-2-2v4M234 326h4m-2-2v4M246 364h4m-2-2v4M253 309h4m-2-2v4M307 310h4m-2-2v4M274 258h4m-2-2v4M256 286h4m-2-2v4M230 309h4m-2-2v4M241 295h4m-2-2v4M227 303h4m-2-2v4M223 287h4m-2-2v4M266 320h4m-2-2v4M224 308h4m-2-2v4M309 240h4m-2-2v4M350 333h4m-2-2v4M244 293h4m-2-2v4"/>
<path stroke="#30ffcf" d="M217 235h4m-2-2v4M244 321h4m-2-2v4M262 293h4m-2-2v4M239 291h4m-2-2v4M279 255h4m-2-2v4M286 271h4m-2-2v4M289 277h4m-2-2v4M347 303h4m-2-2v4M245 281h4m-2-2v4M204 295h4m-2-2v4M254 308h4m-2-2v4M306 247h4m-2-2v4M227 300h4m-2-2v4M222 345h4m-2-2v4M210 305h4m-2-2v4M319 283h4m-2-2v4M230 321h4m-2-2v4M233 289h4m-2-2v4M205 274h4m-2-2v4M266 296h4m-2-2v4M258 256h4m-2-2v4M253 269h4m-2-2v4M341 306h4m-2-2v4M256 306h4m-2-2v4M253 307h4m-2-2v4M251 328h4m-2-2v4M235 286h4m-2-2v4M397 235h4m-2-2v4M398 312h4m-2-2v4M234 290h4m-2-2v4M271 293h4m-2-2v4M215 317h4m-2-2v4M207 270h4m-2-2v4M305 245h4m-2-2v4M250 327h4m-2-2v4M215 294h4m-2-2v4M198 255h4m-2-2v4M198 326h4m-2-2v4M343 283h4m-2-2v4M238 263h4m-2-2v4M223 268h4m-2-2v4M252 298h4m-2-2v4M242 232h4m-2-2v4M249 277h4m-2-2v4M373 307h4m-2-2v4M202 272h4m-2-2v4M254 272h4m-2-2v4M291 252h4m-2-2v4M305 315h4m-2-2v4M384 325h4m-2-2v4M266 310h4m-2-2v4M332 267h4m-2-2v4M311 228h4m-2-2v4M260 281h4m-2-2v4M269 228h4m-2-2v4M242 296h4m-2-2v4M277 262h4m-2-2v4M326 301h4m-2-2v4M304 265h4m-2-2v4M220 287h4m-2-2v4M274 290h4m-2-2v4M392 234h4m-2-2v4M251 287h4m-2-2v4M256 273h4m-2-2v4M232 277h4m-2-2v4M195 265h4m-2-2v4M284 271h4m-2-2v4M182 295h4m-2-2v4M232 243h4m-2-2v4"/>
<path stroke="#1affe6" d="M192 255h4m-2-2v4M206 316h4m-2-2v4M233 245h4m-2-2v4M281 276h4m-2-2v4M227 249h4m-2-2v4M175 293h4m-2-2v4M245 257h4m-2-2v4M229 247h4m-2-2v4M226 292h4m-2-2v4M227 255h4m-2-2v4M161 265h4m-2-2v4M249 252h4m-2-2v4M260 289h4m-2-2v4M308 232h4m-2-2v4M212 269h4m-2-2v4M377 249h4m-2-2v4M201 247h4m-2-2v4M209 269h4m-2-2v4M222 238h4m-2-2v4M310 245h4m-2-2v4M234 275h4m-2-2v4M276 220h4m-2-2v4M242 262h4m-2-2v4M134 267h4m-2-2v4M205 237h4m-2-2v4M206 278h4m-2-2v4M160 238h4m-2-2v4M253 249h4m-2-2v4M158 244h4m-2-2v4M241 250h4m-2-2v4M203 297h4m-2-2v4M210 276h4m-2-2v4M204 286h4m-2-2v4M244 279h4m-2-2v4M365 274h4m-2-2v4M224 277h4m-2-2v4M231 265h4m-2-2v4M222 259h4m-2-2v4M211 282h4m-2-2v4M157 264h4m-2-2v4M228 267h4m-2-2v4M166 282h4m-2-2v4M324 208h4m-2-2v4M345 293h4m-2-2v4M238 246h4m-2-2v4M424 287h4m-2-2v4M274 263h4m-2-2v4M243 312h4m-2-2v4M256 292h4m-2-2v4M256 306h4m-2-2v4M269 283h4m-2-2v4M185 270h4m-2-2v4M164 243h4m-2-2v4M266 264h4m-2-2v4M250 265h4m-2-2v4M255 211h4m-2-2v4M257 284h4m-2-2v4M269 240h4m-2-2v4M160 209h4m-2-2v4M235 283h4m-2-2v4M216 355h4m-2-2v4M229 310h4m-2-2v4M271 279h4m-2-2v4M177 247h4m-2-2v4M378 275h4m-2-2v4M276 281h4m-2-2v4M174 258h4m-2-2v4M199 295h4m-2-2v4M237 292h4m-2-2v4M257 259h4m-2-2v4M261 299h4m-2-2v4M226 255h4m-2-2v4M216 284h4m-2-2v4M228 269h4m-2-2v4M196 262h4m-2-2v4M181 279h4m-2-2v4M139 292h4m-2-2v4M188 262h4m-2-2v4M309 251h4m-2-2v4M223 234h4m-2-2v4M202 267h4m-2-2v4M275 265h4m-2-2v4"/>
<path stroke="#03fffc" d="M229 273h4m-2-2v4M313 301h4m-2-2v4M203 286h4m-2-2v4M210 235h4m-2-2v4M217 285h4m-2-2v4M280 290h4m-2-2v4M164 265h4m-2-2v4M144 260h4m-2-2v4M209 250h4m-2-2v4M237 242h4m-2-2v4M221 270h4m-2-2v4M263 288h4m-2-2v4M222 265h4m-2-2v4M219 279h4m-2-2v4M255 286h4m-2-2v4M135 272h4m-2-2v4M258 278h4m-2-2v4M205 264h4m-2-2v4M196 250h4m-2-2v4M230 229h4m-2-2v4M249 238h4m-2-2v4M239 236h4m-2-2v4M274 241h4m-2-2v4M296 278h4m-2-2v4M197 267h4m-2-2v4M175 237h4m-2-2v4M157 261h4m-2-2v4M299 261h4m-2-2v4M207 274h4m-2-2v4M216 286h4m-2-2v4M208 283h4m-2-2v4M256 244h4m-2-2v4M170 267h4m-2-2v4M259 305h4m-2-2v4M178 257h4m-2-2v4M216 231h4m-2-2v4M179 288h4m-2-2v4M260 256h4m-2-2v4M253 296h4m-2-2v4M179 273h4m-2-2v4M231 254h4m-2-2v4M247 267h4m-2-2v4M154 256h4m-2-2v4M205 284h4m-2-2v4M231 289h4m-2-2v4M211 274h4m-2-2v4M266 260h4m-2-2v4M221 265h4m-2-2v4M164 234h4m-2-2v4M242 286h4m-2-2v4M253 285h4m-2-2v4M260 294h4m-2-2v4M206 258h4m-2-2v4M188 241h4m-2-2v4M161 294h4m-2-2v4M226 293h4m-2-2v4M211 267h4m-2-2v4M150 265h4m-2-2v4M167 297h4m-2-2v4M227 247h4m-2-2v4M211 284h4m-2-2v4M203 268h4m-2-2v4M201 223h4m-2-2v4M176 271h4m-2-2v4M189 235h4m-2-2v4M204 266h4m-2-2v4M203 310h4m-2-2v4M238 268h4m-2-2v4M260 256h4m-2-2v4M193 316h4m-2-2v4M247 221h4m-2-2v4M215 240h4m-2-2v4M207 281h4m-2-2v4M237 264h4m-2-2v4M209 286h4m-2-2v4M184 270h4m-2-2v4M183 268h4m-2-2v4M245 264h4m-2-2v4M279 280h4m-2-2v4M226 259h4m-2-2v4M221 260h4m-2-2v4M232 281h4m-2-2v4M235 295h4m-2-2v4M233 269h4m-2-2v4M184 296h4m-2-2v4M215 277h4m-2-2v4M247 246h4m-2-2v4M278 287h4m-2-2v4M255 257h4m-2-2v4M248 270h4m-2-2v4M227 285h4m-2-2v4M224 258h4m-2-2v4M231 244h4m-2-2v4M197 237h4m-2-2v4M260 323h4m-2-2v4M160 266h4m-2-2v4M176 291h4m-2-2v4M240 301h4m-2-2v4M200 288h4m-2-2v4M202 307h4m-2-2v4M220 274h4m-2-2v4M255 251h4m-2-2v4M226 257h4m-2-2v4M242 225h4m-2-2v4M190 274h4m-2-2v4M347 286h4m-2-2v4M191 248h4m-2-2v4M234 243h4m-2-2v4M220 298h4m-2-2v4M227 273h4m-2-2v4M214 281h4m-2-2v4M169 254h4m-2-2v4M254 288h4m-2-2v4M222 241h4m-2-2v4"/>
<path stroke="#00eaff" d="M152 279h4m-2-2v4M117 236h4m-2-2v4M136 251h4m-2-2v4M223 284h4m-2-2v4M174 222h4m-2-2v4M192 287h4m-2-2v4M211 260h4m-2-2v4M200 253h4m-2-2v4M295 266h4m-2-2v4M223 291h4m-2-2v4M211 253h4m-2-2v4M215 259h4m-2-2v4M249 214h4m-2-2v4M219 261h4m-2-2v4M238 253h4m-2-2v4M196 237h4m-2-2v4M203 282h4m-2-2v4M193 266h4m-2-2v4M204 240h4m-2-2v4M244 256h4m-2-2v4M241 254h4m-2-2v4M172 296h4m-2-2v4M163 268h4m-2-2v4M189 320h4m-2-2v4M209 271h4m-2-2v4M205 290h4m-2-2v4M248 276h4m-2-2v4M308 282h4m-2-2v4M238 277h4m-2-2v4M216 268h4m-2-2v4M259 225h4m-2-2v4M189 241h4m-2-2v4M254 287h4m-2-2v4M258 279h4m-2-2v4M181 247h4m-2-2v4M265 246h4m-2-2v4M181 255h4m-2-2v4M73 372h4m-2-2v4M277 238h4m-2-2v4M198 276h4m-2-2v4M181 273h4m-2-2v4M213 266h4m-2-2v4M226 298h4m-2-2v4M212 264h4m-2-2v4M210 258h4m-2-2v4M156 269h4m-2-2v4M241 257h4m-2-2v4M257 292h4m-2-2v4M211 291h4m-2-2v4M247 300h4m-2-2v4M254 239h4m-2-2v4M218 274h4m-2-2v4M240 246h4m-2-2v4M204 268h4m-2-2v4M279 250h4m-2-2v4M197 294h4m-2-2v4M188 280h4m-2-2v4M228 246h4m-2-2v4M218 231h4m-2-2v4M132 263h4m-2-2v4M174 269h4m-2-2v4M192 261h4m-2-2v4M212 236h4m-2-2v4M244 245h4m-2-2v4M167 281h4m-2-2v4M222 290h4m-2-2v4M245 248h4m-2-2v4M265 227h4m-2-2v4M204 269h4m-2-2v4M244 247h4m-2-2v4M151 272h4m-2-2v4M241 274h4m-2-2v4M195 240h4m-2-2v4M229 234h4m-2-2v4M201 275h4m-2-2v4M225 291h4m-2-2v4M215 265h4m-2-2v4M179 222h4m-2-2v4M217 240h4m-2-2v4M232 250h4m-2-2v4M190 299h4m-2-2v4M180 271h4m-2-2v4M204 267h4m-2-2v4M191 250h4m-2-2v4M196 279h4m-2-2v4M234 274h4m-2-2v4M254 249h4m-2-2v4M226 254h4m-2-2v4M221 277h4m-2-2v4M129 263h4m-2-2v4M130 276h4m-2-2v4M233 254h4m-2-2v4M286 274h4m-2-2v4M261 266h4m-2-2v4M353 224h4m-2-2v4M138 265h4m-2-2v4M166 261h4m-2-2v4M183 250h4m-2-2v4M169 263h4m-2-2v4M206 260h4m-2-2v4M207 266h4m-2-2v4M274 270h4m-2-2v4"/>
<path stroke="#00d2ff" d="M229 244h4m-2-2v4M192 289h4m-2-2v4M169 252h4m-2-2v4M215 315h4m-2-2v4M183 272h4m-2-2v4M222 270h4m-2-2v4M182 268h4m-2-2v4M127 313h4m-2-2v4M193 242h4m-2-2v4M132 282h4m-2-2v4M243 245h4m-2-2v4M184 283h4m-2-2v4M168 249h4m-2-2v4M222 267h4m-2-2v4M169 287h4m-2-2v4M215 267h4m-2-2v4M117 257h4m-2-2v4M185 258h4m-2-2v4M203 273h4m-2-2v4M184 282h4m-2-2v4M130 234h4m-2-2v4M173 250h4m-2-2v4M239 269h4m-2-2v4M170 228h4m-2-2v4M179 255h4m-2-2v4M139 280h4m-2-2v4"/>
<path stroke="#00baff" d="M177 278h4m-2-2v4M197 260h4m-2-2v4M132 273h4m-2-2v4M184 265h4m-2-2v4"/>
<path stroke="#00a2ff" d="M181 286h4m-2-2v4M120 248h4m-2-2v4"/>
<path stroke="#fcff03" d="M299 314h1m1 1v1m-1 1h-1m-1-1v-1M262 376h1m1 1v1m-1 1h-1m-1-1v-1M329 349h1m1 1v1m-1 1h-1m-1-1v-1M268 314h1m1 1v1m-1 1h-1m-1-1v-1M292 361h1m1 1v1m-1 1h-1m-1-1v-1M372 402h1m1 1v1m-1 1h-1m-1-1v-1M385 387h1m1 1v1m-1 1h-1m-1-1v-1M429 388h1m1 1v1m-1 1h-1m-1-1v-1M356 339h1m1 1v1m-1 1h-1m-1-1v-1M411 354h1m1 1v1m-1 1h-1m-1-1v-1M467 329h1m1 1v1m-1 1h-1m-1-1v-1"/>
<path stroke="#e6ff1a" d="M369 317h1m1 1v1m-1 1h-1m-1-1v-1M357 297h1m1 1v1m-1 1h-1m-1-1v-1M325 344h1m1 1v1m-1 1h-1m-1-1v-1M307 328h1m1 1v1m-1 1h-1m-1-1v-1M389 329h1m1 1v1m-1 1h-1m-1-1v-1M326 373h1m1 1v1m-1 1h-1m-1-1v-1M288 351h1m1 1v1m-1 1h-1m-1-1v-1M292 335h1m1 1v1m-1 1h-1m-1-1v-1M294 315h1m1 1v1m-1 1h-1m-1-1v-1M314 326h1m1 1v1m-1 1h-1m-1-1v-1M450 306h1m1 1v1m-1 1h-1m-1-1v-1M358 389h1m1 1v1m-1 1h-1m-1-1v-1M304 354h1m1 1v1m-1 1h-1m-1-1v-1M337 361h1m1 1v1m-1 1h-1m-1-1v-1M314 345h1m1 1v1m-1 1h-1m-1-1v-1M350 352h1m1 1v1m-1 1h-1m-1-1v-1M319 364h1m1 1v1m-1 1h-1m-1-1v-1M358 350h1m1 1v1m-1 1h-1m-1-1v-1M334 375h1m1 1v1m-1 1h-1m-1-1v-1M358 356h1m1 1v1m-1 1h-1m-1-1v-1M300 295h1m1 1v1m-1 1h-1m-1-1v-1M293 344h1m1 1v1m-1 1h-1m-1-1v-1M323 357h1m1 1v1m-1 1h-1m-1-1v-1M373 335h1m1 1v1m-1 1h-1m-1-1v-1M257 333h1m1 1v1m-1 1h-1m-1-1v-1"/>
<path stroke="#cfff30" d="M356 252h1m1 1v1m-1 1h-1m-1-1v-1M417 346h1m1 1v1m-1 1h-1m-1-1v-1M259 352h1m1 1v1m-1 1h-1m-1-1v-1M381 362h1m1 1v1m-1 1h-1m-1-1v-1M407 293h1m1 1v1m-1 1h-1m-1-1v-1M410 330h1m1 1v1m-1 1h-1m-1-1v-1M282 364h1m1 1v1m-1 1h-1m-1-1v-1M311 389h1m1 1v1m-1 1h-1m-1-1v-1M398 322h1m1 1v1m-1 1h-1m-1-1v-1M343 349h1m1 1v1m-1 1h-1m-1-1v-1M247 355h1m1 1v1m-1 1h-1m-1-1v-1M306 336h1m1 1v1m-1 1h-1m-1-1v-1M233 367h1m1 1v1m-1 1h-1m-1-1v-1M335 306h1m1 1v1m-1 1h-1m-1-1v-1M351 352h1m1 1v1m-1 1h-1m-1-1v-1M359 329h1m1 1v1m-1 1h-1m-1-1v-1M361 339h1m1 1v1m-1 1h-1m-1-1v-1M296 364h1m1 1v1m-1 1h-1m-1-1v-1M288 391h1m1 1v1m-1 1h-1m-1-1v-1M275 365h1m1 1v1m-1 1h-1m-1-1v-1M276 312h1m1 1v1m-1 1h-1m-1-1v-1M397 318h1m1 1v1m-1 1h-1m-1-1v-1M391 299h1m1 1v1m-1 1h-1m-1-1v-1M348 326h1m1 1v1m-1 1h-1m-1-1v-1M328 324h1m1 1v1m-1 1h-1m-1-1v-1M365 339h1m1 1v1m-1 1h-1m-1-1v-1M361 352h1m1 1v1m-1 1h-1m-1-1v-1M359 303h1m1 1v1m-1 1h-1m-1-1v-1M294 367h1m1 1v1m-1 1h-1m-1-1v-1M298 310h1m1 1v1m-1 1h-1m-1-1v-1M370 311h1m1 1v1m-1 1h-1m-1-1v-1M402 320h1m1 1v1m-1 1h-1m-1-1v-1M327 334h1m1 1v1m-1 1h-1m-1-1v-1M316 312h1m1 1v1m-1 1h-1m-1-1v-1M301 369h1m1 1v1m-1 1h-1m-1-1v-1M299 369h1m1 1v1m-1 1h-1m-1-1v-1M335 288h1m1 1v1m-1 1h-1m-1-1v-1M383 362h1m1 1v1m-1 1h-1m-1-1v-1M421 269h1m1 1v1m-1 1h-1m-1-1v-1M335 328h1m1 1v1m-1 1h-1m-1-1v-1M367 316h1m1 1v1m-1 1h-1m-1-1v-1M301 331h1m1 1v1m-1 1h-1m-1-1v-1M345 291h1m1 1v1m-1 1h-1m-1-1v-1M311 334h1m1 1v1m-1 1h-1m-1-1v-1M436 275h1m1 1v1m-1 1h-1m-1-1v-1M350 359h1m1 1v1m-1 1h-1m-1-1v-1M317 307h1m1 1v1m-1 1h-1m-1-1v-1M404 281h1m1 1v1m-1 1h-1m-1-1v-1M310 335h1m1 1v1m-1 1h-1m-1-1v-1M472 346h1m1 1v1m-1 1h-1m-1-1v-1M356 337h1m1 1v1m-1 1h-1m-1-1v-1M343 343h1m1 1v1m-1 1h-1m-1-1v-1M319 362h1m1 1v1m-1 1h-1m-1-1v-1M333 356h1m1 1v1m-1 1h-1m-1-1v-1"/>
<path stroke="#b8ff47" d="M298 378h1m1 1v1m-1 1h-1m-1-1v-1M322 330h1m1 1v1m-1 1h-1m-1-1v-1M315 304h1m1 1v1m-1 1h-1m-1-1v-1M315 323h1m1 1v1m-1 1h-1m-1-1v-1M373 358h1m1 1v1m-1 1h-1m-1-1v-1M371 346h1m1 1v1m-1 1h-1m-1-1v-1M338 258h1m1 1v1m-1 1h-1m-1-1v-1M361 261h1m1 1v1m-1 1h-1m-1-1v-1M348 264h1m1 1v1m-1 1h-1m-1-1v-1M346 309h1m1 1v1m-1 1h-1m-1-1v-1M340 272h1m1 1v1m-1 1h-1m-1-1v-1M339 269h1m1 1v1m-1 1h-1m-1-1v-1M354 281h1m1 1v1m-1 1h-1m-1-1v-1M335 305h1m1 1v1m-1 1h-1m-1-1v-1M340 337h1m1 1v1m-1 1h-1m-1-1v-1M377 304h1m1 1v1m-1 1h-1m-1-1v-1M320 335h1m1 1v1m-1 1h-1m-1-1v-1M327 314h1m1 1v1m-1 1h-1m-1-1v-1M337 287h1m1 1v1m-1 1h-1m-1-1v-1M285 371h1m1 1v1m-1 1h-1m-1-1v-1M404 291h1m1 1v1m-1 1h-1m-1-1v-1M415 257h1m1 1v1m-1 1h-1m-1-1v-1M349 274h1m1 1v1m-1 1h-1m-1-1v-1M333 329h1m1 1v1m-1 1h-1m-1-1v-1M349 288h1m1 1v1m-1 1h-1m-1-1v-1M327 326h1m1 1v1m-1 1h-1m-1-1v-1M359 261h1m1 1v1m-1 1h-1m-1-1v-1M396 251h1m1 1v1m-1 1h-1m-1-1v-1M297 350h1m1 1v1m-1 1h-1m-1-1v-1M383 285h1m1 1v1m-1 1h-1m-1-1v-1M337 327h1m1 1v1m-1 1h-1m-1-1v-1M389 282h1m1 1v1m-1 1h-1m-1-1v-1M385 317h1m1 1v1m-1 1h-1m-1-1v-1M372 287h1m1 1v1m-1 1h-1m-1-1v-1M386 290h1m1 1v1m-1 1h-1m-1-1v-1M298 321h1m1 1v1m-1 1h-1m-1-1v-1M340 283h1m1 1v1m-1 1h-1m-1-1v-1M328 291h1m1 1v1m-1 1h-1m-1-1v-1M385 327h1m1 1v1m-1 1h-1m-1-1v-1M319 354h1m1 1v1m-1 1h-1m-1-1v-1M317 290h1m1 1v1m-1 1h-1m-1-1v-1M354 306h1m1 1v1m-1 1h-1m-1-1v-1M396 284h1m1 1v1m-1 1h-1m-1-1v-1M353 311h1m1 1v1m-1 1h-1m-1-1v-1M346 272h1m1 1v1m-1 1h-1m-1-1v-1M365 323h1m1 1v1m-1 1h-1m-1-1v-1M345 308h1m1 1v1m-1 1h-1m-1-1v-1M366 381h1m1 1v1m-1 1h-1m-1-1v-1M310 316h1m1 1v1m-1 1h-1m-1-1v-1M363 312h1m1 1v1m-1 1h-1m-1-1v-1M366 246h1m1 1v1m-1 1h-1m-1-1v-1M351 262h1m1 1v1m-1 1h-1m-1-1v-1M279 361h1m1 1v1m-1 1h-1m-1-1v-1M315 360h1m1 1v1m-1 1h-1m-1-1v-1M328 309h1m1 1v1m-1 1h-1m-1-1v-1M403 354h1m1 1v1m-1 1h-1m-1-1v-1M343 317h1m1 1v1m-1 1h-1m-1-1v-1M307 340h1m1 1v1m-1 1h-1m-1-1v-1M324 326h1m1 1v1m-1 1h-1m-1-1v-1M310 380h1m1 1v1m-1 1h-1m-1-1v-1M335 314h1m1 1v1m-1 1h-1m-1-1v-1M331 354h1m1 1v1m-1 1h-1m-1-1v-1M401 324h1m1 1v1m-1 1h-1m-1-1v-1M309 336h1m1 1v1m-1 1h-1m-1-1v-1M295 364h1m1 1v1m-1 1h-1m-1-1v-1M351 255h1m1 1v1m-1 1h-1m-1-1v-1M342 244h1m1 1v1m-1 1h-1m-1-1v-1M396 241h1m1 1v1m-1 1h-1m-1-1v-1M284 384h1m1 1v1m-1 1h-1m-1-1v-1M427 299h1m1 1v1m-1 1h-1m-1-1v-1M245 382h1m1 1v1m-1 1h-1m-1-1v-1M303 286h1m1 1v1m-1 1h-1m-1-1v-1M329 267h1m1 1v1m-1 1h-1m-1-1v-1M461 284h1m1 1v1m-1 1h-1m-1-1v-1M337 303h1m1 1v1m-1 1h-1m-1-1v-1M317 259h1m1 1v1m-1 1h-1m-1-1v-1M385 268h1m1 1v1m-1 1h-1m-1-1v-1M352 308h1m1 1v1m-1 1h-1m-1-1v-1M353 333h1m1 1v1m-1 1h-1m-1-1v-1M374 340h1m1 1v1m-1 1h-1m-1-1v-1M350 233h1m1 1v1m-1 1h-1m-1-1v-1M340 278h1m1 1v1m-1 1h-1m-1-1v-1M302 367h1m1 1v1m-1 1h-1m-1-1v-1M396 283h1m1 1v1m-1 1h-1m-1-1v-1M318 347h1m1 1v1m-1 1h-1m-1-1v-1M382 353h1m1 1v1m-1 1h-1m-1-1v-1M376 316h1m1 1v1m-1 1h-1m-1-1v-1M281 346h1m1 1v1m-1 1h-1m-1-1v-1M375 274h1m1 1v1m-1 1h-1m-1-1v-1M346 325h1m1 1v1m-1 1h-1m-1-1v-1M387 313h1m1 1v1m-1 1h-1m-1-1v-1M391 306h1m1 1v1m-1 1h-1m-1-1v-1M307 320h1m1 1v1m-1 1h-1m-1-1v-1M274 325h1m1 1v1m-1 1h-1m-1-1v-1M362 264h1m1 1v1m-1 1h-1m-1-1v-1M223 383h1m1 1v1m-1 1h-1m-1-1v-1M396 306h1m1 1v1m-1 1h-1m-1-1v-1M413 324h1m1 1v1m-1 1h-1m-1-1v-1M405 308h1m1 1v1m-1 1h-1m-1-1v-1M345 252h1m1 1v1m-1 1h-1m-1-1v-1M307 364h1m1 1v1m-1 1h-1m-1-1v-1M430 264h1m1 1v1m-1 1h-1m-1-1v-1M397 312h1m1 1v1m-1 1h-1m-1-1v-1M376 342h1m1 1v1m-1 1h-1m-1-1v-1M360 261h1m1 1v1m-1 1h-1m-1-1v-1M338 321h1m1 1v1m-1 1h-1m-1-1v-1M362 312h1m1 1v1m-1 1h-1m-1-1v-1M385 286h1m1 1v1m-1 1h-1m-1-1v-1M332 296h1m1 1v1m-1 1h-1m-1-1v-1M380 261h1m1 1v1m-1 1h-1m-1-1v-1M293 266h1m1 1v1m-1 1h-1m-1-1v-1M247 372h1m1 1v1m-1 1h-1m-1-1v-1M346 278h1m1 1v1m-1 1h-1m-1-1v-1M373 292h1m1 1v1m-1 1h-1m-1-1v-1"/>
<path stroke="#a2ff5e" d="M394 302h1m1 1v1m-1 1h-1m-1-1v-1M365 264h1m1 1v1m-1 1h-1m-1-1v-1M284 310h1m1 1v1m-1 1h-1m-1-1v-1M290 360h1m1 1v1m-1 1h-1m-1-1v-1M337 300h1m1 1v1m-1 1h-1m-1-1v-1M304 313h1m1 1v1m-1 1h-1m-1-1v-1M365 238h1m1 1v1m-1 1h-1m-1-1v-1M266 324h1m1 1v1m-1 1h-1m-1-1v-1M372 286h1m1 1v1m-1 1h-1m-1-1v-1M339 282h1m1 1v1m-1 1h-1m-1-1v-1M374 258h1m1 1v1m-1 1h-1m-1-1v-1M385 270h1m1 1v1m-1 1h-1m-1-1v-1M358 266h1m1 1v1m-1 1h-1m-1-1v-1M373 263h1m1 1v1m-1 1h-1m-1-1v-1M337 276h1m1 1v1m-1 1h-1m-1-1v-1M336 326h1m1 1v1m-1 1h-1m-1-1v-1M330 300h1m1 1v1m-1 1h-1m-1-1v-1M335 301h1m1 1v1m-1 1h-1m-1-1v-1M311 306h1m1 1v1m-1 1h-1m-1-1v-1M313 323h1m1 1v1m-1 1h-1m-1-1v-1M318 331h1m1 1v1m-1 1h-1m-1-1v-1M379 391h1m1 1v1m-1 1h-1m-1-1v-1M416 286h1m1 1v1m-1 1h-1m-1-1v-1M326 289h1m1 1v1m-1 1h-1m-1-1v-1M359 301h1m1 1v1m-1 1h-1m-1-1v-1M358 226h1m1 1v1m-1 1h-1m-1-1v-1M251 298h1m1 1v1m-1 1h-1m-1-1v-1M317 261h1m1 1v1m-1 1h-1m-1-1v-1M278 334h1m1 1v1m-1 1h-1m-1-1v-1M289 355h1m1 1v1m-1 1h-1m-1-1v-1M344 240h1m1 1v1m-1 1h-1m-1-1v-1M320 325h1m1 1v1m-1 1h-1m-1-1v-1M355 249h1m1 1v1m-1 1h-1m-1-1v-1M343 281h1m1 1v1m-1 1h-1m-1-1v-1M285 351h1m1 1v1m-1 1h-1m-1-1v-1M332 275h1m1 1v1m-1 1h-1m-1-1v-1M294 343h1m1 1v1m-1 1h-1m-1-1v-1M394 270h1m1 1v1m-1 1h-1m-1-1v-1M377 297h1m1 1v1m-1 1h-1m-1-1v-1M374 292h1m1 1v1m-1 1h-1m-1-1v-1M359 309h1m1 1v1m-1 1h-1m-1-1v-1M367 324h1m1 1v1m-1 1h-1m-1-1v-1M381 238h1m1 1v1m-1 1h-1m-1-1v-1M356 267h1m1 1v1m-1 1h-1m-1-1v-1M374 211h1m1 1v1m-1 1h-1m-1-1v-1M228 320h1m1 1v1m-1 1h-1m-1-1v-1M348 333h1m1 1v1m-1 1h-1m-1-1v-1M263 243h1m1 1v1m-1 1h-1m-1-1v-1M391 280h1m1 1v1m-1 1h-1m-1-1v-1M337 334h1m1 1v1m-1 1h-1m-1-1v-1M341 338h1m1 1v1m-1 1h-1m-1-1v-1M283 316h1m1 1v1m-1 1h-1m-1-1v-1M330 293h1m1 1v1m-1 1h-1m-1-1v-1M342 244h1m1 1v1m-1 1h-1m-1-1v-1M345 275h1m1 1v1m-1 1h-1m-1-1v-1M314 327h1m1 1v1m-1 1h-1m-1-1v-1M341 262h1m1 1v1m-1 1h-1m-1-1v-1M364 264h1m1 1v1m-1 1h-1m-1-1v-1M366 261h1m1 1v1m-1 1h-1m-1-1v-1M367 264h1m1 1v1m-1 1h-1m-1-1v-1M344 232h1m1 1v1m-1 1h-1m-1-1v-1M406 279h1m1 1v1m-1 1h-1m-1-1v-1M317 307h1m1 1v1m-1 1h-1m-1-1v-1M319 287h1m1 1v1m-1 1h-1m-1-1v-1M351 282h1m1 1v1m-1 1h-1m-1-1v-1M340 276h1m1 1v1m-1 1h-1m-1-1v-1M432 311h1m1 1v1m-1 1h-1m-1-1v-1M317 311h1m1 1v1m-1 1h-1m-1-1v-1M436 292h1m1 1v1m-1 1h-1m-1-1v-1M293 285h1m1 1v1m-1 1h-1m-1-1v-1M295 239h1m1 1v1m-1 1h-1m-1-1v-1M316 318h1m1 1v1m-1 1h-1m-1-1v-1M366 277h1m1 1v1m-1 1h-1m-1-1v-1M343 322h1m1 1v1m-1 1h-1m-1-1v-1M375 305h1m1 1v1m-1 1h-1m-1-1v-1M340 306h1m1 1v1m-1 1h-1m-1-1v-1M313 308h1m1 1v1m-1 1h-1m-1-1v-1M268 299h1m1 1v1m-1 1h-1m-1-1v-1M352 406h1m1 1v1m-1 1h-1m-1-1v-1M389 304h1m1 1v1m-1 1h-1m-1-1v-1M334 293h1m1 1v1m-1 1h-1m-1-1v-1M358 270h1m1 1v1m-1 1h-1m-1-1v-1M330 333h1m1 1v1m-1 1h-1m-1-1v-1M323 251h1m1 1v1m-1 1h-1m-1-1v-1M306 294h1m1 1v1m-1 1h-1m-1-1v-1M275 314h1m1 1v1m-1 1h-1m-1-1v-1M362 243h1m1 1v1m-1 1h-1m-1-1v-1M396 240h1m1 1v1m-1 1h-1m-1-1v-1M380 311h1m1 1v1m-1 1h-1m-1-1v-1M381 289h1m1 1v1m-1 1h-1m-1-1v-1M393 307h1m1 1v1m-1 1h-1m-1-1v-1M328 256h1m1 1v1m-1 1h-1m-1-1v-1M342 226h1m1 1v1m-1 1h-1m-1-1v-1M347 304h1m1 1v1m-1 1h-1m-1-1v-1M345 285h1m1 1v1m-1 1h-1m-1-1v-1M336 336h1m1 1v1m-1 1h-1m-1-1v-1M321 299h1m1 1v1m-1 1h-1m-1-1v-1M427 311h1m1 1v1m-1 1h-1m-1-1v-1M340 254h1m1 1v1m-1 1h-1m-1-1v-1M321 294h1m1 1v1m-1 1h-1m-1-1v-1M367 279h1m1 1v1m-1 1h-1m-1-1v-1M246 303h1m1 1v1m-1 1h-1m-1-1v-1M326 312h1m1 1v1m-1 1h-1m-1-1v-1M381 330h1m1 1v1m-1 1h-1m-1-1v-1M355 258h1m1 1v1m-1 1h-1m-1-1v-1M328 252h1m1 1v1m-1 1h-1m-1-1v-1M318 250h1m1 1v1m-1 1h-1m-1-1v-1M331 303h1m1 1v1m-1 1h-1m-1-1v-1M361 250h1m1 1v1m-1 1h-1m-1-1v-1M341 246h1m1 1v1m-1 1h-1m-1-1v-1M320 316h1m1 1v1m-1 1h-1m-1-1v-1M327 293h1m1 1v1m-1 1h-1m-1-1v-1M365 318h1m1 1v1m-1 1h-1m-1-1v-1M353 292h1m1 1v1m-1 1h-1m-1-1v-1M346 262h1m1 1v1m-1 1h-1m-1-1v-1M335 314h1m1 1v1m-1 1h-1m-1-1v-1M284 321h1m1 1v1m-1 1h-1m-1-1v-1M370 251h1m1 1v1m-1 1h-1m-1-1v-1M343 195h1m1 1v1m-1 1h-1m-1-1v-1M401 326h1m1 1v1m-1 1h-1m-1-1v-1M358 273h1m1 1v1m-1 1h-1m-1-1v-1M386 333h1m1 1v1m-1 1h-1m-1-1v-1M314 348h1m1 1v1m-1 1h-1m-1-1v-1M381 258h1m1 1v1m-1 1h-1m-1-1v-1M237 339h1m1 1v1m-1 1h-1m-1-1v-1M323 334h1m1 1v1m-1 1h-1m-1-1v-1M471 322h1m1 1v1m-1 1h-1m-1-1v-1M378 271h1m1 1v1m-1 1h-1m-1-1v-1M396 244h1m1 1v1m-1 1h-1m-1-1v-1M438 310h1m1 1v1m-1 1h-1m-1-1v-1M361 306h1m1 1v1m-1 1h-1m-1-1v-1M276 315h1m1 1v1m-1 1h-1m-1-1v-1M321 301h1m1 1v1m-1 1h-1m-1-1v-1M269 317h1m1 1v1m-1 1h-1m-1-1v-1M353 264h1m1 1v1m-1 1h-1m-1-1v-1M325 278h1m1 1v1m-1 1h-1m-1-1v-1M300 335h1m1 1v1m-1 1h-1m-1-1v-1M320 228h1m1 1v1m-1 1h-1m-1-1v-1M288 324h1m1 1v1m-1 1h-1m-1-1v-1M402 278h1m1 1v1m-1 1h-1m-1-1v-1M379 304h1m1 1v1m-1 1h-1m-1-1v-1"/>
<path stroke="#8bff75" d="M335 289h1m1 1v1m-1 1h-1m-1-1v-1M247 373h1m1 1v1m-1 1h-1m-1-1v-1M368 275h1m1 1v1m-1 1h-1m-1-1v-1M306 326h1m1 1v1m-1 1h-1m-1-1v-1M263 295h1m1 1v1m-1 1h-1m-1-1v-1M322 287h1m1 1v1m-1 1h-1m-1-1v-1M389 316h1m1 1v1m-1 1h-1m-1-1v-1M366 293h1m1 1v1m-1 1h-1m-1-1v-1M306 312h1m1 1v1m-1 1h-1m-1-1v-1M343 269h1m1 1v1m-1 1h-1m-1-1v-1M326 307h1m1 1v1m-1 1h-1m-1-1v-1M304 343h1m1 1v1m-1 1h-1m-1-1v-1M319 244h1m1 1v1m-1 1h-1m-1-1v-1M298 282h1m1 1v1m-1 1h-1m-1-1v-1M252 334h1m1 1v1m-1 1h-1m-1-1v-1M357 290h1m1 1v1m-1 1h-1m-1-1v-1M267 335h1m1 1v1m-1 1h-1m-1-1v-1M273 321h1m1 1v1m-1 1h-1m-1-1v-1M388 236h1m1 1v1m-1 1h-1m-1-1v-1M294 282h1m1 1v1m-1 1h-1m-1-1v-1M325 276h1m1 1v1m-1 1h-1m-1-1v-1M325 267h1m1 1v1m-1 1h-1m-1-1v-1M289 314h1m1 1v1m-1 1h-1m-1-1v-1M306 317h1m1 1v1m-1 1h-1m-1-1v-1M293 305h1m1 1v1m-1 1h-1m-1-1v-1M293 308h1m1 1v1m-1 1h-1m-1-1v-1M296 285h1m1 1v1m-1 1h-1m-1-1v-1M370 336h1m1 1v1m-1 1h-1m-1-1v-1M343 313h1m1 1v1m-1 1h-1m-1-1v-1M299 320h1m1 1v1m-1 1h-1m-1-1v-1M328 275h1m1 1v1m-1 1h-1m-1-1v-1M354 251h1m1 1v1m-1 1h-1m-1-1v-1M285 275h1m1 1v1m-1 1h-1m-1-1v-1M349 261h1m1 1v1m-1 1h-1m-1-1v-1M283 302h1m1 1v1m-1 1h-1m-1-1v-1M405 285h1m1 1v1m-1 1h-1m-1-1v-1M281 291h1m1 1v1m-1 1h-1m-1-1v-1M281 335h1m1 1v1m-1 1h-1m-1-1v-1M304 274h1m1 1v1m-1 1h-1m-1-1v-1M335 267h1m1 1v1m-1 1h-1m-1-1v-1M295 313h1m1 1v1m-1 1h-1m-1-1v-1M369 281h1m1 1v1m-1 1h-1m-1-1v-1M277 312h1m1 1v1m-1 1h-1m-1-1v-1M289 288h1m1 1v1m-1 1h-1m-1-1v-1M284 299h1m1 1v1m-1 1h-1m-1-1v-1M236 330h1m1 1v1m-1 1h-1m-1-1v-1M328 279h1m1 1v1m-1 1h-1m-1-1v-1M259 319h1m1 1v1m-1 1h-1m-1-1v-1M320 316h1m1 1v1m-1 1h-1m-1-1v-1M410 235h1m1 1v1m-1 1h-1m-1-1v-1M393 257h1m1 1v1m-1 1h-1m-1-1v-1M265 298h1m1 1v1m-1 1h-1m-1-1v-1M282 337h1m1 1v1m-1 1h-1m-1-1v-1M307 329h1m1 1v1m-1 1h-1m-1-1v-1M358 273h1m1 1v1m-1 1h-1m-1-1v-1M363 272h1m1 1v1m-1 1h-1m-1-1v-1M286 312h1m1 1v1m-1 1h-1m-1-1v-1M314 277h1m1 1v1m-1 1h-1m-1-1v-1M315 319h1m1 1v1m-1 1h-1m-1-1v-1M322 273h1m1 1v1m-1 1h-1m-1-1v-1M386 290h1m1 1v1m-1 1h-1m-1-1v-1M307 349h1m1 1v1m-1 1h-1m-1-1v-1M278 346h1m1 1v1m-1 1h-1m-1-1v-1M287 318h1m1 1v1m-1 1h-1m-1-1v-1M279 257h1m1 1v1m-1 1h-1m-1-1v-1M288 314h1m1 1v1m-1 1h-1m-1-1v-1M326 297h1m1 1v1m-1 1h-1m-1-1v-1M318 366h1m1 1v1m-1 1h-1m-1-1v-1M301 330h1m1 1v1m-1 1h-1m-1-1v-1M359 324h1m1 1v1m-1 1h-1m-1-1v-1M374 212h1m1 1v1m-1 1h-1m-1-1v-1M283 310h1m1 1v1m-1 1h-1m-1-1v-1M317 307h1m1 1v1m-1 1h-1m-1-1v-1M315 318h1m1 1v1m-1 1h-1m-1-1v-1M382 241h1m1 1v1m-1 1h-1m-1-1v-1M341 327h1m1 1v1m-1 1h-1m-1-1v-1M284 325h1m1 1v1m-1 1h-1m-1-1v-1M303 257h1m1 1v1m-1 1h-1m-1-1v-1M340 288h1m1 1v1m-1 1h-1m-1-1v-1M359 273h1m1 1v1m-1 1h-1m-1-1v-1M276 300h1m1 1v1m-1 1h-1m-1-1v-1M224 328h1m1 1v1m-1 1h-1m-1-1v-1M325 322h1m1 1v1m-1 1h-1m-1-1v-1M288 313h1m1 1v1m-1 1h-1m-1-1v-1M302 325h1m1 1v1m-1 1h-1m-1-1v-1M249 310h1m1 1v1m-1 1h-1m-1-1v-1M334 253h1m1 1v1m-1 1h-1m-1-1v-1"/>
<path stroke="#75ff8b" d="M254 292h4m-2-2v4M273 300h4m-2-2v4M332 282h4m-2-2v4M281 289h4m-2-2v4M270 304h4m-2-2v4M267 334h4m-2-2v4M259 322h4m-2-2v4M294 251h4m-2-2v4M343 228h4m-2-2v4M266 324h4m-2-2v4M281 332h4m-2-2v4M287 250h4m-2-2v4M300 296h4m-2-2v4M236 318h4m-2-2v4M245 314h4m-2-2v4M341 317h4m-2-2v4M331 293h4m-2-2v4M305 322h4m-2-2v4M273 335h4m-2-2v4M277 270h4m-2-2v4M298 310h4m-2-2v4M272 325h4m-2-2v4M255 309h4m-2-2v4M264 292h4m-2-2v4M245 303h4m-2-2v4M318 289h4m-2-2v4M293 311h4m-2-2v4M258 277h4m-2-2v4M282 280h4m-2-2v4M293 306h4m-2-2v4M352 295h4m-2-2v4M270 298h4m-2-2v4M319 270h4m-2-2v4M273 292h4m-2-2v4M253 309h4m-2-2v4M304 275h4m-2-2v4M309 300h4m-2-2v4M273 317h4m-2-2v4M265 325h4m-2-2v4M284 305h4m-2-2v4M303 290h4m-2-2v4M252 353h4m-2-2v4M340 298h4m-2-2v4M251 333h4m-2-2v4M239 331h4m-2-2v4M305 288h4m-2-2v4M293 299h4m-2-2v4M318 285h4m-2-2v4M292 329h4m-2-2v4M337 303h4m-2-2v4M259 299h4m-2-2v4M309 296h4m-2-2v4M310 317h4m-2-2v4M278 315h4m-2-2v4M263 332h4m-2-2v4M265 332h4m-2-2v4M319 307h4m-2-2v4M318 293h4m-2-2v4M306 273h4m-2-2v4"/>
<path stroke="#5effa2" d="M301 340h4m-2-2v4M314 299h4m-2-2v4M268 254h4m-2-2v4M267 309h4m-2-2v4M341 238h4m-2-2v4M257 320h4m-2-2v4M262 286h4m-2-2v4M271 321h4m-2-2v4M288 268h4m-2-2v4M297 277h4m-2-2v4M283 299h4m-2-2v4M333 273h4m-2-2v4M313 306h4m-2-2v4M255 276h4m-2-2v4M328 265h4m-2-2v4M259 320h4m-2-2v4M302 317h4m-2-2v4M286 244h4m-2-2v4M267 307h4m-2-2v4M319 289h4m-2-2v4M234 347h4m-2-2v4M418 204h4m-2-2v4M267 303h4m-2-2v4M276 275h4m-2-2v4M328 293h4m-2-2v4M278 293h4m-2-2v4M288 289h4m-2-2v4M241 338h4m-2-2v4M302 309h4m-2-2v4M233 306h4m-2-2v4M194 338h4m-2-2v4M290 301h4m-2-2v4M250 302h4m-2-2v4M275 324h4m-2-2v4M270 291h4m-2-2v4M265 281h4m-2-2v4M287 309h4m-2-2v4M227 318h4m-2-2v4M269 320h4m-2-2v4M294 309h4m-2-2v4M223 305h4m-2-2v4M343 298h4m-2-2v4M315 269h4m-2-2v4M259 302h4m-2-2v4M250 270h4m-2-2v4M294 308h4m-2-2v4M310 320h4m-2-2v4M329 297h4m-2-2v4M302 324h4m-2-2v4M241 346h4m-2-2v4M317 323h4m-2-2v4M245 288h4m-2-2v4M342 221h4m-2-2v4M238 295h4m-2-2v4M311 294h4m-2-2v4M292 325h4m-2-2v4M267 319h4m-2-2v4M294 331h4m-2-2v4M249 312h4m-2-2v4M228 275h4m-2-2v4M319 313h4m-2-2v4M260 305h4m-2-2v4M305 339h4m-2-2v4M238 300h4m-2-2v4M355 316h4m-2-2v4M223 350h4m-2-2v4M342 318h4m-2-2v4M278 310h4m-2-2v4M303 269h4m-2-2v4M313 280h4m-2-2v4M233 309h4m-2-2v4M319 319h4m-2-2v4M233 317h4m-2-2v4"/>
<path stroke="#47ffb8" d="M323 221h4m-2-2v4M284 296h4m-2-2v4M258 342h4m-2-2v4M259 294h4m-2-2v4M274 305h4m-2-2v4M252 296h4m-2-2v4M247 278h4m-2-2v4M247 307h4m-2-2v4M269 310h4m-2-2v4M285 261h4m-2-2v4M267 284h4m-2-2v4M272 299h4m-2-2v4M288 285h4m-2-2v4M302 306h4m-2-2v4M324 244h4m-2-2v4M236 278h4m-2-2v4M297 284h4m-2-2v4M240 324h4m-2-2v4M263 312h4m-2-2v4M245 302h4m-2-2v4M265 260h4m-2-2v4M254 296h4m-2-2v4M309 308h4m-2-2v4M240 293h4m-2-2v4M240 324h4m-2-2v4M255 288h4m-2-2v4M254 309h4m-2-2v4M228 298h4m-2-2v4M282 288h4m-2-2v4M336 282h4m-2-2v4M236 294h4m-2-2v4M241 287h4m-2-2v4M226 271h4m-2-2v4M383 253h4m-2-2v4M262 290h4m-2-2v4M257 305h4m-2-2v4M206 331h4m-2-2v4M310 318h4m-2-2v4M217 285h4m-2-2v4M321 309h4m-2-2v4M267 281h4m-2-2v4M250 314h4m-2-2v4M273 327h4m-2-2v4M220 360h4m-2-2v4M280 308h4m-2-2v4M192 327h4m-2-2v4M284 290h4m-2-2v4M267 328h4m-2-2v4M305 316h4m-2-2v4M248 330h4m-2-2v4M258 250h4m-2-2v4"/>
<path stroke="#30ffcf" d="M253 300h4m-2-2v4M197 289h4m-2-2v4M195 297h4m-2-2v4M192 305h4m-2-2v4M218 308h4m-2-2v4M231 297h4m-2-2v4M266 251h4m-2-2v4M292 270h4m-2-2v4M313 232h4m-2-2v4M223 253h4m-2-2v4M263 247h4m-2-2v4M286 293h4m-2-2v4M250 335h4m-2-2v4M237 279h4m-2-2v4M236 294h4m-2-2v4M254 311h4m-2-2v4M274 281h4m-2-2v4M203 306h4m-2-2v4M236 305h4m-2-2v4M238 285h4m-2-2v4M268 269h4m-2-2v4M251 251h4m-2-2v4M231 278h4m-2-2v4M260 282h4m-2-2v4M234 349h4m-2-2v4M173 307h4m-2-2v4M209 287h4m-2-2v4M235 299h4m-2-2v4M270 290h4m-2-2v4M259 245h4m-2-2v4M295 270h4m-2-2v4M235 255h4m-2-2v4M262 313h4m-2-2v4M262 316h4m-2-2v4M223 299h4m-2-2v4M251 295h4m-2-2v4M268 287h4m-2-2v4M272 268h4m-2-2v4M231 306h4m-2-2v4M237 287h4m-2-2v4M316 278h4m-2-2v4M274 287h4m-2-2v4M205 295h4m-2-2v4M260 284h4m-2-2v4M244 294h4m-2-2v4M342 325h4m-2-2v4M275 295h4m-2-2v4M285 288h4m-2-2v4M199 271h4m-2-2v4M235 320h4m-2-2v4M249 268h4m-2-2v4M200 284h4m-2-2v4M255 304h4m-2-2v4"/>
<path stroke="#1affe6" d="M190 278h4m-2-2v4M276 283h4m-2-2v4M271 208h4m-2-2v4M187 241h4m-2-2v4M238 228h4m-2-2v4M234 291h4m-2-2v4M261 262h4m-2-2v4M247 312h4m-2-2v4M251 279h4m-2-2v4M174 268h4m-2-2v4M250 300h4m-2-2v4M212 272h4m-2-2v4M299 267h4m-2-2v4M295 248h4m-2-2v4M180 263h4m-2-2v4M272 259h4m-2-2v4M264 253h4m-2-2v4M276 276h4m-2-2v4M218 287h4m-2-2v4M223 284h4m-2-2v4M273 242h4m-2-2v4M217 310h4m-2-2v4M192 287h4m-2-2v4M173 255h4m-2-2v4M292 257h4m-2-2v4M220 268h4m-2-2v4M213 276h4m-2-2v4M170 272h4m-2-2v4M248 264h4m-2-2v4M306 246h4m-2-2v4M205 298h4m-2-2v4M225 291h4m-2-2v4M188 236h4m-2-2v4M383 295h4m-2-2v4M243 287h4m-2-2v4M182 271h4m-2-2v4M241 276h4m-2-2v4M315 248h4m-2-2v4M257 268h4m-2-2v4M293 257h4m-2-2v4M258 296h4m-2-2v4M242 328h4m-2-2v4M240 266h4m-2-2v4M238 269h4m-2-2v4M326 274h4m-2-2v4M198 279h4m-2-2v4M200 281h4m-2-2v4M262 262h4m-2-2v4M275 247h4m-2-2v4M206 299h4m-2-2v4M264 272h4m-2-2v4M185 300h4m-2-2v4M228 247h4m-2-2v4M255 278h4m-2-2v4M262 273h4m-2-2v4M206 300h4m-2-2v4M224 283h4m-2-2v4M200 254h4m-2-2v4M255 255h4m-2-2v4M230 310h4m-2-2v4M236 258h4m-2-2v4M197 266h4m-2-2v4M236 244h4m-2-2v4M263 299h4m-2-2v4M223 255h4m-2-2v4M305 281h4m-2-2v4M229 250h4m-2-2v4M215 272h4m-2-2v4M216 266h4m-2-2v4M240 253h4m-2-2v4M164 291h4m-2-2v4M179 308h4m-2-2v4M225 288h4m-2-2v4M221 269h4m-2-2v4M202 242h4m-2-2v4M239 291h4m-2-2v4M215 265h4m-2-2v4M288 279h4m-2-2v4M292 227h4m-2-2v4M169 247h4m-2-2v4M240 257h4m-2-2v4M144 240h4m-2-2v4M228 278h4m-2-2v4M212 260h4m-2-2v4M216 277h4m-2-2v4M253 266h4m-2-2v4M222 310h4m-2-2v4M378 309h4m-2-2v4M213 246h4m-2-2v4M306 320h4m-2-2v4M198 285h4m-2-2v4M219 281h4m-2-2v4M202 277h4m-2-2v4M204 277h4m-2-2v4M226 271h4m-2-2v4M267 249h4m-2-2v4M217 257h4m-2-2v4M283 266h4m-2-2v4M230 247h4m-2-2v4M221 277h4m-2-2v4M263 253h4m-2-2v4"/>
<path stroke="#03fffc" d="M189 254h4m-2-2v4M151 209h4m-2-2v4M239 287h4m-2-2v4M191 272h4m-2-2v4M246 275h4m-2-2v4M223 207h4m-2-2v4M269 261h4m-2-2v4M268 264h4m-2-2v4M220 256h4m-2-2v4M204 270h4m-2-2v4M227 243h4m-2-2v4M172 262h4m-2-2v4M207 267h4m-2-2v4M180 257h4m-2-2v4M187 253h4m-2-2v4M238 251h4m-2-2v4M230 260h4m-2-2v4M168 251h4m-2-2v4M252 253h4m-2-2v4M259 248h4m-2-2v4M220 273h4m-2-2v4M217 267h4m-2-2v4M286 307h4m-2-2v4M191 260h4m-2-2v4M245 262h4m-2-2v4M292 246h4m-2-2v4M175 283h4m-2-2v4M198 235h4m-2-2v4M264 211h4m-2-2v4M287 270h4m-2-2v4M199 293h4m-2-2v4M227 285h4m-2-2v4M188 255h4m-2-2v4M203 298h4m-2-2v4M230 294h4m-2-2v4M178 269h4m-2-2v4M209 247h4m-2-2v4M251 224h4m-2-2v4M164 271h4m-2-2v4M232 292h4m-2-2v4M183 292h4m-2-2v4M194 265h4m-2-2v4M213 278h4m-2-2v4M227 287h4m-2-2v4M253 191h4m-2-2v4M206 286h4m-2-2v4M220 252h4m-2-2v4M283 243h4m-2-2v4M189 255h4m-2-2v4M212 267h4m-2-2v4M222 259h4m-2-2v4M182 276h4m-2-2v4M226 269h4m-2-2v4M248 234h4m-2-2v4M253 247h4m-2-2v4M227 242h4m-2-2v4M247 277h4m-2-2v4M218 259h4m-2-2v4M246 302h4m-2-2v4M177 305h4m-2-2v4M273 279h4m-2-2v4M196 271h4m-2-2v4M236 240h4m-2-2v4M208 285h4m-2-2v4M282 263h4m-2-2v4M231 243h4m-2-2v4M201 241h4m-2-2v4M248 277h4m-2-2v4M240 252h4m-2-2v4M192 272h4m-2-2v4M263 254h4m-2-2v4M219 255h4m-2-2v4M211 235h4m-2-2v4M172 269h4m-2-2v4M214 222h4m-2-2v4M248 310h4m-2-2v4M210 270h4m-2-2v4M176 296h4m-2-2v4M212 274h4m-2-2v4M242 249h4m-2-2v4M181 256h4m-2-2v4M167 261h4m-2-2v4M216 289h4m-2-2v4M187 261h4m-2-2v4M229 240h4m-2-2v4M181 249h4m-2-2v4M222 281h4m-2-2v4M271 329h4m-2-2v4M257 253h4m-2-2v4M196 270h4m-2-2v4M192 247h4m-2-2v4M158 270h4m-2-2v4M147 291h4m-2-2v4M245 267h4m-2-2v4M281 273h4m-2-2v4M243 268h4m-2-2v4M280 249h4m-2-2v4M278 267h4m-2-2v4M213 270h4m-2-2v4M210 245h4m-2-2v4M263 252h4m-2-2v4M216 258h4m-2-2v4M219 266h4m-2-2v4M236 263h4m-2-2v4M207 261h4m-2-2v4M200 221h4m-2-2v4M224 260h4m-2-2v4M161 293h4m-2-2v4M221 310h4m-2-2v4M226 264h4m-2-2v4M222 255h4m-2-2v4M199 297h4m-2-2v4M216 286h4m-2-2v4M204 255h4m-2-2v4M185 276h4m-2-2v4M259 267h4m-2-2v4M299 278h4m-2-2v4M205 269h4m-2-2v4M201 262h4m-2-2v4M231 258h4m-2-2v4M172 239h4m-2-2v4M199 263h4m-2-2v4M223 297h4m-2-2v4M176 259h4m-2-2v4M282 295h4m-2-2v4M253 284h4m-2-2v4M245 244h4m-2-2v4M242 264h4m-2-2v4M290 259h4m-2-2v4M279 263h4m-2-2v4M235 289h4m-2-2v4M191 289h4m-2-2v4M200 295h4m-2-2v4M220 256h4m-2-2v4M227 270h4m-2-2v4M180 251h4m-2-2v4M220 238h4m-2-2v4M221 267h4m-2-2v4"/>
<path stroke="#00eaff" d="M181 281h4m-2-2v4M193 278h4m-2-2v4M184 257h4m-2-2v4M243 288h4m-2-2v4M220 254h4m-2-2v4M203 272h4m-2-2v4M200 237h4m-2-2v4M251 235h4m-2-2v4M211 228h4m-2-2v4M203 235h4m-2-2v4M266 243h4m-2-2v4M202 257h4m-2-2v4M213 282h4m-2-2v4M253 246h4m-2-2v4M201 253h4m-2-2v4M160 261h4m-2-2v4M268 263h4m-2-2v4M248 270h4m-2-2v4M158 254h4m-2-2v4M167 253h4m-2-2v4M194 279h4m-2-2v4M212 281h4m-2-2v4M174 248h4m-2-2v4M212 263h4m-2-2v4M232 292h4m-2-2v4M255 238h4m-2-2v4M188 261h4m-2-2v4M212 289h4m-2-2v4M195 273h4m-2-2v4M235 257h4m-2-2v4M213 253h4m-2-2v4M331 273h4m-2-2v4M236 262h4m-2-2v4M206 276h4m-2-2v4M242 262h4m-2-2v4M230 274h4m-2-2v4M158 256h4m-2-2v4M211 254h4m-2-2v4M230 270h4m-2-2v4M177 229h4m-2-2v4M212 245h4m-2-2v4M169 270h4m-2-2v4M149 252h4m-2-2v4M203 252h4m-2-2v4M186 236h4m-2-2v4M226 273h4m-2-2v4M234 295h4m-2-2v4M245 258h4m-2-2v4M211 276h4m-2-2v4M214 261h4m-2-2v4M173 256h4m-2-2v4M193 275h4m-2-2v4M170 280h4m-2-2v4M207 266h4m-2-2v4M152 265h4m-2-2v4M203 260h4m-2-2v4M160 241h4m-2-2v4M195 249h4m-2-2v4M152 293h4m-2-2v4M250 284h4m-2-2v4M129 232h4m-2-2v4M253 275h4m-2-2v4M258 267h4m-2-2v4M209 259h4m-2-2v4M212 256h4m-2-2v4M233 248h4m-2-2v4M281 248h4m-2-2v4M167 294h4m-2-2v4M223 310h4m-2-2v4M214 286h4m-2-2v4M209 217h4m-2-2v4M171 265h4m-2-2v4M211 235h4m-2-2v4M234 299h4m-2-2v4M217 216h4m-2-2v4M140 273h4m-2-2v4M174 301h4m-2-2v4M142 263h4m-2-2v4M217 260h4m-2-2v4M219 232h4m-2-2v4M224 281h4m-2-2v4M142 302h4m-2-2v4M212 249h4m-2-2v4M249 279h4m-2-2v4M253 251h4m-2-2v4M240 264h4m-2-2v4"/>
<path stroke="#00d2ff" d="M166 303h4m-2-2v4M215 250h4m-2-2v4M231 286h4m-2-2v4M138 259h4m-2-2v4M107 254h4m-2-2v4M210 229h4m-2-2v4M176 275h4m-2-2v4M157 257h4m-2-2v4M137 286h4m-2-2v4M188 243h4m-2-2v4M252 209h4m-2-2v4M223 266h4m-2-2v4M262 232h4m-2-2v4M179 276h4m-2-2v4M171 259h4m-2-2v4M227 245h4m-2-2v4M196 279h4m-2-2v4M212 251h4m-2-2v4M163 274h4m-2-2v4M214 292h4m-2-2v4M190 242h4m-2-2v4M227 281h4m-2-2v4M214 259h4m-2-2v4M157 269h4m-2-2v4M249 259h4m-2-2v4M254 262h4m-2-2v4M146 308h4m-2-2v4M205 269h4m-2-2v4M229 242h4m-2-2v4M157 265h4m-2-2v4M182 246h4m-2-2v4M188 250h4m-2-2v4M244 269h4m-2-2v4"/>
<path stroke="#00baff" d="M149 243h4m-2-2v4M155 262h4m-2-2v4M168 248h4m-2-2v4M177 243h4m-2-2v4M123 268h4m-2-2v4M123 228h4m-2-2v4M162 277h4m-2-2v4"/>
<path stroke="#fcff03" d="M475 340h1m1 1v1m-1 1h-1m-1-1v-1M290 326h1m1 1v1m-1 1h-1m-1-1v-1M448 342h1m1 1v1m-1 1h-1m-1-1v-1M277 332h1m1 1v1m-1 1h-1m-1-1v-1M320 391h1m1 1v1m-1 1h-1m-1-1v-1M313 340h1m1 1v1m-1 1h-1m-1-1v-1M374 450h1m1 1v1m-1 1h-1m-1-1v-1M369 337h1m1 1v1m-1 1h-1m-1-1v-1M494 336h1m1 1v1m-1 1h-1m-1-1v-1M433 404h1m1 1v1m-1 1h-1m-1-1v-1M381 381h1m1 1v1m-1 1h-1m-1-1v-1M268 364h1m1 1v1m-1 1h-1m-1-1v-1M308 343h1m1 1v1m-1 1h-1m-1-1v-1"/>
<path stroke="#e6ff1a" d="M295 364h1m1 1v1m-1 1h-1m-1-1v-1M272 361h1m1 1v1m-1 1h-1m-1-1v-1M379 360h1m1 1v1m-1 1h-1m-1-1v-1M281 346h1m1 1v1m-1 1h-1m-1-1v-1M333 337h1m1 1v1m-1 1h-1m-1-1v-1M381 338h1m1 1v1m-1 1h-1m-1-1v-1M351 378h1m1 1v1m-1 1h-1m-1-1v-1M291 353h1m1 1v1m-1 1h-1m-1-1v-1M365 327h1m1 1v1m-1 1h-1m-1-1v-1M329 347h1m1 1v1m-1 1h-1m-1-1v-1M377 360h1m1 1v1m-1 1h-1m-1-1v-1M391 344h1m1 1v1m-1 1h-1m-1-1v-1M267 368h1m1 1v1m-1 1h-1m-1-1v-1M359 344h1m1 1v1m-1 1h-1m-1-1v-1"/>
<path stroke="#cfff30" d="M381 408h1m1 1v1m-1 1h-1m-1-1v-1M345 330h1m1 1v1m-1 1h-1m-1-1v-1M300 348h1m1 1v1m-1 1h-1m-1-1v-1M252 302h1m1 1v1m-1 1h-1m-1-1v-1M278 319h1m1 1v1m-1 1h-1m-1-1v-1M336 402h1m1 1v1m-1 1h-1m-1-1v-1M410 336h1m1 1v1m-1 1h-1m-1-1v-1M352 293h1m1 1v1m-1 1h-1m-1-1v-1M320 389h1m1 1v1m-1 1h-1m-1-1v-1M383 282h1m1 1v1m-1 1h-1m-1-1v-1M372 326h1m1 1v1m-1 1h-1m-1-1v-1M349 289h1m1 1v1m-1 1h-1m-1-1v-1M441 402h1m1 1v1m-1 1h-1m-1-1v-1M324 366h1m1 1v1m-1 1h-1m-1-1v-1M352 352h1m1 1v1m-1 1h-1m-1-1v-1M358 308h1m1 1v1m-1 1h-1m-1-1v-1M325 328h1m1 1v1m-1 1h-1m-1-1v-1M345 254h1m1 1v1m-1 1h-1m-1-1v-1M356 326h1m1 1v1m-1 1h-1m-1-1v-1M348 333h1m1 1v1m-1 1h-1m-1-1v-1M317 340h1m1 1v1m-1 1h-1m-1-1v-1M311 360h1m1 1v1m-1 1h-1m-1-1v-1M301 309h1m1 1v1m-1 1h-1m-1-1v-1M413 244h1m1 1v1m-1 1h-1m-1-1v-1M310 329h1m1 1v1m-1 1h-1m-1-1v-1M425 323h1m1 1v1m-1 1h-1m-1-1v-1M316 352h1m1 1v1m-1 1h-1m-1-1v-1M422 354h1m1 1v1m-1 1h-1m-1-1v-1M303 323h1m1 1v1m-1 1h-1m-1-1v-1M359 301h1m1 1v1m-1 1h-1m-1-1v-1M334 316h1m1 1v1m-1 1h-1m-1-1v-1M305 322h1m1 1v1m-1 1h-1m-1-1v-1M360 308h1m1 1v1m-1 1h-1m-1-1v-1M444 378h1m1 1v1m-1 1h-1m-1-1v-1M276 371h1m1 1v1m-1 1h-1m-1-1v-1M368 287h1m1 1v1m-1 1h-1m-1-1v-1M215 295h1m1 1v1m-1 1h-1m-1-1v-1M445 387h1m1 1v1m-1 1h-1m-1-1v-1M388 330h1m1 1v1m-1 1h-1m-1-1v-1M378 336h1m1 1v1m-1 1h-1m-1-1v-1M315 320h1m1 1v1m-1 1h-1m-1-1v-1M435 269h1m1 1v1m-1 1h-1m-1-1v-1M368 341h1m1 1v1m-1 1h-1m-1-1v-1M341 349h1m1 1v1m-1 1h-1m-1-1v-1M363 304h1m1 1v1m-1 1h-1m-1-1v-1M346 342h1m1 1v1m-1 1h-1m-1-1v-1M249 359h1m1 1v1m-1 1h-1m-1-1v-1M338 387h1m1 1v1m-1 1h-1m-1-1v-1M368 336h1m1 1v1m-1 1h-1m-1-1v-1M318 255h1m1 1v1m-1 1h-1m-1-1v-1"/>
<path stroke="#b8ff47" d="M276 347h1m1 1v1m-1 1h-1m-1-1v-1M339 292h1m1 1v1m-1 1h-1m-1-1v-1M306 366h1m1 1v1m-1 1h-1m-1-1v-1M302 359h1m1 1v1m-1 1h-1m-1-1v-1M294 327h1m1 1v1m-1 1h-1m-1-1v-1M375 322h1m1 1v1m-1 1h-1m-1-1v-1M288 325h1m1 1v1m-1 1h-1m-1-1v-1M348 260h1m1 1v1m-1 1h-1m-1-1v-1M328 320h1m1 1v1m-1 1h-1m-1-1v-1M366 275h1m1 1v1m-1 1h-1m-1-1v-1M276 349h1m1 1v1m-1 1h-1m-1-1v-1M336 276h1m1 1v1m-1 1h-1m-1-1v-1M405 307h1m1 1v1m-1 1h-1m-1-1v-1M362 286h1m1 1v1m-1 1h-1m-1-1v-1M356 298h1m1 1v1m-1 1h-1m-1-1v-1M357 309h1m1 1v1m-1 1h-1m-1-1v-1M401 370h1m1 1v1m-1 1h-1m-1-1v-1M396 258h1m1 1v1m-1 1h-1m-1-1v-1M363 267h1m1 1v1m-1 1h-1m-1-1v-1M411 316h1m1 1v1m-1 1h-1m-1-1v-1M323 270h1m1 1v1m-1 1h-1m-1-1v-1M403 288h1m1 1v1m-1 1h-1m-1-1v-1M320 294h1m1 1v1m-1 1h-1m-1-1v-1M437 299h1m1 1v1m-1 1h-1m-1-1v-1M362 317h1m1 1v1m-1 1h-1m-1-1v-1M414 281h1m1 1v1m-1 1h-1m-1-1v-1M374 283h1m1 1v1m-1 1h-1m-1-1v-1M345 270h1m1 1v1m-1 1h-1m-1-1v-1M386 309h1m1 1v1m-1 1h-1m-1-1v-1M287 329h1m1 1v1m-1 1h-1m-1-1v-1M293 292h1m1 1v1m-1 1h-1m-1-1v-1M312 329h1m1 1v1m-1 1h-1m-1-1v-1M333 289h1m1 1v1m-1 1h-1m-1-1v-1M324 294h1m1 1v1m-1 1h-1m-1-1v-1M392 276h1m1 1v1m-1 1h-1m-1-1v-1M349 331h1m1 1v1m-1 1h-1m-1-1v-1M291 344h1m1 1v1m-1 1h-1m-1-1v-1M384 287h1m1 1v1m-1 1h-1m-1-1v-1M303 299h1m1 1v1m-1 1h-1m-1-1v-1M396 297h1m1 1v1m-1 1h-1m-1-1v-1M402 281h1m1 1v1m-1 1h-1m-1-1v-1M405 288h1m1 1v1m-1 1h-1m-1-1v-1M323 312h1m1 1v1m-1 1h-1m-1-1v-1M291 344h1m1 1v1m-1 1h-1m-1-1v-1M390 292h1m1 1v1m-1 1h-1m-1-1v-1M372 291h1m1 1v1m-1 1h-1m-1-1v-1M395 328h1m1 1v1m-1 1h-1m-1-1v-1M406 294h1m1 1v1m-1 1h-1m-1-1v-1M360 260h1m1 1v1m-1 1h-1m-1-1v-1M377 276h1m1 1v1m-1 1h-1m-1-1v-1M359 356h1m1 1v1m-1 1h-1m-1-1v-1M355 271h1m1 1v1m-1 1h-1m-1-1v-1M278 357h1m1 1v1m-1 1h-1m-1-1v-1M319 335h1m1 1v1m-1 1h-1m-1-1v-1M376 292h1m1 1v1m-1 1h-1m-1-1v-1M273 304h1m1 1v1m-1 1h-1m-1-1v-1M301 350h1m1 1v1m-1 1h-1m-1-1v-1M340 304h1m1 1v1m-1 1h-1m-1-1v-1M319 300h1m1 1v1m-1 1h-1m-1-1v-1M214 348h1m1 1v1m-1 1h-1m-1-1v-1M399 239h1m1 1v1m-1 1h-1m-1-1v-1M428 268h1m1 1v1m-1 1h-1m-1-1v-1M288 324h1m1 1v1m-1 1h-1m-1-1v-1M412 284h1m1 1v1m-1 1h-1m-1-1v-1M414 272h1m1 1v1m-1 1h-1m-1-1v-1M399 297h1m1 1v1m-1 1h-1m-1-1v-1M358 298h1m1 1v1m-1 1h-1m-1-1v-1M374 282h1m1 1v1m-1 1h-1m-1-1v-1M391 337h1m1 1v1m-1 1h-1m-1-1v-1M282 370h1m1 1v1m-1 1h-1m-1-1v-1M338 316h1m1 1v1m-1 1h-1m-1-1v-1M364 277h1m1 1v1m-1 1h-1m-1-1v-1M356 343h1m1 1v1m-1 1h-1m-1-1v-1M311 324h1m1 1v1m-1 1h-1m-1-1v-1M315 359h1m1 1v1m-1 1h-1m-1-1v-1M389 297h1m1 1v1m-1 1h-1m-1-1v-1M306 318h1m1 1v1m-1 1h-1m-1-1v-1M383 311h1m1 1v1m-1 1h-1m-1-1v-1M393 353h1m1 1v1m-1 1h-1m-1-1v-1M356 291h1m1 1v1m-1 1h-1m-1-1v-1M342 297h1m1 1v1m-1 1h-1m-1-1v-1M364 335h1m1 1v1m-1 1h-1m-1-1v-1M353 292h1m1 1v1m-1 1h-1m-1-1v-1M340 309h1m1 1v1m-1 1h-1m-1-1v-1M292 296h1m1 1v1m-1 1h-1m-1-1v-1M335 350h1m1 1v1m-1 1h-1m-1-1v-1M335 340h1m1 1v1m-1 1h-1m-1-1v-1M388 301h1m1 1v1m-1 1h-1m-1-1v-1M390 297h1m1 1v1m-1 1h-1m-1-1v-1M337 281h1m1 1v1m-1 1h-1m-1-1v-1M305 348h1m1 1v1m-1 1h-1m-1-1v-1M323 320h1m1 1v1m-1 1h-1m-1-1v-1M356 299h1m1 1v1m-1 1h-1m-1-1v-1M360 308h1m1 1v1m-1 1h-1m-1-1v-1M308 291h1m1 1v1m-1 1h-1m-1-1v-1M313 294h1m1 1v1m-1 1h-1m-1-1v-1M398 335h1m1 1v1m-1 1h-1m-1-1v-1M333 320h1m1 1v1m-1 1h-1m-1-1v-1M457 364h1m1 1v1m-1 1h-1m-1-1v-1M323 286h1m1 1v1m-1 1h-1m-1-1v-1M305 291h1m1 1v1m-1 1h-1m-1-1v-1M395 277h1m1 1v1m-1 1h-1m-1-1v-1M352 283h1m1 1v1m-1 1h-1m-1-1v-1M333 359h1m1 1v1m-1 1h-1m-1-1v-1M362 251h1m1 1v1m-1 1h-1m-1-1v-1M384 295h1m1 1v1m-1 1h-1m-1-1v-1M324 248h1m1 1v1m-1 1h-1m-1-1v-1M315 259h1m1 1v1m-1 1h-1m-1-1v-1"/>
<path stroke="#a2ff5e" d="M384 290h1m1 1v1m-1 1h-1m-1-1v-1M356 237h1m1 1v1m-1 1h-1m-1-1v-1M313 338h1m1 1v1m-1 1h-1m-1-1v-1M416 278h1m1 1v1m-1 1h-1m-1-1v-1M381 219h1m1 1v1m-1 1h-1m-1-1v-1M329 252h1m1 1v1m-1 1h-1m-1-1v-1M254 328h1m1 1v1m-1 1h-1m-1-1v-1M262 339h1m1 1v1m-1 1h-1m-1-1v-1M425 187h1m1 1v1m-1 1h-1m-1-1v-1M370 326h1m1 1v1m-1 1h-1m-1-1v-1M295 304h1m1 1v1m-1 1h-1m-1-1v-1M368 286h1m1 1v1m-1 1h-1m-1-1v-1M398 257h1m1 1v1m-1 1h-1m-1-1v-1M387 226h1m1 1v1m-1 1h-1m-1-1v-1M247 368h1m1 1v1m-1 1h-1m-1-1v-1M314 271h1m1 1v1m-1 1h-1m-1-1v-1M356 272h1m1 1v1m-1 1h-1m-1-1v-1M279 297h1m1 1v1m-1 1h-1m-1-1v-1M335 298h1m1 1v1m-1 1h-1m-1-1v-1M258 255h1m1 1v1m-1 1h-1m-1-1v-1M373 247h1m1 1v1m-1 1h-1m-1-1v-1M307 313h1m1 1v1m-1 1h-1m-1-1v-1M349 315h1m1 1v1m-1 1h-1m-1-1v-1M351 306h1m1 1v1m-1 1h-1m-1-1v-1M299 271h1m1 1v1m-1 1h-1m-1-1v-1M285 288h1m1 1v1m-1 1h-1m-1-1v-1M420 371h1m1 1v1m-1 1h-1m-1-1v-1M332 293h1m1 1v1m-1 1h-1m-1-1v-1M349 266h1m1 1v1m-1 1h-1m-1-1v-1M287 345h1m1 1v1m-1 1h-1m-1-1v-1M379 266h1m1 1v1m-1 1h-1m-1-1v-1M317 277h1m1 1v1m-1 1h-1m-1-1v-1M401 254h1m1 1v1m-1 1h-1m-1-1v-1M355 284h1m1 1v1m-1 1h-1m-1-1v-1M233 350h1m1 1v1m-1 1h-1m-1-1v-1M317 278h1m1 1v1m-1 1h-1m-1-1v-1M358 295h1m1 1v1m-1 1h-1m-1-1v-1M332 244h1m1 1v1m-1 1h-1m-1-1v-1M390 298h1m1 1v1m-1 1h-1m-1-1v-1M313 271h1m1 1v1m-1 1h-1m-1-1v-1M323 295h1m1 1v1m-1 1h-1m-1-1v-1M376 285h1m1 1v1m-1 1h-1m-1-1v-1M260 383h1m1 1v1m-1 1h-1m-1-1v-1M349 257h1m1 1v1m-1 1h-1m-1-1v-1M412 278h1m1 1v1m-1 1h-1m-1-1v-1M275 320h1m1 1v1m-1 1h-1m-1-1v-1M228 329h1m1 1v1m-1 1h-1m-1-1v-1M365 325h1m1 1v1m-1 1h-1m-1-1v-1M348 287h1m1 1v1m-1 1h-1m-1-1v-1M409 264h1m1 1v1m-1 1h-1m-1-1v-1M292 356h1m1 1v1m-1 1h-1m-1-1v-1M400 300h1m1 1v1m-1 1h-1m-1-1v-1M362 276h1m1 1v1m-1 1h-1m-1-1v-1M385 251h1m1 1v1m-1 1h-1m-1-1v-1M315 349h1m1 1v1m-1 1h-1m-1-1v-1M323 281h1m1 1v1m-1 1h-1m-1-1v-1M396 291h1m1 1v1m-1 1h-1m-1-1v-1M284 325h1m1 1v1m-1 1h-1m-1-1v-1M378 239h1m1 1v1m-1 1h-1m-1-1v-1M337 253h1m1 1v1m-1 1h-1m-1-1v-1M361 269h1m1 1v1m-1 1h-1m-1-1v-1M328 299h1m1 1v1m-1 1h-1m-1-1v-1M252 332h1m1 1v1m-1 1h-1m-1-1v-1M334 277h1m1 1v1m-1 1h-1m-1-1v-1M351 365h1m1 1v1m-1 1h-1m-1-1v-1M334 303h1m1 1v1m-1 1h-1m-1-1v-1M364 234h1m1 1v1m-1 1h-1m-1-1v-1M347 275h1m1 1v1m-1 1h-1m-1-1v-1M285 310h1m1 1v1m-1 1h-1m-1-1v-1M310 311h1m1 1v1m-1 1h-1m-1-1v-1M381 302h1m1 1v1m-1 1h-1m-1-1v-1M311 338h1m1 1v1m-1 1h-1m-1-1v-1M392 247h1m1 1v1m-1 1h-1m-1-1v-1M370 303h1m1 1v1m-1 1h-1m-1-1v-1M292 266h1m1 1v1m-1 1h-1m-1-1v-1M361 248h1m1 1v1m-1 1h-1m-1-1v-1M290 356h1m1 1v1m-1 1h-1m-1-1v-1M334 278h1m1 1v1m-1 1h-1m-1-1v-1M310 291h1m1 1v1m-1 1h-1m-1-1v-1M321 297h1m1 1v1m-1 1h-1m-1-1v-1M294 324h1m1 1v1m-1 1h-1m-1-1v-1M293 311h1m1 1v1m-1 1h-1m-1-1v-1M294 261h1m1 1v1m-1 1h-1m-1-1v-1M293 334h1m1 1v1m-1 1h-1m-1-1v-1M297 283h1m1 1v1m-1 1h-1m-1-1v-1M284 302h1m1 1v1m-1 1h-1m-1-1v-1M347 242h1m1 1v1m-1 1h-1m-1-1v-1M336 311h1m1 1v1m-1 1h-1m-1-1v-1M361 235h1m1 1v1m-1 1h-1m-1-1v-1M310 268h1m1 1v1m-1 1h-1m-1-1v-1M360 224h1m1 1v1m-1 1h-1m-1-1v-1M255 300h1m1 1v1m-1 1h-1m-1-1v-1M290 286h1m1 1v1m-1 1h-1m-1-1v-1M402 204h1m1 1v1m-1 1h-1m-1-1v-1M327 278h1m1 1v1m-1 1h-1m-1-1v-1M382 258h1m1 1v1m-1 1h-1m-1-1v-1M309 354h1m1 1v1m-1 1h-1m-1-1v-1M289 290h1m1 1v1m-1 1h-1m-1-1v-1M298 278h1m1 1v1m-1 1h-1m-1-1v-1M326 306h1m1 1v1m-1 1h-1m-1-1v-1M373 289h1m1 1v1m-1 1h-1m-1-1v-1M275 298h1m1 1v1m-1 1h-1m-1-1v-1M336 282h1m1 1v1m-1 1h-1m-1-1v-1M320 289h1m1 1v1m-1 1h-1m-1-1v-1M379 274h1m1 1v1m-1 1h-1m-1-1v-1M299 322h1m1 1v1m-1 1h-1m-1-1v-1M312 286h1m1 1v1m-1 1h-1m-1-1v-1M330 270h1m1 1v1m-1 1h-1m-1-1v-1M377 244h1m1 1v1m-1 1h-1m-1-1v-1M322 282h1m1 1v1m-1 1h-1m-1-1v-1M329 360h1m1 1v1m-1 1h-1m-1-1v-1M368 272h1m1 1v1m-1 1h-1m-1-1v-1M413 243h1m1 1v1m-1 1h-1m-1-1v-1M424 272h1m1 1v1m-1 1h-1m-1-1v-1M372 265h1m1 1v1m-1 1h-1m-1-1v-1M338 288h1m1 1v1m-1 1h-1m-1-1v-1M325 333h1m1 1v1m-1 1h-1m-1-1v-1M383 287h1m1 1v1m-1 1h-1m-1-1v-1M364 248h1m1 1v1m-1 1h-1m-1-1v-1M377 262h1m1 1v1m-1 1h-1m-1-1v-1M295 319h1m1 1v1m-1 1h-1m-1-1v-1M387 286h1m1 1v1m-1 1h-1m-1-1v-1M388 263h1m1 1v1m-1 1h-1m-1-1v-1M380 306h1m1 1v1m-1 1h-1m-1-1v-1M297 387h1m1 1v1m-1 1h-1m-1-1v-1M292 327h1m1 1v1m-1 1h-1m-1-1v-1M401 269h1m1 1v1m-1 1h-1m-1-1v-1M319 308h1m1 1v1m-1 1h-1m-1-1v-1M285 249h1m1 1v1m-1 1h-1m-1-1v-1M402 289h1m1 1v1m-1 1h-1m-1-1v-1M347 265h1m1 1v1m-1 1h-1m-1-1v-1M383 198h1m1 1v1m-1 1h-1m-1-1v-1M348 306h1m1 1v1m-1 1h-1m-1-1v-1M415 296h1m1 1v1m-1 1h-1m-1-1v-1M334 257h1m1 1v1m-1 1h-1m-1-1v-1M394 324h1m1 1v1m-1 1h-1m-1-1v-1M267 298h1m1 1v1m-1 1h-1m-1-1v-1M354 317h1m1 1v1m-1 1h-1m-1-1v-1M384 277h1m1 1v1m-1 1h-1m-1-1v-1M384 257h1m1 1v1m-1 1h-1m-1-1v-1M333 307h1m1 1v1m-1 1h-1m-1-1v-1M331 298h1m1 1v1m-1 1h-1m-1-1v-1M392 281h1m1 1v1m-1 1h-1m-1-1v-1"/>
<path stroke="#8bff75" d="M332 284h1m1 1v1m-1 1h-1m-1-1v-1M274 254h1m1 1v1m-1 1h-1m-1-1v-1M299 350h1m1 1v1m-1 1h-1m-1-1v-1M325 351h1m1 1v1m-1 1h-1m-1-1v-1M327 311h1m1 1v1m-1 1h-1m-1-1v-1M354 277h1m1 1v1m-1 1h-1m-1-1v-1M366 266h1m1 1v1m-1 1h-1m-1-1v-1M258 305h1m1 1v1m-1 1h-1m-1-1v-1M275 245h1m1 1v1m-1 1h-1m-1-1v-1M346 275h1m1 1v1m-1 1h-1m-1-1v-1M339 278h1m1 1v1m-1 1h-1m-1-1v-1M296 297h1m1 1v1m-1 1h-1m-1-1v-1M308 301h1m1 1v1m-1 1h-1m-1-1v-1M319 295h1m1 1v1m-1 1h-1m-1-1v-1M361 232h1m1 1v1m-1 1h-1m-1-1v-1M264 349h1m1 1v1m-1 1h-1m-1-1v-1M385 206h1m1 1v1m-1 1h-1m-1-1v-1M406 255h1m1 1v1m-1 1h-1m-1-1v-1M293 342h1m1 1v1m-1 1h-1m-1-1v-1M328 260h1m1 1v1m-1 1h-1m-1-1v-1M307 323h1m1 1v1m-1 1h-1m-1-1v-1M328 290h1m1 1v1m-1 1h-1m-1-1v-1M307 292h1m1 1v1m-1 1h-1m-1-1v-1M253 326h1m1 1v1m-1 1h-1m-1-1v-1M303 354h1m1 1v1m-1 1h-1m-1-1v-1M332 309h1m1 1v1m-1 1h-1m-1-1v-1M263 347h1m1 1v1m-1 1h-1m-1-1v-1M322 354h1m1 1v1m-1 1h-1m-1-1v-1M431 316h1m1 1v1m-1 1h-1m-1-1v-1M347 201h1m1 1v1m-1 1h-1m-1-1v-1M313 244h1m1 1v1m-1 1h-1m-1-1v-1M326 284h1m1 1v1m-1 1h-1m-1-1v-1M311 293h1m1 1v1m-1 1h-1m-1-1v-1M267 313h1m1 1v1m-1 1h-1m-1-1v-1M275 323h1m1 1v1m-1 1h-1m-1-1v-1M286 318h1m1 1v1m-1 1h-1m-1-1v-1M442 284h1m1 1v1m-1 1h-1m-1-1v-1M344 249h1m1 1v1m-1 1h-1m-1-1v-1M431 285h1m1 1v1m-1 1h-1m-1-1v-1M295 296h1m1 1v1m-1 1h-1m-1-1v-1M363 240h1m1 1v1m-1 1h-1m-1-1v-1M338 345h1m1 1v1m-1 1h-1m-1-1v-1M290 325h1m1 1v1m-1 1h-1m-1-1v-1M282 334h1m1 1v1m-1 1h-1m-1-1v-1M369 209h1m1 1v1m-1 1h-1m-1-1v-1M299 299h1m1 1v1m-1 1h-1m-1-1v-1M282 317h1m1 1v1m-1 1h-1m-1-1v-1M277 333h1m1 1v1m-1 1h-1m-1-1v-1M266 325h1m1 1v1m-1 1h-1m-1-1v-1M297 275h1m1 1v1m-1 1h-1m-1-1v-1M354 286h1m1 1v1m-1 1h-1m-1-1v-1M312 312h1m1 1v1m-1 1h-1m-1-1v-1M298 329h1m1 1v1m-1 1h-1m-1-1v-1M271 287h1m1 1v1m-1 1h-1m-1-1v-1M327 246h1m1 1v1m-1 1h-1m-1-1v-1M350 290h1m1 1v1m-1 1h-1m-1-1v-1M313 260h1m1 1v1m-1 1h-1m-1-1v-1M304 252h1m1 1v1m-1 1h-1m-1-1v-1M259 331h1m1 1v1m-1 1h-1m-1-1v-1M299 296h1m1 1v1m-1 1h-1m-1-1v-1M370 250h1m1 1v1m-1 1h-1m-1-1v-1M345 233h1m1 1v1m-1 1h-1m-1-1v-1M337 264h1m1 1v1m-1 1h-1m-1-1v-1M355 279h1m1 1v1m-1 1h-1m-1-1v-1M302 283h1m1 1v1m-1 1h-1m-1-1v-1M245 305h1m1 1v1m-1 1h-1m-1-1v-1M281 301h1m1 1v1m-1 1h-1m-1-1v-1M279 284h1m1 1v1m-1 1h-1m-1-1v-1M362 282h1m1 1v1m-1 1h-1m-1-1v-1M284 349h1m1 1v1m-1 1h-1m-1-1v-1M363 284h1m1 1v1m-1 1h-1m-1-1v-1M296 324h1m1 1v1m-1 1h-1m-1-1v-1M366 204h1m1 1v1m-1 1h-1m-1-1v-1M358 253h1m1 1v1m-1 1h-1m-1-1v-1M311 236h1m1 1v1m-1 1h-1m-1-1v-1M408 232h1m1 1v1m-1 1h-1m-1-1v-1M320 276h1m1 1v1m-1 1h-1m-1-1v-1M302 321h1m1 1v1m-1 1h-1m-1-1v-1M294 298h1m1 1v1m-1 1h-1m-1-1v-1"/>
<path stroke="#75ff8b" d="M291 281h4m-2-2v4M302 291h4m-2-2v4M270 285h4m-2-2v4M304 295h4m-2-2v4M257 341h4m-2-2v4M295 323h4m-2-2v4M301 325h4m-2-2v4M303 277h4m-2-2v4M296 300h4m-2-2v4M260 305h4m-2-2v4M298 309h4m-2-2v4M321 291h4m-2-2v4M275 294h4m-2-2v4M271 271h4m-2-2v4M258 289h4m-2-2v4M287 392h4m-2-2v4M242 336h4m-2-2v4M314 268h4m-2-2v4M295 305h4m-2-2v4M319 302h4m-2-2v4M275 302h4m-2-2v4M329 278h4m-2-2v4M281 293h4m-2-2v4M317 302h4m-2-2v4M310 266h4m-2-2v4M273 285h4m-2-2v4M309 378h4m-2-2v4M289 311h4m-2-2v4M272 318h4m-2-2v4M213 330h4m-2-2v4M309 268h4m-2-2v4M265 302h4m-2-2v4M270 316h4m-2-2v4M283 298h4m-2-2v4M277 336h4m-2-2v4M280 286h4m-2-2v4M262 323h4m-2-2v4M296 308h4m-2-2v4M243 321h4m-2-2v4M331 315h4m-2-2v4M285 293h4m-2-2v4M319 254h4m-2-2v4M295 302h4m-2-2v4M338 309h4m-2-2v4M292 284h4m-2-2v4M259 328h4m-2-2v4M292 331h4m-2-2v4M296 330h4m-2-2v4M324 303h4m-2-2v4M325 290h4m-2-2v4M324 276h4m-2-2v4M238 353h4m-2-2v4M290 321h4m-2-2v4M246 284h4m-2-2v4M285 260h4m-2-2v4M313 245h4m-2-2v4M360 277h4m-2-2v4M291 295h4m-2-2v4M335 308h4m-2-2v4M287 285h4m-2-2v4M324 270h4m-2-2v4M286 310h4m-2-2v4M267 375h4m-2-2v4M303 267h4m-2-2v4M278 375h4m-2-2v4M315 319h4m-2-2v4M271 328h4m-2-2v4M291 318h4m-2-2v4M274 331h4m-2-2v4M324 268h4m-2-2v4M285 323h4m-2-2v4M261 336h4m-2-2v4M286 294h4m-2-2v4M283 306h4m-2-2v4M297 265h4m-2-2v4M194 337h4m-2-2v4M288 299h4m-2-2v4M277 342h4m-2-2v4M290 266h4m-2-2v4M249 335h4m-2-2v4"/>
<path stroke="#5effa2" d="M290 241h4m-2-2v4M261 323h4m-2-2v4M241 353h4m-2-2v4M165 383h4m-2-2v4M289 294h4m-2-2v4M235 278h4m-2-2v4M266 297h4m-2-2v4M271 277h4m-2-2v4M247 335h4m-2-2v4M243 310h4m-2-2v4M191 370h4m-2-2v4M260 318h4m-2-2v4M303 295h4m-2-2v4M211 352h4m-2-2v4M269 270h4m-2-2v4M266 312h4m-2-2v4M271 315h4m-2-2v4M323 294h4m-2-2v4M299 320h4m-2-2v4M282 287h4m-2-2v4M277 290h4m-2-2v4M278 278h4m-2-2v4M244 283h4m-2-2v4M274 264h4m-2-2v4M243 334h4m-2-2v4M321 296h4m-2-2v4M254 324h4m-2-2v4M286 280h4m-2-2v4M254 312h4m-2-2v4M282 326h4m-2-2v4M338 273h4m-2-2v4M244 308h4m-2-2v4M285 292h4m-2-2v4M278 301h4m-2-2v4M271 308h4m-2-2v4M295 316h4m-2-2v4M247 290h4m-2-2v4M228 301h4m-2-2v4M317 291h4m-2-2v4M280 282h4m-2-2v4M297 300h4m-2-2v4M260 314h4m-2-2v4M302 309h4m-2-2v4M187 383h4m-2-2v4M274 291h4m-2-2v4M253 298h4m-2-2v4M257 352h4m-2-2v4M263 294h4m-2-2v4M306 259h4m-2-2v4M280 284h4m-2-2v4M309 257h4m-2-2v4M261 288h4m-2-2v4M229 294h4m-2-2v4M249 331h4m-2-2v4M288 317h4m-2-2v4M260 290h4m-2-2v4M248 320h4m-2-2v4M292 344h4m-2-2v4M247 318h4m-2-2v4M282 312h4m-2-2v4M284 283h4m-2-2v4M270 335h4m-2-2v4M359 198h4m-2-2v4M273 301h4m-2-2v4M225 309h4m-2-2v4M295 276h4m-2-2v4M292 250h4m-2-2v4M239 305h4m-2-2v4"/>
<path stroke="#47ffb8" d="M206 332h4m-2-2v4M275 290h4m-2-2v4M270 311h4m-2-2v4M307 302h4m-2-2v4M301 285h4m-2-2v4M220 308h4m-2-2v4M347 276h4m-2-2v4M340 324h4m-2-2v4M281 285h4m-2-2v4M231 264h4m-2-2v4M216 306h4m-2-2v4M291 278h4m-2-2v4M206 308h4m-2-2v4M258 255h4m-2-2v4M199 319h4m-2-2v4M394 174h4m-2-2v4M258 331h4m-2-2v4M221 319h4m-2-2v4M264 316h4m-2-2v4M222 283h4m-2-2v4M279 286h4m-2-2v4M294 267h4m-2-2v4M307 291h4m-2-2v4M215 261h4m-2-2v4M321 252h4m-2-2v4M251 299h4m-2-2v4M253 274h4m-2-2v4M271 307h4m-2-2v4M241 265h4m-2-2v4M235 272h4m-2-2v4M287 272h4m-2-2v4M262 263h4m-2-2v4M263 338h4m-2-2v4M259 303h4m-2-2v4M203 320h4m-2-2v4M312 276h4m-2-2v4M262 289h4m-2-2v4M302 279h4m-2-2v4M250 289h4m-2-2v4M201 325h4m-2-2v4M258 287h4m-2-2v4M276 273h4m-2-2v4M249 293h4m-2-2v4M254 305h4m-2-2v4M245 287h4m-2-2v4M297 287h4m-2-2v4M293 307h4m-2-2v4M278 306h4m-2-2v4M268 270h4m-2-2v4M238 313h4m-2-2v4M324 290h4m-2-2v4M297 291h4m-2-2v4M243 343h4m-2-2v4M259 310h4m-2-2v4M263 288h4m-2-2v4M303 236h4m-2-2v4M246 312h4m-2-2v4M308 281h4m-2-2v4M271 301h4m-2-2v4"/>
<path stroke="#30ffcf" d="M268 282h4m-2-2v4M231 250h4m-2-2v4M275 287h4m-2-2v4M354 288h4m-2-2v4M226 329h4m-2-2v4M285 285h4m-2-2v4M232 297h4m-2-2v4M234 244h4m-2-2v4M255 276h4m-2-2v4M252 260h4m-2-2v4M236 281h4m-2-2v4M238 350h4m-2-2v4M317 293h4m-2-2v4M267 290h4m-2-2v4M262 271h4m-2-2v4M255 287h4m-2-2v4M269 290h4m-2-2v4M276 284h4m-2-2v4M242 297h4m-2-2v4M259 351h4m-2-2v4M216 276h4m-2-2v4M318 286h4m-2-2v4M271 301h4m-2-2v4M246 325h4m-2-2v4M261 300h4m-2-2v4M192 297h4m-2-2v4M254 304h4m-2-2v4M263 293h4m-2-2v4M281 274h4m-2-2v4M200 287h4m-2-2v4M276 276h4m-2-2v4M196 295h4m-2-2v4M239 304h4m-2-2v4M238 272h4m-2-2v4M261 322h4m-2-2v4M306 292h4m-2-2v4M225 288h4m-2-2v4M300 230h4m-2-2v4M255 291h4m-2-2v4M274 238h4m-2-2v4M288 290h4m-2-2v4M288 281h4m-2-2v4M280 267h4m-2-2v4M339 217h4m-2-2v4M254 253h4m-2-2v4M409 271h4m-2-2v4M247 299h4m-2-2v4M338 283h4m-2-2v4M163 283h4m-2-2v4M228 313h4m-2-2v4M365 315h4m-2-2v4M225 282h4m-2-2v4M319 319h4m-2-2v4M260 301h4m-2-2v4M206 255h4m-2-2v4M248 265h4m-2-2v4M287 287h4m-2-2v4M206 249h4m-2-2v4M239 313h4m-2-2v4M277 282h4m-2-2v4M228 268h4m-2-2v4M331 279h4m-2-2v4M249 255h4m-2-2v4M207 308h4m-2-2v4M326 254h4m-2-2v4"/>
<path stroke="#1affe6" d="M271 280h4m-2-2v4M249 240h4m-2-2v4M241 257h4m-2-2v4M235 282h4m-2-2v4M322 278h4m-2-2v4M179 252h4m-2-2v4M214 274h4m-2-2v4M231 242h4m-2-2v4M199 258h4m-2-2v4M238 308h4m-2-2v4M188 267h4m-2-2v4M173 274h4m-2-2v4M259 257h4m-2-2v4M239 307h4m-2-2v4M279 298h4m-2-2v4M291 302h4m-2-2v4M266 288h4m-2-2v4M312 308h4m-2-2v4M187 247h4m-2-2v4M191 266h4m-2-2v4M271 244h4m-2-2v4M143 297h4m-2-2v4M249 323h4m-2-2v4M255 276h4m-2-2v4M361 218h4m-2-2v4M202 257h4m-2-2v4M243 283h4m-2-2v4M255 243h4m-2-2v4M146 282h4m-2-2v4M248 246h4m-2-2v4M267 296h4m-2-2v4M237 278h4m-2-2v4M245 247h4m-2-2v4M238 296h4m-2-2v4M262 231h4m-2-2v4M268 259h4m-2-2v4M216 228h4m-2-2v4M226 286h4m-2-2v4M240 281h4m-2-2v4M214 273h4m-2-2v4M231 272h4m-2-2v4M219 261h4m-2-2v4M188 254h4m-2-2v4M246 245h4m-2-2v4M324 252h4m-2-2v4M243 225h4m-2-2v4M205 295h4m-2-2v4M277 269h4m-2-2v4M298 243h4m-2-2v4M178 300h4m-2-2v4M187 256h4m-2-2v4M157 287h4m-2-2v4M138 233h4m-2-2v4M195 269h4m-2-2v4M225 265h4m-2-2v4M282 262h4m-2-2v4M202 310h4m-2-2v4M384 233h4m-2-2v4M179 239h4m-2-2v4M258 276h4m-2-2v4M225 274h4m-2-2v4M359 296h4m-2-2v4M178 274h4m-2-2v4M267 315h4m-2-2v4M220 259h4m-2-2v4M190 254h4m-2-2v4M222 260h4m-2-2v4M198 244h4m-2-2v4M252 273h4m-2-2v4M250 223h4m-2-2v4M311 195h4m-2-2v4"/>
<path stroke="#03fffc" d="M211 281h4m-2-2v4M217 268h4m-2-2v4M262 273h4m-2-2v4M215 243h4m-2-2v4M150 262h4m-2-2v4M217 305h4m-2-2v4M189 263h4m-2-2v4M210 286h4m-2-2v4M228 288h4m-2-2v4M324 262h4m-2-2v4M215 279h4m-2-2v4M256 255h4m-2-2v4M302 289h4m-2-2v4M248 264h4m-2-2v4M232 274h4m-2-2v4M277 289h4m-2-2v4M187 248h4m-2-2v4M205 269h4m-2-2v4M180 262h4m-2-2v4M246 253h4m-2-2v4M321 267h4m-2-2v4M274 263h4m-2-2v4M188 231h4m-2-2v4M230 291h4m-2-2v4M223 267h4m-2-2v4M292 321h4m-2-2v4M175 278h4m-2-2v4M298 284h4m-2-2v4M226 260h4m-2-2v4M225 267h4m-2-2v4M228 281h4m-2-2v4M300 249h4m-2-2v4M295 249h4m-2-2v4M193 250h4m-2-2v4M153 313h4m-2-2v4M214 275h4m-2-2v4M222 246h4m-2-2v4M178 247h4m-2-2v4M167 299h4m-2-2v4M163 278h4m-2-2v4M235 265h4m-2-2v4M197 282h4m-2-2v4M234 282h4m-2-2v4M214 284h4m-2-2v4M271 265h4m-2-2v4M300 285h4m-2-2v4M244 273h4m-2-2v4M226 252h4m-2-2v4M216 228h4m-2-2v4M233 274h4m-2-2v4M260 274h4m-2-2v4M270 262h4m-2-2v4M224 292h4m-2-2v4M239 224h4m-2-2v4M224 276h4m-2-2v4M274 272h4m-2-2v4M216 275h4m-2-2v4M211 252h4m-2-2v4M250 274h4m-2-2v4M144 264h4m-2-2v4M200 282h4m-2-2v4M216 249h4m-2-2v4M230 260h4m-2-2v4M237 290h4m-2-2v4M241 279h4m-2-2v4M166 257h4m-2-2v4M203 288h4m-2-2v4M148 223h4m-2-2v4M202 272h4m-2-2v4M196 253h4m-2-2v4M241 254h4m-2-2v4M220 279h4m-2-2v4M232 235h4m-2-2v4M228 260h4m-2-2v4M197 266h4m-2-2v4M190 274h4m-2-2v4M140 266h4m-2-2v4M222 258h4m-2-2v4M209 253h4m-2-2v4M187 253h4m-2-2v4M217 237h4m-2-2v4M228 282h4m-2-2v4M260 259h4m-2-2v4M184 248h4m-2-2v4M206 260h4m-2-2v4M235 284h4m-2-2v4M245 309h4m-2-2v4M209 257h4m-2-2v4M192 303h4m-2-2v4M234 279h4m-2-2v4M246 244h4m-2-2v4M278 261h4m-2-2v4M213 296h4m-2-2v4M265 277h4m-2-2v4M196 229h4m-2-2v4M274 295h4m-2-2v4M172 243h4m-2-2v4M192 264h4m-2-2v4M279 246h4m-2-2v4M132 263h4m-2-2v4M137 271h4m-2-2v4M265 264h4m-2-2v4M247 288h4m-2-2v4M199 282h4m-2-2v4M204 234h4m-2-2v4M157 282h4m-2-2v4M171 307h4m-2-2v4M203 236h4m-2-2v4M192 262h4m-2-2v4M264 251h4m-2-2v4M211 280h4m-2-2v4M235 234h4m-2-2v4M244 270h4m-2-2v4M220 250h4m-2-2v4M211 268h4m-2-2v4M179 246h4m-2-2v4M203 239h4m-2-2v4M189 249h4m-2-2v4M245 250h4m-2-2v4M252 230h4m-2-2v4M171 268h4m-2-2v4M286 312h4m-2-2v4M326 269h4m-2-2v4M180 287h4m-2-2v4M177 254h4m-2-2v4M232 307h4m-2-2v4M238 323h4m-2-2v4M199 256h4m-2-2v4M214 245h4m-2-2v4M282 305h4m-2-2v4M195 282h4m-2-2v4M200 279h4m-2-2v4M216 263h4m-2-2v4M166 251h4m-2-2v4M254 274h4m-2-2v4M180 255h4m-2-2v4M270 269h4m-2-2v4M260 261h4m-2-2v4M222 293h4m-2-2v4M239 268h4m-2-2v4M265 268h4m-2-2v4"/>
<path stroke="#00eaff" d="M212 295h4m-2-2v4M183 265h4m-2-2v4M191 262h4m-2-2v4M179 278h4m-2-2v4M251 262h4m-2-2v4M246 307h4m-2-2v4M148 244h4m-2-2v4M128 271h4m-2-2v4M195 272h4m-2-2v4M190 244h4m-2-2v4M167 249h4m-2-2v4M245 244h4m-2-2v4M279 248h4m-2-2v4M174 237h4m-2-2v4M177 259h4m-2-2v4M212 286h4m-2-2v4M108 306h4m-2-2v4M217 252h4m-2-2v4M248 237h4m-2-2v4M176 284h4m-2-2v4M242 258h4m-2-2v4M219 251h4m-2-2v4M248 255h4m-2-2v4M218 273h4m-2-2v4M230 305h4m-2-2v4M264 258h4m-2-2v4M233 250h4m-2-2v4M244 238h4m-2-2v4M206 252h4m-2-2v4M235 244h4m-2-2v4M204 250h4m-2-2v4M142 275h4m-2-2v4M194 273h4m-2-2v4M182 257h4m-2-2v4M176 253h4m-2-2v4M181 226h4m-2-2v4M177 239h4m-2-2v4M218 258h4m-2-2v4M170 235h4m-2-2v4M203 263h4m-2-2v4M198 249h4m-2-2v4M246 288h4m-2-2v4M228 274h4m-2-2v4M170 264h4m-2-2v4M215 260h4m-2-2v4M196 286h4m-2-2v4M196 272h4m-2-2v4M230 215h4m-2-2v4M204 242h4m-2-2v4M223 280h4m-2-2v4M188 225h4m-2-2v4M188 257h4m-2-2v4M250 267h4m-2-2v4M147 271h4m-2-2v4M214 251h4m-2-2v4M151 250h4m-2-2v4M197 267h4m-2-2v4M221 286h4m-2-2v4M285 247h4m-2-2v4M185 233h4m-2-2v4M203 272h4m-2-2v4M256 271h4m-2-2v4M137 252h4m-2-2v4M214 296h4m-2-2v4M287 280h4m-2-2v4M203 278h4m-2-2v4M182 268h4m-2-2v4M213 290h4m-2-2v4M218 276h4m-2-2v4M236 245h4m-2-2v4M190 228h4m-2-2v4M201 257h4m-2-2v4M244 236h4m-2-2v4M227 232h4m-2-2v4M227 280h4m-2-2v4M228 266h4m-2-2v4M185 260h4m-2-2v4M257 211h4m-2-2v4M233 242h4m-2-2v4M176 250h4m-2-2v4M193 306h4m-2-2v4M246 257h4m-2-2v4M268 226h4m-2-2v4M190 257h4m-2-2v4M227 263h4m-2-2v4M149 262h4m-2-2v4M199 251h4m-2-2v4M248 248h4m-2-2v4M261 263h4m-2-2v4M181 256h4m-2-2v4M232 265h4m-2-2v4M227 234h4m-2-2v4M309 265h4m-2-2v4M292 257h4m-2-2v4M215 271h4m-2-2v4M202 308h4m-2-2v4M190 246h4m-2-2v4M179 261h4m-2-2v4M155 261h4m-2-2v4M309 269h4m-2-2v4M248 289h4m-2-2v4M108 234h4m-2-2v4M170 286h4m-2-2v4M207 250h4m-2-2v4M149 283h4m-2-2v4M215 247h4m-2-2v4"/>
<path stroke="#00d2ff" d="M161 241h4m-2-2v4M181 267h4m-2-2v4M230 285h4m-2-2v4M214 280h4m-2-2v4M238 263h4m-2-2v4M157 246h4m-2-2v4M184 287h4m-2-2v4M174 240h4m-2-2v4M191 235h4m-2-2v4M210 242h4m-2-2v4M246 270h4m-2-2v4M226 270h4m-2-2v4M184 240h4m-2-2v4M252 276h4m-2-2v4M179 297h4m-2-2v4M223 243h4m-2-2v4M211 259h4m-2-2v4M194 250h4m-2-2v4M180 235h4m-2-2v4M187 269h4m-2-2v4M187 259h4m-2-2v4M170 246h4m-2-2v4M212 281h4m-2-2v4M133 249h4m-2-2v4M149 216h4m-2-2v4M188 270h4m-2-2v4M182 261h4m-2-2v4M213 267h4m-2-2v4M208 256h4m-2-2v4M194 292h4m-2-2v4M223 255h4m-2-2v4M149 242h4m-2-2v4M204 281h4m-2-2v4"/>
<path stroke="#00baff" d="M211 230h4m-2-2v4M181 262h4m-2-2v4M187 184h4m-2-2v4"/>
</g>
<g fill="none" stroke="#ececec" stroke-width="1.1" stroke-linecap="round">
<path d="M293 317L310.3 334.2L303.3 310.8"/>
<path d="M435 231.7L452.5 249.6L445.4 226.3"/>
<path d="M151.3 402L168.7 419.6L161.3 396.3"/>
</g>
<rect x="593" y="341" width="15" height="242" fill="url(#cb)" shape-rendering="crispEdges"/>
<g stroke="#000" stroke-width="1" shape-rendering="crispEdges" transform="translate(0 .5)">
<path d="M608.5 340.5v242"/>
<path d="M608 345h4M608 353h7M608 360h4M608 367h4M608 374h4M608 382h4M608 389h7M608 396h4M608 403h4M608 411h4M608 418h4M608 425h7M608 432h4M608 440h4M608 447h4M608 454h4M608 461h7M608 469h4M608 476h4M608 483h4M608 491h4M608 498h7M608 505h4M608 512h4M608 520h4M608 527h4M608 534h7M608 541h4M608 549h4M608 556h4M608 563h4M608 570h7M608 578h4M608 341h7M608 582h7"/>
</g>
</svg>
<div class="t lowell">Lowell</div>
<div class="t digi">DIGISONDE</div>
<div class="t hd" style="top:7px">STATION NAME    YYYY DATE  DDD HHMMSS AXN PPS IGP</div>
<div class="t hd" style="top:24px">Jeju            2017 May27 147 160342 417 100 -8U</div>
<div class="t cp" style="left:281.5px;top:46px">North</div>
<div class="t cp" style="left:281.5px;top:568px">South</div>
<div class="t cp" style="left:15.5px;top:307px">West</div>
<div class="t cp" style="left:552px;top:307px">East</div>
<div id="tb"><div class="r"><span class="k">Num of Sources</span><span class="v">6260</span></div><div class="r"><span class="k">Min Freq, kHz</span><span class="v">2900</span></div><div class="r"><span class="k">Max Freq, kHz</span><span class="v">3250</span></div><div class="r"><span class="k">Min Range, km</span><span class="v">265</span></div><div class="r"><span class="k">Max Range, km</span><span class="v">310</span></div><div class="r"><span class="k">Max Amp, dB</span><span class="v">36</span></div><div class="r"><span class="k">Max SNR Amp, dB</span><span class="v">36</span></div><div class="r"><span class="k">Min SNR Amp, dB</span><span class="v">11</span></div><div class="r"><span class="k">Avg SNR Amp, dB</span><span class="v">18</span></div><div class="r"><span class="k">Max RMS Err, deg</span><span class="v">12.0</span></div><div class="r"><span class="k">Min RMS Err, deg</span><span class="v">0.0</span></div><div class="r"><span class="k">Avg RMS Err, deg</span><span class="v">2.2</span></div><div class="r"><span class="k">Doppler Res, Hz</span><span class="v">0.0260</span></div><div class="r"><span class="k">CIT, sec</span><span class="v">38.40</span></div><div class="r"><span class="k">Num of CITs</span><span class="v">4</span></div><div class="r"><span class="k">Polarization</span><span class="v">O-mode</span></div><div class="r"><span class="k">Center of Sources, deg:</span><span class="v"></span></div><div class="r"><span class="k">          Zenith</span><span class="v">4.3</span></div><div class="r"><span class="k">          Azimuth</span><i class="az">&#8630;</i><span class="v">46</span></div></div>
<div class="t m" style="left:12px;top:561px"><i>V</i><sub>h</sub> = <i>74</i> ± <i>9</i> m/s</div>
<div class="t m" style="left:12px;top:582px"><i>Compass coordinates</i></div>
<div class="t m" style="left:466.5px;top:561px"><i>V</i><sub>z</sub> = <i>-10</i> ± <i>1</i> m/s</div>
<div class="t m" style="left:418.5px;top:582px"><i>Zenith: max 40<span class="dg">°</span>  step 5<span class="dg">°</span></i></div>
<div class="t sb" style="left:616.9px;top:335.35px;font-size:11px;line-height:14px">1.7</div>
<div class="t sb" style="left:616.9px;top:383.35px;font-size:11px;line-height:14px">1.0</div>
<div class="t sb" style="left:616.9px;top:419.35px;font-size:11px;line-height:14px">0.5</div>
<div class="t sb" style="left:616.9px;top:455.5px;font-size:11px;line-height:14px">0</div>
<div class="t sb" style="left:616.9px;top:492.35px;font-size:11px;line-height:14px">-0.5</div>
<div class="t sb" style="left:616.9px;top:528.6px;font-size:11px;line-height:14px">-1.0</div>
<div class="t sb" style="left:616.9px;top:576.35px;font-size:11px;line-height:14px">-1.7</div>
<div class="t sb" style="left:682px;top:397.3px;font-size:10px;line-height:12px;color:#0606ea">Positive<span class="sy" style="left:-14.6px;top:-2.2px;font-size:13px">+</span></div>
<div class="t sb" style="left:682px;top:517.6px;font-size:10px;line-height:12px;color:#e80404">Negative<span class="sy" style="left:-12.9px;top:-1.9px">o</span></div>
<div class="t sb" id="dop" style="left:649.5px;top:493px;font-size:10px;line-height:9px;letter-spacing:-1.0px;transform-origin:0 0;transform:rotate(-90deg)">Doppler, Hz</div>
<div class="t" style="left:654px;top:583px;width:138.7px;font-family:'DejaVu Sans','Liberation Sans',sans-serif;font-size:9.5px;line-height:12px;word-spacing:0px">ShowSkymap v 1.0<span style="display:inline-block;width:10.3px"> </span>SD v 5.0</div>
</body></html>
